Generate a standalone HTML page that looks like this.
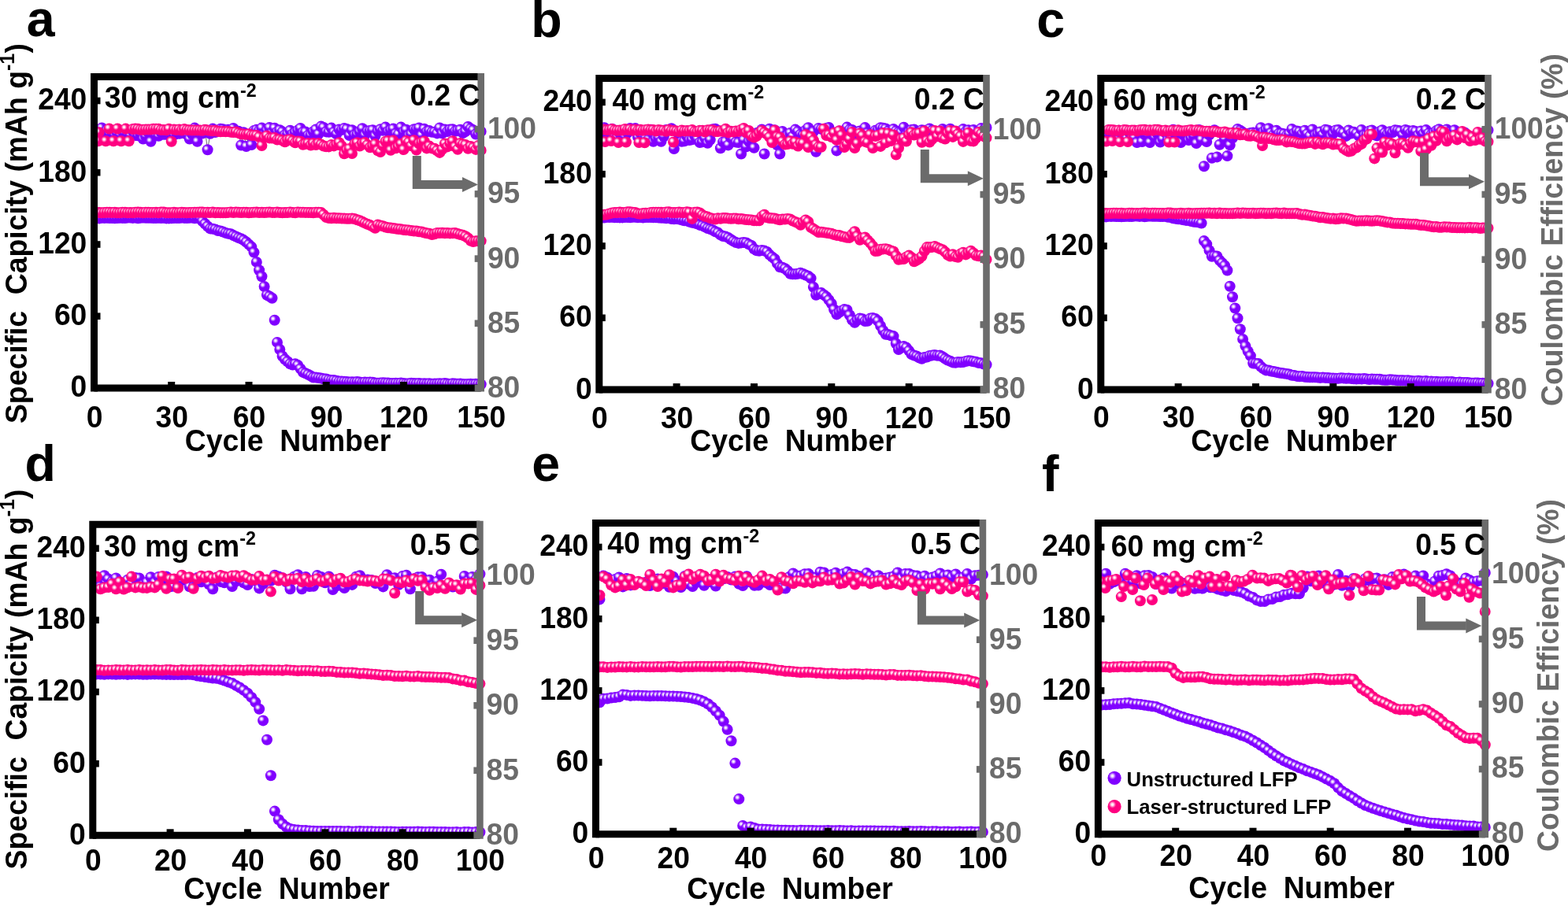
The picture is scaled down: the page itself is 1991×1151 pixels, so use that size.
<!DOCTYPE html>
<html lang="en"><head><meta charset="utf-8"><title>Cycling performance</title>
<style>html,body{margin:0;padding:0;background:#fff}body{width:1991px;height:1151px;overflow:hidden}svg{display:block}text{font-family:"Liberation Sans",Arial,Helvetica,sans-serif;font-weight:bold}</style></head><body>
<svg width="1991" height="1151" viewBox="0 0 1991 1151">
<defs>
<radialGradient id="gk" cx="0.35" cy="0.35" r="0.28"><stop offset="0" stop-color="#ffffff"/><stop offset="0.3" stop-color="#ffe0f0"/><stop offset="0.55" stop-color="#ff85c2"/><stop offset="0.8" stop-color="#ff2e97"/><stop offset="1" stop-color="#ff0080"/></radialGradient>
<radialGradient id="gu" cx="0.35" cy="0.35" r="0.28"><stop offset="0" stop-color="#ffffff"/><stop offset="0.3" stop-color="#f0e0ff"/><stop offset="0.55" stop-color="#c285ff"/><stop offset="0.8" stop-color="#972eff"/><stop offset="1" stop-color="#8000ff"/></radialGradient>
</defs>
<rect width="1991" height="1151" fill="#fff"/>
<g id="panel-a">
<g fill="url(#gu)">
<circle cx="122.8" cy="277.4" r="7.0"/><circle cx="126" cy="277.4" r="7.0"/><circle cx="129.3" cy="276.8" r="7.0"/><circle cx="132.6" cy="276.9" r="7.0"/><circle cx="135.9" cy="276.7" r="7.0"/><circle cx="139.1" cy="277" r="7.0"/><circle cx="142.4" cy="277.1" r="7.0"/><circle cx="145.7" cy="277.2" r="7.0"/><circle cx="149" cy="277.1" r="7.0"/><circle cx="152.2" cy="276.8" r="7.0"/><circle cx="155.5" cy="276.9" r="7.0"/><circle cx="158.8" cy="277" r="7.0"/><circle cx="162.1" cy="276.5" r="7.0"/><circle cx="165.3" cy="276.6" r="7.0"/><circle cx="168.6" cy="276.9" r="7.0"/><circle cx="171.9" cy="276.6" r="7.0"/><circle cx="175.2" cy="277.2" r="7.0"/><circle cx="178.4" cy="276.8" r="7.0"/><circle cx="181.7" cy="276.6" r="7.0"/><circle cx="185" cy="276.7" r="7.0"/><circle cx="188.3" cy="276.7" r="7.0"/><circle cx="191.5" cy="276.7" r="7.0"/><circle cx="194.8" cy="277" r="7.0"/><circle cx="198.1" cy="277" r="7.0"/><circle cx="201.4" cy="276.8" r="7.0"/><circle cx="204.6" cy="277.1" r="7.0"/><circle cx="207.9" cy="276.7" r="7.0"/><circle cx="211.2" cy="277.4" r="7.0"/><circle cx="214.5" cy="277.4" r="7.0"/><circle cx="217.7" cy="277.2" r="7.0"/><circle cx="221" cy="276.9" r="7.0"/><circle cx="224.3" cy="277" r="7.0"/><circle cx="227.6" cy="277" r="7.0"/><circle cx="230.8" cy="276.6" r="7.0"/><circle cx="234.1" cy="276.9" r="7.0"/><circle cx="237.4" cy="277" r="7.0"/><circle cx="240.7" cy="276.7" r="7.0"/><circle cx="243.9" cy="276.6" r="7.0"/><circle cx="247.2" cy="277.2" r="7.0"/><circle cx="250.5" cy="276.8" r="7.0"/><circle cx="253.8" cy="277.2" r="7.0"/><circle cx="257" cy="281" r="7.0"/><circle cx="260.3" cy="284.3" r="7.0"/><circle cx="263.6" cy="287.5" r="7.0"/><circle cx="266.9" cy="290.4" r="7.0"/><circle cx="270.1" cy="290.8" r="7.0"/><circle cx="273.4" cy="291.4" r="7.0"/><circle cx="276.7" cy="293" r="7.0"/><circle cx="280" cy="293.4" r="7.0"/><circle cx="283.2" cy="294.5" r="7.0"/><circle cx="286.5" cy="295.9" r="7.0"/><circle cx="289.8" cy="296.8" r="7.0"/><circle cx="293.1" cy="297.2" r="7.0"/><circle cx="296.3" cy="299.1" r="7.0"/><circle cx="299.6" cy="300.5" r="7.0"/><circle cx="302.9" cy="302.1" r="7.0"/><circle cx="306.2" cy="303.3" r="7.0"/><circle cx="309.4" cy="305.1" r="7.0"/><circle cx="312.7" cy="307.5" r="7.0"/><circle cx="316" cy="310.6" r="7.0"/><circle cx="319.3" cy="313.6" r="7.0"/><circle cx="322.5" cy="320.6" r="7.0"/><circle cx="325.8" cy="332.9" r="7.0"/><circle cx="329.1" cy="343.3" r="7.0"/><circle cx="332.4" cy="351.3" r="7.0"/><circle cx="335.6" cy="364" r="7.0"/><circle cx="338.9" cy="374.8" r="7.0"/><circle cx="342.2" cy="376.5" r="7.0"/><circle cx="345.5" cy="378.7" r="7.0"/><circle cx="348.7" cy="406.8" r="7.0"/><circle cx="352" cy="434.9" r="7.0"/><circle cx="355.3" cy="444" r="7.0"/><circle cx="358.6" cy="452.5" r="7.0"/><circle cx="361.8" cy="456.5" r="7.0"/><circle cx="365.1" cy="459.2" r="7.0"/><circle cx="368.4" cy="462.2" r="7.0"/><circle cx="371.6" cy="463.5" r="7.0"/><circle cx="374.9" cy="462.3" r="7.0"/><circle cx="378.2" cy="464" r="7.0"/><circle cx="381.5" cy="468.4" r="7.0"/><circle cx="384.7" cy="472.7" r="7.0"/><circle cx="388" cy="474.3" r="7.0"/><circle cx="391.3" cy="475.8" r="7.0"/><circle cx="394.6" cy="477.6" r="7.0"/><circle cx="397.8" cy="479.5" r="7.0"/><circle cx="401.1" cy="479.5" r="7.0"/><circle cx="404.4" cy="480.1" r="7.0"/><circle cx="407.7" cy="480.5" r="7.0"/><circle cx="410.9" cy="481.3" r="7.0"/><circle cx="414.2" cy="481.6" r="7.0"/><circle cx="417.5" cy="482.4" r="7.0"/><circle cx="420.8" cy="483" r="7.0"/><circle cx="424" cy="483.1" r="7.0"/><circle cx="427.3" cy="483.7" r="7.0"/><circle cx="430.6" cy="484.6" r="7.0"/><circle cx="433.9" cy="484.5" r="7.0"/><circle cx="437.1" cy="484.8" r="7.0"/><circle cx="440.4" cy="485.1" r="7.0"/><circle cx="443.7" cy="485.4" r="7.0"/><circle cx="447" cy="485.3" r="7.0"/><circle cx="450.2" cy="485.6" r="7.0"/><circle cx="453.5" cy="485.1" r="7.0"/><circle cx="456.8" cy="485.4" r="7.0"/><circle cx="460.1" cy="486.1" r="7.0"/><circle cx="463.3" cy="485.5" r="7.0"/><circle cx="466.6" cy="485.8" r="7.0"/><circle cx="469.9" cy="485.6" r="7.0"/><circle cx="473.2" cy="485.7" r="7.0"/><circle cx="476.4" cy="486.5" r="7.0"/><circle cx="479.7" cy="486.7" r="7.0"/><circle cx="483" cy="486.5" r="7.0"/><circle cx="486.3" cy="486.2" r="7.0"/><circle cx="489.5" cy="486.4" r="7.0"/><circle cx="492.8" cy="486.5" r="7.0"/><circle cx="496.1" cy="487" r="7.0"/><circle cx="499.4" cy="487" r="7.0"/><circle cx="502.6" cy="486.8" r="7.0"/><circle cx="505.9" cy="486.9" r="7.0"/><circle cx="509.2" cy="486.6" r="7.0"/><circle cx="512.5" cy="487" r="7.0"/><circle cx="515.7" cy="487.4" r="7.0"/><circle cx="519" cy="487.3" r="7.0"/><circle cx="522.3" cy="486.8" r="7.0"/><circle cx="525.6" cy="487.1" r="7.0"/><circle cx="528.8" cy="487.3" r="7.0"/><circle cx="532.1" cy="487" r="7.0"/><circle cx="535.4" cy="487.6" r="7.0"/><circle cx="538.7" cy="487.2" r="7.0"/><circle cx="541.9" cy="487.5" r="7.0"/><circle cx="545.2" cy="487.2" r="7.0"/><circle cx="548.5" cy="487.8" r="7.0"/><circle cx="551.8" cy="487.6" r="7.0"/><circle cx="555" cy="487.5" r="7.0"/><circle cx="558.3" cy="487.2" r="7.0"/><circle cx="561.6" cy="487.4" r="7.0"/><circle cx="564.9" cy="487.1" r="7.0"/><circle cx="568.1" cy="487.6" r="7.0"/><circle cx="571.4" cy="487.9" r="7.0"/><circle cx="574.7" cy="487.3" r="7.0"/><circle cx="578" cy="487.6" r="7.0"/><circle cx="581.2" cy="487.7" r="7.0"/><circle cx="584.5" cy="487.6" r="7.0"/><circle cx="587.8" cy="487.9" r="7.0"/><circle cx="591.1" cy="488.2" r="7.0"/><circle cx="594.3" cy="488" r="7.0"/><circle cx="597.6" cy="487.8" r="7.0"/><circle cx="600.9" cy="488.3" r="7.0"/><circle cx="604.2" cy="487.8" r="7.0"/><circle cx="607.4" cy="488.2" r="7.0"/><circle cx="610.7" cy="488.2" r="7.0"/>
</g>
<g fill="url(#gk)">
<circle cx="122.8" cy="269.9" r="7.0"/><circle cx="126" cy="270.1" r="7.0"/><circle cx="129.3" cy="270.3" r="7.0"/><circle cx="132.6" cy="270" r="7.0"/><circle cx="135.9" cy="269.8" r="7.0"/><circle cx="139.1" cy="269.7" r="7.0"/><circle cx="142.4" cy="270.1" r="7.0"/><circle cx="145.7" cy="269.7" r="7.0"/><circle cx="149" cy="270.3" r="7.0"/><circle cx="152.2" cy="270.3" r="7.0"/><circle cx="155.5" cy="269.7" r="7.0"/><circle cx="158.8" cy="269.8" r="7.0"/><circle cx="162.1" cy="270.2" r="7.0"/><circle cx="165.3" cy="270" r="7.0"/><circle cx="168.6" cy="270.2" r="7.0"/><circle cx="171.9" cy="269.8" r="7.0"/><circle cx="175.2" cy="269.6" r="7.0"/><circle cx="178.4" cy="269.7" r="7.0"/><circle cx="181.7" cy="270.2" r="7.0"/><circle cx="185" cy="269.7" r="7.0"/><circle cx="188.3" cy="269.8" r="7.0"/><circle cx="191.5" cy="269.9" r="7.0"/><circle cx="194.8" cy="269.9" r="7.0"/><circle cx="198.1" cy="269.8" r="7.0"/><circle cx="201.4" cy="270.3" r="7.0"/><circle cx="204.6" cy="269.6" r="7.0"/><circle cx="207.9" cy="269.5" r="7.0"/><circle cx="211.2" cy="270.2" r="7.0"/><circle cx="214.5" cy="270.2" r="7.0"/><circle cx="217.7" cy="270.3" r="7.0"/><circle cx="221" cy="269.8" r="7.0"/><circle cx="224.3" cy="270.3" r="7.0"/><circle cx="227.6" cy="270.3" r="7.0"/><circle cx="230.8" cy="269.7" r="7.0"/><circle cx="234.1" cy="270.1" r="7.0"/><circle cx="237.4" cy="270.2" r="7.0"/><circle cx="240.7" cy="270.1" r="7.0"/><circle cx="243.9" cy="269.9" r="7.0"/><circle cx="247.2" cy="269.7" r="7.0"/><circle cx="250.5" cy="269.8" r="7.0"/><circle cx="253.8" cy="269.6" r="7.0"/><circle cx="257" cy="269.5" r="7.0"/><circle cx="260.3" cy="269.9" r="7.0"/><circle cx="263.6" cy="269.7" r="7.0"/><circle cx="266.9" cy="270.1" r="7.0"/><circle cx="270.1" cy="269.5" r="7.0"/><circle cx="273.4" cy="270.2" r="7.0"/><circle cx="276.7" cy="270" r="7.0"/><circle cx="280" cy="270.2" r="7.0"/><circle cx="283.2" cy="270.2" r="7.0"/><circle cx="286.5" cy="270.2" r="7.0"/><circle cx="289.8" cy="269.9" r="7.0"/><circle cx="293.1" cy="269.4" r="7.0"/><circle cx="296.3" cy="270" r="7.0"/><circle cx="299.6" cy="269.6" r="7.0"/><circle cx="302.9" cy="269.7" r="7.0"/><circle cx="306.2" cy="270" r="7.0"/><circle cx="309.4" cy="269.8" r="7.0"/><circle cx="312.7" cy="269.8" r="7.0"/><circle cx="316" cy="270.2" r="7.0"/><circle cx="319.3" cy="269.9" r="7.0"/><circle cx="322.5" cy="269.7" r="7.0"/><circle cx="325.8" cy="269.6" r="7.0"/><circle cx="329.1" cy="270.1" r="7.0"/><circle cx="332.4" cy="269.8" r="7.0"/><circle cx="335.6" cy="270.1" r="7.0"/><circle cx="338.9" cy="269.7" r="7.0"/><circle cx="342.2" cy="269.6" r="7.0"/><circle cx="345.5" cy="269.9" r="7.0"/><circle cx="348.7" cy="270.1" r="7.0"/><circle cx="352" cy="269.5" r="7.0"/><circle cx="355.3" cy="270.1" r="7.0"/><circle cx="358.6" cy="270.2" r="7.0"/><circle cx="361.8" cy="270.1" r="7.0"/><circle cx="365.1" cy="270.1" r="7.0"/><circle cx="368.4" cy="269.4" r="7.0"/><circle cx="371.6" cy="269.9" r="7.0"/><circle cx="374.9" cy="270.2" r="7.0"/><circle cx="378.2" cy="269.4" r="7.0"/><circle cx="381.5" cy="269.7" r="7.0"/><circle cx="384.7" cy="269.7" r="7.0"/><circle cx="388" cy="269.9" r="7.0"/><circle cx="391.3" cy="269.9" r="7.0"/><circle cx="394.6" cy="270" r="7.0"/><circle cx="397.8" cy="270.3" r="7.0"/><circle cx="401.1" cy="269.7" r="7.0"/><circle cx="404.4" cy="269.8" r="7.0"/><circle cx="407.7" cy="269.9" r="7.0"/><circle cx="410.9" cy="272.7" r="7.0"/><circle cx="414.2" cy="276.1" r="7.0"/><circle cx="417.5" cy="277.1" r="7.0"/><circle cx="420.8" cy="277.2" r="7.0"/><circle cx="424" cy="276.7" r="7.0"/><circle cx="427.3" cy="277.3" r="7.0"/><circle cx="430.6" cy="277.3" r="7.0"/><circle cx="433.9" cy="277.5" r="7.0"/><circle cx="437.1" cy="277.6" r="7.0"/><circle cx="440.4" cy="277.8" r="7.0"/><circle cx="443.7" cy="277.7" r="7.0"/><circle cx="447" cy="277.5" r="7.0"/><circle cx="450.2" cy="278" r="7.0"/><circle cx="453.5" cy="279.3" r="7.0"/><circle cx="456.8" cy="280.2" r="7.0"/><circle cx="460.1" cy="281.8" r="7.0"/><circle cx="463.3" cy="283.4" r="7.0"/><circle cx="466.6" cy="284.7" r="7.0"/><circle cx="469.9" cy="286.1" r="7.0"/><circle cx="473.2" cy="287.8" r="7.0"/><circle cx="476.4" cy="289.8" r="7.0"/><circle cx="479.7" cy="285.6" r="7.0"/><circle cx="483" cy="286.6" r="7.0"/><circle cx="486.3" cy="287.2" r="7.0"/><circle cx="489.5" cy="288.5" r="7.0"/><circle cx="492.8" cy="289.2" r="7.0"/><circle cx="496.1" cy="289.6" r="7.0"/><circle cx="499.4" cy="290" r="7.0"/><circle cx="502.6" cy="290.5" r="7.0"/><circle cx="505.9" cy="291.1" r="7.0"/><circle cx="509.2" cy="291.3" r="7.0"/><circle cx="512.5" cy="292" r="7.0"/><circle cx="515.7" cy="292.2" r="7.0"/><circle cx="519" cy="292.4" r="7.0"/><circle cx="522.3" cy="293.1" r="7.0"/><circle cx="525.6" cy="293.6" r="7.0"/><circle cx="528.8" cy="293.5" r="7.0"/><circle cx="532.1" cy="294.2" r="7.0"/><circle cx="535.4" cy="294.6" r="7.0"/><circle cx="538.7" cy="295.5" r="7.0"/><circle cx="541.9" cy="296.2" r="7.0"/><circle cx="545.2" cy="296.7" r="7.0"/><circle cx="548.5" cy="298.1" r="7.0"/><circle cx="551.8" cy="297.3" r="7.0"/><circle cx="555" cy="295.9" r="7.0"/><circle cx="558.3" cy="296" r="7.0"/><circle cx="561.6" cy="295.7" r="7.0"/><circle cx="564.9" cy="296.3" r="7.0"/><circle cx="568.1" cy="296.1" r="7.0"/><circle cx="571.4" cy="296.4" r="7.0"/><circle cx="574.7" cy="296.2" r="7.0"/><circle cx="578" cy="296.1" r="7.0"/><circle cx="581.2" cy="297" r="7.0"/><circle cx="584.5" cy="298" r="7.0"/><circle cx="587.8" cy="298.7" r="7.0"/><circle cx="591.1" cy="300.2" r="7.0"/><circle cx="594.3" cy="302.4" r="7.0"/><circle cx="597.6" cy="305.8" r="7.0"/><circle cx="600.9" cy="307.1" r="7.0"/><circle cx="604.2" cy="306.3" r="7.0"/><circle cx="607.4" cy="306.2" r="7.0"/><circle cx="610.7" cy="306.1" r="7.0"/>
</g>
<polyline fill="none" stroke="#444" stroke-width="0.8" points="122.8,169 126,168.1 129.3,162.5 132.6,168 135.9,165.4 139.1,169.8 142.4,168 145.7,171.5 149,169.6 152.2,170.9 155.5,166.2 158.8,169.1 162.1,170.2 165.3,171.3 168.6,166.3 171.9,171.9 175.2,172.2 178.4,170.2 181.7,176.6 185,172.9 188.3,168 191.5,179.8 194.8,164.7 198.1,171.6 201.4,172.8 204.6,168.1 207.9,170.7 211.2,170.7 214.5,170.7 217.7,165.2 221,171.2 224.3,168.8 227.6,169.8 230.8,167.7 234.1,169.3 237.4,170.7 240.7,176.6 243.9,170.2 247.2,162.6 250.5,179.8 253.8,167.5 257,169.6 260.3,165.1 263.6,190.3 266.9,169.8 270.1,163.6 273.4,168 276.7,165.6 280,163.7 283.2,164.2 286.5,166 289.8,164.8 293.1,164.8 296.3,163 299.6,167.7 302.9,166.7 306.2,184.5 309.4,168.2 312.7,186 316,171.4 319.3,184 322.5,165.9 325.8,164.8 329.1,165.7 332.4,162.6 335.6,170.8 338.9,165.8 342.2,162.1 345.5,169 348.7,162.8 352,167.4 355.3,165.2 358.6,167.4 361.8,171.2 365.1,170 368.4,165.8 371.6,170.2 374.9,168.2 378.2,165.6 381.5,162.9 384.7,168 388,167.6 391.3,172 394.6,171.6 397.8,167.2 401.1,164.5 404.4,170.4 407.7,160.6 410.9,162 414.2,167.4 417.5,167.8 420.8,162.6 424,167.9 427.3,170.4 430.6,164.5 433.9,165.1 437.1,163 440.4,163.9 443.7,172 447,165.3 450.2,171.6 453.5,170.7 456.8,167 460.1,163.3 463.3,171.7 466.6,166.6 469.9,166.1 473.2,165.2 476.4,172.7 479.7,166.7 483,164.2 486.3,165.8 489.5,161.6 492.8,167 496.1,165.2 499.4,163.6 502.6,169.7 505.9,170.6 509.2,161.6 512.5,167.5 515.7,164.8 519,172.1 522.3,170.3 525.6,164.3 528.8,164.1 532.1,162.5 535.4,171.8 538.7,163.8 541.9,167.3 545.2,166.1 548.5,167.7 551.8,167.7 555,169.4 558.3,162.4 561.6,169.4 564.9,164.6 568.1,167 571.4,164.6 574.7,164.3 578,166.8 581.2,165.8 584.5,164.8 587.8,169.1 591.1,167 594.3,161 597.6,163.4 600.9,165.3 604.2,170.6 607.4,170.5 610.7,167"/>
<g fill="url(#gu)">
<circle cx="122.8" cy="169" r="7.0"/><circle cx="126" cy="168.1" r="7.0"/><circle cx="129.3" cy="162.5" r="7.0"/><circle cx="132.6" cy="168" r="7.0"/><circle cx="135.9" cy="165.4" r="7.0"/><circle cx="139.1" cy="169.8" r="7.0"/><circle cx="142.4" cy="168" r="7.0"/><circle cx="145.7" cy="171.5" r="7.0"/><circle cx="149" cy="169.6" r="7.0"/><circle cx="152.2" cy="170.9" r="7.0"/><circle cx="155.5" cy="166.2" r="7.0"/><circle cx="158.8" cy="169.1" r="7.0"/><circle cx="162.1" cy="170.2" r="7.0"/><circle cx="165.3" cy="171.3" r="7.0"/><circle cx="168.6" cy="166.3" r="7.0"/><circle cx="171.9" cy="171.9" r="7.0"/><circle cx="175.2" cy="172.2" r="7.0"/><circle cx="178.4" cy="170.2" r="7.0"/><circle cx="181.7" cy="176.6" r="7.0"/><circle cx="185" cy="172.9" r="7.0"/><circle cx="188.3" cy="168" r="7.0"/><circle cx="191.5" cy="179.8" r="7.0"/><circle cx="194.8" cy="164.7" r="7.0"/><circle cx="198.1" cy="171.6" r="7.0"/><circle cx="201.4" cy="172.8" r="7.0"/><circle cx="204.6" cy="168.1" r="7.0"/><circle cx="207.9" cy="170.7" r="7.0"/><circle cx="211.2" cy="170.7" r="7.0"/><circle cx="214.5" cy="170.7" r="7.0"/><circle cx="217.7" cy="165.2" r="7.0"/><circle cx="221" cy="171.2" r="7.0"/><circle cx="224.3" cy="168.8" r="7.0"/><circle cx="227.6" cy="169.8" r="7.0"/><circle cx="230.8" cy="167.7" r="7.0"/><circle cx="234.1" cy="169.3" r="7.0"/><circle cx="237.4" cy="170.7" r="7.0"/><circle cx="240.7" cy="176.6" r="7.0"/><circle cx="243.9" cy="170.2" r="7.0"/><circle cx="247.2" cy="162.6" r="7.0"/><circle cx="250.5" cy="179.8" r="7.0"/><circle cx="253.8" cy="167.5" r="7.0"/><circle cx="257" cy="169.6" r="7.0"/><circle cx="260.3" cy="165.1" r="7.0"/><circle cx="263.6" cy="190.3" r="7.0"/><circle cx="266.9" cy="169.8" r="7.0"/><circle cx="270.1" cy="163.6" r="7.0"/><circle cx="273.4" cy="168" r="7.0"/><circle cx="276.7" cy="165.6" r="7.0"/><circle cx="280" cy="163.7" r="7.0"/><circle cx="283.2" cy="164.2" r="7.0"/><circle cx="286.5" cy="166" r="7.0"/><circle cx="289.8" cy="164.8" r="7.0"/><circle cx="293.1" cy="164.8" r="7.0"/><circle cx="296.3" cy="163" r="7.0"/><circle cx="299.6" cy="167.7" r="7.0"/><circle cx="302.9" cy="166.7" r="7.0"/><circle cx="306.2" cy="184.5" r="7.0"/><circle cx="309.4" cy="168.2" r="7.0"/><circle cx="312.7" cy="186" r="7.0"/><circle cx="316" cy="171.4" r="7.0"/><circle cx="319.3" cy="184" r="7.0"/><circle cx="322.5" cy="165.9" r="7.0"/><circle cx="325.8" cy="164.8" r="7.0"/><circle cx="329.1" cy="165.7" r="7.0"/><circle cx="332.4" cy="162.6" r="7.0"/><circle cx="335.6" cy="170.8" r="7.0"/><circle cx="338.9" cy="165.8" r="7.0"/><circle cx="342.2" cy="162.1" r="7.0"/><circle cx="345.5" cy="169" r="7.0"/><circle cx="348.7" cy="162.8" r="7.0"/><circle cx="352" cy="167.4" r="7.0"/><circle cx="355.3" cy="165.2" r="7.0"/><circle cx="358.6" cy="167.4" r="7.0"/><circle cx="361.8" cy="171.2" r="7.0"/><circle cx="365.1" cy="170" r="7.0"/><circle cx="368.4" cy="165.8" r="7.0"/><circle cx="371.6" cy="170.2" r="7.0"/><circle cx="374.9" cy="168.2" r="7.0"/><circle cx="378.2" cy="165.6" r="7.0"/><circle cx="381.5" cy="162.9" r="7.0"/><circle cx="384.7" cy="168" r="7.0"/><circle cx="388" cy="167.6" r="7.0"/><circle cx="391.3" cy="172" r="7.0"/><circle cx="394.6" cy="171.6" r="7.0"/><circle cx="397.8" cy="167.2" r="7.0"/><circle cx="401.1" cy="164.5" r="7.0"/><circle cx="404.4" cy="170.4" r="7.0"/><circle cx="407.7" cy="160.6" r="7.0"/><circle cx="410.9" cy="162" r="7.0"/><circle cx="414.2" cy="167.4" r="7.0"/><circle cx="417.5" cy="167.8" r="7.0"/><circle cx="420.8" cy="162.6" r="7.0"/><circle cx="424" cy="167.9" r="7.0"/><circle cx="427.3" cy="170.4" r="7.0"/><circle cx="430.6" cy="164.5" r="7.0"/><circle cx="433.9" cy="165.1" r="7.0"/><circle cx="437.1" cy="163" r="7.0"/><circle cx="440.4" cy="163.9" r="7.0"/><circle cx="443.7" cy="172" r="7.0"/><circle cx="447" cy="165.3" r="7.0"/><circle cx="450.2" cy="171.6" r="7.0"/><circle cx="453.5" cy="170.7" r="7.0"/><circle cx="456.8" cy="167" r="7.0"/><circle cx="460.1" cy="163.3" r="7.0"/><circle cx="463.3" cy="171.7" r="7.0"/><circle cx="466.6" cy="166.6" r="7.0"/><circle cx="469.9" cy="166.1" r="7.0"/><circle cx="473.2" cy="165.2" r="7.0"/><circle cx="476.4" cy="172.7" r="7.0"/><circle cx="479.7" cy="166.7" r="7.0"/><circle cx="483" cy="164.2" r="7.0"/><circle cx="486.3" cy="165.8" r="7.0"/><circle cx="489.5" cy="161.6" r="7.0"/><circle cx="492.8" cy="167" r="7.0"/><circle cx="496.1" cy="165.2" r="7.0"/><circle cx="499.4" cy="163.6" r="7.0"/><circle cx="502.6" cy="169.7" r="7.0"/><circle cx="505.9" cy="170.6" r="7.0"/><circle cx="509.2" cy="161.6" r="7.0"/><circle cx="512.5" cy="167.5" r="7.0"/><circle cx="515.7" cy="164.8" r="7.0"/><circle cx="519" cy="172.1" r="7.0"/><circle cx="522.3" cy="170.3" r="7.0"/><circle cx="525.6" cy="164.3" r="7.0"/><circle cx="528.8" cy="164.1" r="7.0"/><circle cx="532.1" cy="162.5" r="7.0"/><circle cx="535.4" cy="171.8" r="7.0"/><circle cx="538.7" cy="163.8" r="7.0"/><circle cx="541.9" cy="167.3" r="7.0"/><circle cx="545.2" cy="166.1" r="7.0"/><circle cx="548.5" cy="167.7" r="7.0"/><circle cx="551.8" cy="167.7" r="7.0"/><circle cx="555" cy="169.4" r="7.0"/><circle cx="558.3" cy="162.4" r="7.0"/><circle cx="561.6" cy="169.4" r="7.0"/><circle cx="564.9" cy="164.6" r="7.0"/><circle cx="568.1" cy="167" r="7.0"/><circle cx="571.4" cy="164.6" r="7.0"/><circle cx="574.7" cy="164.3" r="7.0"/><circle cx="578" cy="166.8" r="7.0"/><circle cx="581.2" cy="165.8" r="7.0"/><circle cx="584.5" cy="164.8" r="7.0"/><circle cx="587.8" cy="169.1" r="7.0"/><circle cx="591.1" cy="167" r="7.0"/><circle cx="594.3" cy="161" r="7.0"/><circle cx="597.6" cy="163.4" r="7.0"/><circle cx="600.9" cy="165.3" r="7.0"/><circle cx="604.2" cy="170.6" r="7.0"/><circle cx="607.4" cy="170.5" r="7.0"/><circle cx="610.7" cy="167" r="7.0"/>
</g>
<g fill="url(#gk)">
<circle cx="125.6" cy="168.2" r="7.0"/><circle cx="124.5" cy="179.2" r="7.0"/><circle cx="134.3" cy="179.2" r="7.0"/><circle cx="144.1" cy="179.2" r="7.0"/><circle cx="153.9" cy="179.2" r="7.0"/><circle cx="163.7" cy="179.2" r="7.0"/><circle cx="138.7" cy="163.5" r="7.0"/><circle cx="149.2" cy="163.5" r="7.0"/><circle cx="159.6" cy="163.6" r="7.0"/><circle cx="168.6" cy="164" r="7.0"/><circle cx="171.9" cy="163.5" r="7.0"/><circle cx="175.2" cy="163.8" r="7.0"/><circle cx="178.4" cy="164.7" r="7.0"/><circle cx="181.7" cy="164.8" r="7.0"/><circle cx="185" cy="164.4" r="7.0"/><circle cx="188.3" cy="164.5" r="7.0"/><circle cx="191.5" cy="164.4" r="7.0"/><circle cx="194.8" cy="163.8" r="7.0"/><circle cx="198.1" cy="163.7" r="7.0"/><circle cx="201.4" cy="163.7" r="7.0"/><circle cx="204.6" cy="165.1" r="7.0"/><circle cx="207.9" cy="164.9" r="7.0"/><circle cx="211.2" cy="165.3" r="7.0"/><circle cx="214.5" cy="163.8" r="7.0"/><circle cx="217.7" cy="179.8" r="7.0"/><circle cx="221" cy="164.6" r="7.0"/><circle cx="224.3" cy="165" r="7.0"/><circle cx="227.6" cy="164.4" r="7.0"/><circle cx="230.8" cy="165.5" r="7.0"/><circle cx="234.1" cy="164.1" r="7.0"/><circle cx="237.4" cy="164.9" r="7.0"/><circle cx="240.7" cy="165.3" r="7.0"/><circle cx="243.9" cy="165.6" r="7.0"/><circle cx="247.2" cy="165.4" r="7.0"/><circle cx="250.5" cy="165.4" r="7.0"/><circle cx="253.8" cy="165.5" r="7.0"/><circle cx="257" cy="165.7" r="7.0"/><circle cx="260.3" cy="164.8" r="7.0"/><circle cx="263.6" cy="165.4" r="7.0"/><circle cx="266.9" cy="165.9" r="7.0"/><circle cx="270.1" cy="166.2" r="7.0"/><circle cx="273.4" cy="165.8" r="7.0"/><circle cx="276.7" cy="166.8" r="7.0"/><circle cx="280" cy="167.2" r="7.0"/><circle cx="283.2" cy="167" r="7.0"/><circle cx="286.5" cy="167.3" r="7.0"/><circle cx="289.8" cy="167.1" r="7.0"/><circle cx="293.1" cy="167.7" r="7.0"/><circle cx="296.3" cy="168.1" r="7.0"/><circle cx="299.6" cy="167.5" r="7.0"/><circle cx="302.9" cy="168.9" r="7.0"/><circle cx="306.2" cy="170.2" r="7.0"/><circle cx="309.4" cy="170.5" r="7.0"/><circle cx="312.7" cy="170.7" r="7.0"/><circle cx="316" cy="170.2" r="7.0"/><circle cx="319.3" cy="171.9" r="7.0"/><circle cx="322.5" cy="171.9" r="7.0"/><circle cx="325.8" cy="171.9" r="7.0"/><circle cx="329.1" cy="174" r="7.0"/><circle cx="332.4" cy="185" r="7.0"/><circle cx="335.6" cy="174.9" r="7.0"/><circle cx="338.9" cy="172.4" r="7.0"/><circle cx="342.2" cy="175.4" r="7.0"/><circle cx="345.5" cy="175.5" r="7.0"/><circle cx="348.7" cy="174.9" r="7.0"/><circle cx="352" cy="177.6" r="7.0"/><circle cx="355.3" cy="177.2" r="7.0"/><circle cx="358.6" cy="178.4" r="7.0"/><circle cx="361.8" cy="180.3" r="7.0"/><circle cx="365.1" cy="177.8" r="7.0"/><circle cx="368.4" cy="177.2" r="7.0"/><circle cx="371.6" cy="179" r="7.0"/><circle cx="374.9" cy="181.2" r="7.0"/><circle cx="378.2" cy="179.5" r="7.0"/><circle cx="381.5" cy="179.7" r="7.0"/><circle cx="384.7" cy="183.7" r="7.0"/><circle cx="388" cy="182.8" r="7.0"/><circle cx="391.3" cy="182" r="7.0"/><circle cx="394.6" cy="184.5" r="7.0"/><circle cx="397.8" cy="182.1" r="7.0"/><circle cx="401.1" cy="184.1" r="7.0"/><circle cx="404.4" cy="182.1" r="7.0"/><circle cx="407.7" cy="183.5" r="7.0"/><circle cx="410.9" cy="185.5" r="7.0"/><circle cx="414.2" cy="186.3" r="7.0"/><circle cx="417.5" cy="186.4" r="7.0"/><circle cx="420.8" cy="184" r="7.0"/><circle cx="424" cy="185.4" r="7.0"/><circle cx="427.3" cy="183.5" r="7.0"/><circle cx="430.6" cy="181.2" r="7.0"/><circle cx="433.9" cy="185.4" r="7.0"/><circle cx="437.1" cy="195.3" r="7.0"/><circle cx="440.4" cy="190.8" r="7.0"/><circle cx="443.7" cy="188.9" r="7.0"/><circle cx="447" cy="195" r="7.0"/><circle cx="450.2" cy="182.7" r="7.0"/><circle cx="453.5" cy="181.2" r="7.0"/><circle cx="456.8" cy="185.6" r="7.0"/><circle cx="460.1" cy="182.3" r="7.0"/><circle cx="463.3" cy="181.1" r="7.0"/><circle cx="466.6" cy="184.1" r="7.0"/><circle cx="469.9" cy="187.3" r="7.0"/><circle cx="473.2" cy="185.5" r="7.0"/><circle cx="476.4" cy="183.1" r="7.0"/><circle cx="479.7" cy="191.2" r="7.0"/><circle cx="483" cy="193.1" r="7.0"/><circle cx="486.3" cy="185.2" r="7.0"/><circle cx="489.5" cy="179.8" r="7.0"/><circle cx="492.8" cy="179.1" r="7.0"/><circle cx="496.1" cy="190.8" r="7.0"/><circle cx="499.4" cy="178.6" r="7.0"/><circle cx="502.6" cy="188.3" r="7.0"/><circle cx="505.9" cy="186.2" r="7.0"/><circle cx="509.2" cy="182.8" r="7.0"/><circle cx="512.5" cy="190.1" r="7.0"/><circle cx="515.7" cy="178.9" r="7.0"/><circle cx="519" cy="180.7" r="7.0"/><circle cx="522.3" cy="185.3" r="7.0"/><circle cx="525.6" cy="178.2" r="7.0"/><circle cx="528.8" cy="190.5" r="7.0"/><circle cx="532.1" cy="182.2" r="7.0"/><circle cx="535.4" cy="180.9" r="7.0"/><circle cx="538.7" cy="179.4" r="7.0"/><circle cx="541.9" cy="188.4" r="7.0"/><circle cx="545.2" cy="185.6" r="7.0"/><circle cx="548.5" cy="188.4" r="7.0"/><circle cx="551.8" cy="188.7" r="7.0"/><circle cx="555" cy="191.2" r="7.0"/><circle cx="558.3" cy="193.9" r="7.0"/><circle cx="561.6" cy="189.8" r="7.0"/><circle cx="564.9" cy="182.5" r="7.0"/><circle cx="568.1" cy="186.4" r="7.0"/><circle cx="571.4" cy="181.9" r="7.0"/><circle cx="574.7" cy="179.3" r="7.0"/><circle cx="578" cy="186.4" r="7.0"/><circle cx="581.2" cy="189.8" r="7.0"/><circle cx="584.5" cy="182.1" r="7.0"/><circle cx="587.8" cy="183.2" r="7.0"/><circle cx="591.1" cy="184" r="7.0"/><circle cx="594.3" cy="188.8" r="7.0"/><circle cx="597.6" cy="186" r="7.0"/><circle cx="600.9" cy="187.5" r="7.0"/><circle cx="604.2" cy="189.9" r="7.0"/><circle cx="607.4" cy="184.9" r="7.0"/><circle cx="610.7" cy="190.9" r="7.0"/>
</g>
<path d="M529.3 198 V234.4 H587.5" fill="none" stroke="#6b6b6b" stroke-width="11"/>
<path d="M587 224.9 L607 234.4 L587 243.9 Z" fill="#6b6b6b"/>
<path d="M119.5 497.5 V97.6 H610.7" fill="none" stroke="#000" stroke-width="9" stroke-linejoin="miter"/>
<path d="M119.5 493 H610.7" fill="none" stroke="#000" stroke-width="9"/>
<rect x="119.5" y="123.7" width="8" height="8.6" fill="#000"/>
<text transform="translate(110.3 139.4) scale(0.94 1)" font-size="39.6" text-anchor="end" fill="#000">240</text>
<rect x="119.5" y="214.9" width="8" height="8.6" fill="#000"/>
<text transform="translate(110.3 230.7) scale(0.94 1)" font-size="39.6" text-anchor="end" fill="#000">180</text>
<rect x="119.5" y="306.2" width="8" height="8.6" fill="#000"/>
<text transform="translate(110.3 321.9) scale(0.94 1)" font-size="39.6" text-anchor="end" fill="#000">120</text>
<rect x="119.5" y="397.4" width="8" height="8.6" fill="#000"/>
<text transform="translate(110.3 413.1) scale(0.94 1)" font-size="39.6" text-anchor="end" fill="#000">60</text>
<text transform="translate(110.3 504.4) scale(0.94 1)" font-size="39.6" text-anchor="end" fill="#000">0</text>
<text transform="translate(120 542.6) scale(0.94 1)" font-size="39.6" text-anchor="middle" fill="#000">0</text>
<rect x="213.2" y="485" width="9" height="8" fill="#000"/>
<text transform="translate(218.2 542.6) scale(0.94 1)" font-size="39.6" text-anchor="middle" fill="#000">30</text>
<rect x="311.5" y="485" width="9" height="8" fill="#000"/>
<text transform="translate(316.5 542.6) scale(0.94 1)" font-size="39.6" text-anchor="middle" fill="#000">60</text>
<rect x="409.7" y="485" width="9" height="8" fill="#000"/>
<text transform="translate(414.7 542.6) scale(0.94 1)" font-size="39.6" text-anchor="middle" fill="#000">90</text>
<rect x="508" y="485" width="9" height="8" fill="#000"/>
<text transform="translate(513 542.6) scale(0.94 1)" font-size="39.6" text-anchor="middle" fill="#000">120</text>
<text transform="translate(611.2 542.6) scale(0.94 1)" font-size="39.6" text-anchor="middle" fill="#000">150</text>
<path d="M610.7 93.1 V497.5" fill="none" stroke="#6b6b6b" stroke-width="8.6"/>
<rect x="602.7" y="488.7" width="8" height="8.6" fill="#6b6b6b"/>
<text transform="translate(618.9 504.6) scale(0.94 1)" font-size="39.6" fill="#6b6b6b">80</text>
<rect x="602.7" y="406.5" width="8" height="8.6" fill="#6b6b6b"/>
<text transform="translate(618.9 422.5) scale(0.94 1)" font-size="39.6" fill="#6b6b6b">85</text>
<rect x="602.7" y="324.3" width="8" height="8.6" fill="#6b6b6b"/>
<text transform="translate(618.9 340.5) scale(0.94 1)" font-size="39.6" fill="#6b6b6b">90</text>
<rect x="602.7" y="242.1" width="8" height="8.6" fill="#6b6b6b"/>
<text transform="translate(618.9 258.4) scale(0.94 1)" font-size="39.6" fill="#6b6b6b">95</text>
<rect x="602.7" y="159.9" width="8" height="8.6" fill="#6b6b6b"/>
<text transform="translate(618.9 176.3) scale(0.94 1)" font-size="39.6" fill="#6b6b6b">100</text>
<text transform="translate(132.8 137.1) scale(0.97 1)" font-size="38.5" fill="#000">30 mg cm<tspan font-size="24" dy="-14.5">-2</tspan></text>
<text transform="translate(609.5 134.3) scale(0.94 1)" font-size="39.6" text-anchor="end" fill="#000">0.2 C</text>
<text transform="translate(365.5 573.4) scale(0.97 1)" font-size="38.5" text-anchor="middle" fill="#000" xml:space="preserve" style="white-space:pre">Cycle  Number</text>
<text transform="translate(33.7 46) scale(1 1)" font-size="64.5" fill="#000">a</text>
</g>
<g id="panel-b">
<g fill="url(#gu)">
<circle cx="764.1" cy="276.5" r="7.0"/><circle cx="767.4" cy="276.5" r="7.0"/><circle cx="770.6" cy="275.8" r="7.0"/><circle cx="773.9" cy="276" r="7.0"/><circle cx="777.2" cy="275.8" r="7.0"/><circle cx="780.5" cy="276.2" r="7.0"/><circle cx="783.7" cy="276.2" r="7.0"/><circle cx="787" cy="276.4" r="7.0"/><circle cx="790.3" cy="276.4" r="7.0"/><circle cx="793.6" cy="275.9" r="7.0"/><circle cx="796.9" cy="276.1" r="7.0"/><circle cx="800.1" cy="276.2" r="7.0"/><circle cx="803.4" cy="275.7" r="7.0"/><circle cx="806.7" cy="275.8" r="7.0"/><circle cx="810" cy="276.2" r="7.0"/><circle cx="813.2" cy="275.9" r="7.0"/><circle cx="816.5" cy="276.6" r="7.0"/><circle cx="819.8" cy="276.1" r="7.0"/><circle cx="823.1" cy="276" r="7.0"/><circle cx="826.4" cy="276.1" r="7.0"/><circle cx="829.6" cy="276.2" r="7.0"/><circle cx="832.9" cy="276.2" r="7.0"/><circle cx="836.2" cy="276.6" r="7.0"/><circle cx="839.5" cy="276.7" r="7.0"/><circle cx="842.8" cy="276.7" r="7.0"/><circle cx="846" cy="277.3" r="7.0"/><circle cx="849.3" cy="277" r="7.0"/><circle cx="852.6" cy="278" r="7.0"/><circle cx="855.9" cy="278.2" r="7.0"/><circle cx="859.1" cy="278.1" r="7.0"/><circle cx="862.4" cy="278.5" r="7.0"/><circle cx="865.7" cy="279.4" r="7.0"/><circle cx="869" cy="280.2" r="7.0"/><circle cx="872.3" cy="280.5" r="7.0"/><circle cx="875.5" cy="281.7" r="7.0"/><circle cx="878.8" cy="282.8" r="7.0"/><circle cx="882.1" cy="283.4" r="7.0"/><circle cx="885.4" cy="284.2" r="7.0"/><circle cx="888.6" cy="285.9" r="7.0"/><circle cx="891.9" cy="286.6" r="7.0"/><circle cx="895.2" cy="288.2" r="7.0"/><circle cx="898.5" cy="290" r="7.0"/><circle cx="901.8" cy="291.1" r="7.0"/><circle cx="905" cy="292.2" r="7.0"/><circle cx="908.3" cy="294.3" r="7.0"/><circle cx="911.6" cy="295.6" r="7.0"/><circle cx="914.9" cy="298.4" r="7.0"/><circle cx="918.1" cy="300.1" r="7.0"/><circle cx="921.4" cy="300.6" r="7.0"/><circle cx="924.7" cy="301.9" r="7.0"/><circle cx="928" cy="304.2" r="7.0"/><circle cx="931.3" cy="306.4" r="7.0"/><circle cx="934.5" cy="308.1" r="7.0"/><circle cx="937.8" cy="308.9" r="7.0"/><circle cx="941.1" cy="308.4" r="7.0"/><circle cx="944.4" cy="308.1" r="7.0"/><circle cx="947.6" cy="308.4" r="7.0"/><circle cx="950.9" cy="310.4" r="7.0"/><circle cx="954.2" cy="311.9" r="7.0"/><circle cx="957.5" cy="316.3" r="7.0"/><circle cx="960.8" cy="318.2" r="7.0"/><circle cx="964" cy="318.7" r="7.0"/><circle cx="967.3" cy="317.9" r="7.0"/><circle cx="970.6" cy="318.6" r="7.0"/><circle cx="973.9" cy="319.9" r="7.0"/><circle cx="977.1" cy="323.6" r="7.0"/><circle cx="980.4" cy="326.4" r="7.0"/><circle cx="983.7" cy="329" r="7.0"/><circle cx="987" cy="334.9" r="7.0"/><circle cx="990.3" cy="339.3" r="7.0"/><circle cx="993.5" cy="339.7" r="7.0"/><circle cx="996.8" cy="341.2" r="7.0"/><circle cx="1000.1" cy="344" r="7.0"/><circle cx="1003.4" cy="347.7" r="7.0"/><circle cx="1006.6" cy="348.3" r="7.0"/><circle cx="1009.9" cy="348.3" r="7.0"/><circle cx="1013.2" cy="347.7" r="7.0"/><circle cx="1016.5" cy="346.7" r="7.0"/><circle cx="1019.8" cy="348" r="7.0"/><circle cx="1023" cy="349.5" r="7.0"/><circle cx="1026.3" cy="350.8" r="7.0"/><circle cx="1029.6" cy="353.5" r="7.0"/><circle cx="1032.9" cy="364.7" r="7.0"/><circle cx="1036.2" cy="374.8" r="7.0"/><circle cx="1039.4" cy="373.2" r="7.0"/><circle cx="1042.7" cy="371.9" r="7.0"/><circle cx="1046" cy="374.5" r="7.0"/><circle cx="1049.3" cy="376.9" r="7.0"/><circle cx="1052.5" cy="381" r="7.0"/><circle cx="1055.8" cy="385.8" r="7.0"/><circle cx="1059.1" cy="393.2" r="7.0"/><circle cx="1062.4" cy="399.4" r="7.0"/><circle cx="1065.7" cy="396.9" r="7.0"/><circle cx="1068.9" cy="394.8" r="7.0"/><circle cx="1072.2" cy="393.1" r="7.0"/><circle cx="1075.5" cy="393.7" r="7.0"/><circle cx="1078.8" cy="400.3" r="7.0"/><circle cx="1082" cy="406.5" r="7.0"/><circle cx="1085.3" cy="409.7" r="7.0"/><circle cx="1088.6" cy="406.8" r="7.0"/><circle cx="1091.9" cy="404.5" r="7.0"/><circle cx="1095.2" cy="405.2" r="7.0"/><circle cx="1098.4" cy="408.1" r="7.0"/><circle cx="1101.7" cy="407.7" r="7.0"/><circle cx="1105" cy="404.6" r="7.0"/><circle cx="1108.3" cy="404" r="7.0"/><circle cx="1111.5" cy="404.9" r="7.0"/><circle cx="1114.8" cy="407.8" r="7.0"/><circle cx="1118.1" cy="414" r="7.0"/><circle cx="1121.4" cy="420" r="7.0"/><circle cx="1124.7" cy="424.8" r="7.0"/><circle cx="1127.9" cy="425.1" r="7.0"/><circle cx="1131.2" cy="426.2" r="7.0"/><circle cx="1134.5" cy="427.1" r="7.0"/><circle cx="1137.8" cy="436.5" r="7.0"/><circle cx="1141" cy="444.1" r="7.0"/><circle cx="1144.3" cy="441.9" r="7.0"/><circle cx="1147.6" cy="440.1" r="7.0"/><circle cx="1150.9" cy="441.6" r="7.0"/><circle cx="1154.2" cy="445.6" r="7.0"/><circle cx="1157.4" cy="450" r="7.0"/><circle cx="1160.7" cy="451.5" r="7.0"/><circle cx="1164" cy="452.5" r="7.0"/><circle cx="1167.3" cy="454.5" r="7.0"/><circle cx="1170.5" cy="455.8" r="7.0"/><circle cx="1173.8" cy="454.1" r="7.0"/><circle cx="1177.1" cy="453.6" r="7.0"/><circle cx="1180.4" cy="452" r="7.0"/><circle cx="1183.7" cy="451.4" r="7.0"/><circle cx="1186.9" cy="451.1" r="7.0"/><circle cx="1190.2" cy="451.7" r="7.0"/><circle cx="1193.5" cy="451.5" r="7.0"/><circle cx="1196.8" cy="453.2" r="7.0"/><circle cx="1200.1" cy="455.6" r="7.0"/><circle cx="1203.3" cy="457.5" r="7.0"/><circle cx="1206.6" cy="458.7" r="7.0"/><circle cx="1209.9" cy="460.4" r="7.0"/><circle cx="1213.2" cy="460.7" r="7.0"/><circle cx="1216.4" cy="459.9" r="7.0"/><circle cx="1219.7" cy="460.3" r="7.0"/><circle cx="1223" cy="460" r="7.0"/><circle cx="1226.3" cy="459" r="7.0"/><circle cx="1229.6" cy="458.3" r="7.0"/><circle cx="1232.8" cy="458.6" r="7.0"/><circle cx="1236.1" cy="459.2" r="7.0"/><circle cx="1239.4" cy="459.7" r="7.0"/><circle cx="1242.7" cy="461.1" r="7.0"/><circle cx="1245.9" cy="461.3" r="7.0"/><circle cx="1249.2" cy="462.6" r="7.0"/><circle cx="1252.5" cy="463.2" r="7.0"/>
</g>
<g fill="url(#gk)">
<circle cx="764.1" cy="273" r="7.0"/><circle cx="767.4" cy="272.7" r="7.0"/><circle cx="770.6" cy="272.4" r="7.0"/><circle cx="773.9" cy="271.4" r="7.0"/><circle cx="777.2" cy="270.6" r="7.0"/><circle cx="780.5" cy="270" r="7.0"/><circle cx="783.7" cy="270.1" r="7.0"/><circle cx="787" cy="269.6" r="7.0"/><circle cx="790.3" cy="270.1" r="7.0"/><circle cx="793.6" cy="270.1" r="7.0"/><circle cx="796.9" cy="269.3" r="7.0"/><circle cx="800.1" cy="269.3" r="7.0"/><circle cx="803.4" cy="269.7" r="7.0"/><circle cx="806.7" cy="270.1" r="7.0"/><circle cx="810" cy="271.3" r="7.0"/><circle cx="813.2" cy="271.7" r="7.0"/><circle cx="816.5" cy="271.1" r="7.0"/><circle cx="819.8" cy="270.8" r="7.0"/><circle cx="823.1" cy="270.9" r="7.0"/><circle cx="826.4" cy="270" r="7.0"/><circle cx="829.6" cy="269.8" r="7.0"/><circle cx="832.9" cy="269.8" r="7.0"/><circle cx="836.2" cy="269.8" r="7.0"/><circle cx="839.5" cy="269.8" r="7.0"/><circle cx="842.8" cy="270.3" r="7.0"/><circle cx="846" cy="269.4" r="7.0"/><circle cx="849.3" cy="269.2" r="7.0"/><circle cx="852.6" cy="270.1" r="7.0"/><circle cx="855.9" cy="270" r="7.0"/><circle cx="859.1" cy="270.1" r="7.0"/><circle cx="862.4" cy="269.5" r="7.0"/><circle cx="865.7" cy="270" r="7.0"/><circle cx="869" cy="270" r="7.0"/><circle cx="872.3" cy="269.3" r="7.0"/><circle cx="875.5" cy="269.8" r="7.0"/><circle cx="878.8" cy="277.9" r="7.0"/><circle cx="882.1" cy="269.7" r="7.0"/><circle cx="885.4" cy="269.5" r="7.0"/><circle cx="888.6" cy="270.4" r="7.0"/><circle cx="891.9" cy="273.1" r="7.0"/><circle cx="895.2" cy="274.8" r="7.0"/><circle cx="898.5" cy="275.6" r="7.0"/><circle cx="901.8" cy="277.1" r="7.0"/><circle cx="905" cy="277.8" r="7.0"/><circle cx="908.3" cy="278.6" r="7.0"/><circle cx="911.6" cy="277.3" r="7.0"/><circle cx="914.9" cy="277.7" r="7.0"/><circle cx="918.1" cy="277" r="7.0"/><circle cx="921.4" cy="277.1" r="7.0"/><circle cx="924.7" cy="277.4" r="7.0"/><circle cx="928" cy="277.7" r="7.0"/><circle cx="931.3" cy="277.6" r="7.0"/><circle cx="934.5" cy="277.4" r="7.0"/><circle cx="937.8" cy="278.3" r="7.0"/><circle cx="941.1" cy="278.1" r="7.0"/><circle cx="944.4" cy="278.5" r="7.0"/><circle cx="947.6" cy="279.1" r="7.0"/><circle cx="950.9" cy="279.2" r="7.0"/><circle cx="954.2" cy="279.4" r="7.0"/><circle cx="957.5" cy="280.2" r="7.0"/><circle cx="960.8" cy="280.2" r="7.0"/><circle cx="964" cy="280.2" r="7.0"/><circle cx="967.3" cy="275.1" r="7.0"/><circle cx="970.6" cy="272.7" r="7.0"/><circle cx="973.9" cy="276.2" r="7.0"/><circle cx="977.1" cy="277.1" r="7.0"/><circle cx="980.4" cy="277.2" r="7.0"/><circle cx="983.7" cy="277.6" r="7.0"/><circle cx="987" cy="278.5" r="7.0"/><circle cx="990.3" cy="279.3" r="7.0"/><circle cx="993.5" cy="278.5" r="7.0"/><circle cx="996.8" cy="278.5" r="7.0"/><circle cx="1000.1" cy="278" r="7.0"/><circle cx="1003.4" cy="278.4" r="7.0"/><circle cx="1006.6" cy="280.6" r="7.0"/><circle cx="1009.9" cy="281.9" r="7.0"/><circle cx="1013.2" cy="283.3" r="7.0"/><circle cx="1016.5" cy="285.7" r="7.0"/><circle cx="1019.8" cy="282.4" r="7.0"/><circle cx="1023" cy="279.4" r="7.0"/><circle cx="1026.3" cy="281.7" r="7.0"/><circle cx="1029.6" cy="288.8" r="7.0"/><circle cx="1032.9" cy="290.7" r="7.0"/><circle cx="1036.2" cy="292.9" r="7.0"/><circle cx="1039.4" cy="295.1" r="7.0"/><circle cx="1042.7" cy="294.8" r="7.0"/><circle cx="1046" cy="295.3" r="7.0"/><circle cx="1049.3" cy="295.8" r="7.0"/><circle cx="1052.5" cy="296.3" r="7.0"/><circle cx="1055.8" cy="296.7" r="7.0"/><circle cx="1059.1" cy="298.1" r="7.0"/><circle cx="1062.4" cy="298.9" r="7.0"/><circle cx="1065.7" cy="299" r="7.0"/><circle cx="1068.9" cy="300.2" r="7.0"/><circle cx="1072.2" cy="300.9" r="7.0"/><circle cx="1075.5" cy="301.8" r="7.0"/><circle cx="1078.8" cy="301.9" r="7.0"/><circle cx="1082" cy="297.6" r="7.0"/><circle cx="1085.3" cy="294.3" r="7.0"/><circle cx="1088.6" cy="300" r="7.0"/><circle cx="1091.9" cy="304.7" r="7.0"/><circle cx="1095.2" cy="302.8" r="7.0"/><circle cx="1098.4" cy="301.5" r="7.0"/><circle cx="1101.7" cy="305.2" r="7.0"/><circle cx="1105" cy="308.6" r="7.0"/><circle cx="1108.3" cy="312.7" r="7.0"/><circle cx="1111.5" cy="319.1" r="7.0"/><circle cx="1114.8" cy="318.8" r="7.0"/><circle cx="1118.1" cy="316.8" r="7.0"/><circle cx="1121.4" cy="316.4" r="7.0"/><circle cx="1124.7" cy="316.2" r="7.0"/><circle cx="1127.9" cy="316.9" r="7.0"/><circle cx="1131.2" cy="318.5" r="7.0"/><circle cx="1134.5" cy="319.4" r="7.0"/><circle cx="1137.8" cy="324.9" r="7.0"/><circle cx="1141" cy="329.8" r="7.0"/><circle cx="1144.3" cy="329.3" r="7.0"/><circle cx="1147.6" cy="329" r="7.0"/><circle cx="1150.9" cy="326.5" r="7.0"/><circle cx="1154.2" cy="324.6" r="7.0"/><circle cx="1157.4" cy="327.1" r="7.0"/><circle cx="1160.7" cy="332.3" r="7.0"/><circle cx="1164" cy="330.5" r="7.0"/><circle cx="1167.3" cy="328.5" r="7.0"/><circle cx="1170.5" cy="325.6" r="7.0"/><circle cx="1173.8" cy="319" r="7.0"/><circle cx="1177.1" cy="314.1" r="7.0"/><circle cx="1180.4" cy="314.2" r="7.0"/><circle cx="1183.7" cy="313.9" r="7.0"/><circle cx="1186.9" cy="313" r="7.0"/><circle cx="1190.2" cy="314.6" r="7.0"/><circle cx="1193.5" cy="316.1" r="7.0"/><circle cx="1196.8" cy="317.2" r="7.0"/><circle cx="1200.1" cy="320.1" r="7.0"/><circle cx="1203.3" cy="323.8" r="7.0"/><circle cx="1206.6" cy="325.5" r="7.0"/><circle cx="1209.9" cy="323.3" r="7.0"/><circle cx="1213.2" cy="326" r="7.0"/><circle cx="1216.4" cy="326.7" r="7.0"/><circle cx="1219.7" cy="322.6" r="7.0"/><circle cx="1223" cy="320.8" r="7.0"/><circle cx="1226.3" cy="323.4" r="7.0"/><circle cx="1229.6" cy="320.9" r="7.0"/><circle cx="1232.8" cy="318.8" r="7.0"/><circle cx="1236.1" cy="321.5" r="7.0"/><circle cx="1239.4" cy="324.6" r="7.0"/><circle cx="1242.7" cy="325.2" r="7.0"/><circle cx="1245.9" cy="324.4" r="7.0"/><circle cx="1249.2" cy="326" r="7.0"/><circle cx="1252.5" cy="329.7" r="7.0"/>
</g>
<g fill="url(#gu)">
<circle cx="764.1" cy="173.4" r="7.0"/><circle cx="767.4" cy="162.2" r="7.0"/><circle cx="770.6" cy="167.4" r="7.0"/><circle cx="773.9" cy="170.3" r="7.0"/><circle cx="777.2" cy="163.8" r="7.0"/><circle cx="780.5" cy="172.8" r="7.0"/><circle cx="783.7" cy="174.3" r="7.0"/><circle cx="787" cy="169.5" r="7.0"/><circle cx="790.3" cy="166.6" r="7.0"/><circle cx="793.6" cy="173.4" r="7.0"/><circle cx="796.9" cy="168.5" r="7.0"/><circle cx="800.1" cy="163.1" r="7.0"/><circle cx="803.4" cy="164.5" r="7.0"/><circle cx="806.7" cy="163.1" r="7.0"/><circle cx="810" cy="174.1" r="7.0"/><circle cx="813.2" cy="169.1" r="7.0"/><circle cx="816.5" cy="172.5" r="7.0"/><circle cx="819.8" cy="174.7" r="7.0"/><circle cx="823.1" cy="177.5" r="7.0"/><circle cx="826.4" cy="164.8" r="7.0"/><circle cx="829.6" cy="179.8" r="7.0"/><circle cx="832.9" cy="176.3" r="7.0"/><circle cx="836.2" cy="174.8" r="7.0"/><circle cx="839.5" cy="179.8" r="7.0"/><circle cx="842.8" cy="173.2" r="7.0"/><circle cx="846" cy="165.1" r="7.0"/><circle cx="849.3" cy="164.7" r="7.0"/><circle cx="852.6" cy="163.2" r="7.0"/><circle cx="855.9" cy="189" r="7.0"/><circle cx="859.1" cy="166.7" r="7.0"/><circle cx="862.4" cy="172.2" r="7.0"/><circle cx="865.7" cy="179.8" r="7.0"/><circle cx="869" cy="179.2" r="7.0"/><circle cx="872.3" cy="173.2" r="7.0"/><circle cx="875.5" cy="178.1" r="7.0"/><circle cx="878.8" cy="177.2" r="7.0"/><circle cx="882.1" cy="172.4" r="7.0"/><circle cx="885.4" cy="176.5" r="7.0"/><circle cx="888.6" cy="181.1" r="7.0"/><circle cx="891.9" cy="180.3" r="7.0"/><circle cx="895.2" cy="175.6" r="7.0"/><circle cx="898.5" cy="181.8" r="7.0"/><circle cx="901.8" cy="177.6" r="7.0"/><circle cx="905" cy="164.2" r="7.0"/><circle cx="908.3" cy="163.7" r="7.0"/><circle cx="911.6" cy="166" r="7.0"/><circle cx="914.9" cy="188.3" r="7.0"/><circle cx="918.1" cy="180.4" r="7.0"/><circle cx="921.4" cy="179.7" r="7.0"/><circle cx="924.7" cy="184.4" r="7.0"/><circle cx="928" cy="174.6" r="7.0"/><circle cx="931.3" cy="177" r="7.0"/><circle cx="934.5" cy="180.5" r="7.0"/><circle cx="937.8" cy="181" r="7.0"/><circle cx="941.1" cy="195.5" r="7.0"/><circle cx="944.4" cy="177.8" r="7.0"/><circle cx="947.6" cy="186.4" r="7.0"/><circle cx="950.9" cy="179.7" r="7.0"/><circle cx="954.2" cy="176.7" r="7.0"/><circle cx="957.5" cy="187.7" r="7.0"/><circle cx="960.8" cy="169" r="7.0"/><circle cx="964" cy="168.3" r="7.0"/><circle cx="967.3" cy="164.4" r="7.0"/><circle cx="970.6" cy="195.5" r="7.0"/><circle cx="973.9" cy="169.7" r="7.0"/><circle cx="977.1" cy="163.8" r="7.0"/><circle cx="980.4" cy="169.6" r="7.0"/><circle cx="983.7" cy="165.3" r="7.0"/><circle cx="987" cy="184.4" r="7.0"/><circle cx="990.3" cy="195.5" r="7.0"/><circle cx="993.5" cy="167" r="7.0"/><circle cx="996.8" cy="173.6" r="7.0"/><circle cx="1000.1" cy="171.9" r="7.0"/><circle cx="1003.4" cy="168.9" r="7.0"/><circle cx="1006.6" cy="173.3" r="7.0"/><circle cx="1009.9" cy="164.6" r="7.0"/><circle cx="1013.2" cy="167" r="7.0"/><circle cx="1016.5" cy="170.7" r="7.0"/><circle cx="1019.8" cy="171.3" r="7.0"/><circle cx="1023" cy="165.4" r="7.0"/><circle cx="1026.3" cy="162.2" r="7.0"/><circle cx="1029.6" cy="171.6" r="7.0"/><circle cx="1032.9" cy="167.2" r="7.0"/><circle cx="1036.2" cy="192.7" r="7.0"/><circle cx="1039.4" cy="162.9" r="7.0"/><circle cx="1042.7" cy="163.9" r="7.0"/><circle cx="1046" cy="164.9" r="7.0"/><circle cx="1049.3" cy="163" r="7.0"/><circle cx="1052.5" cy="162" r="7.0"/><circle cx="1055.8" cy="172.1" r="7.0"/><circle cx="1059.1" cy="170.2" r="7.0"/><circle cx="1062.4" cy="191.4" r="7.0"/><circle cx="1065.7" cy="166.4" r="7.0"/><circle cx="1068.9" cy="169.6" r="7.0"/><circle cx="1072.2" cy="166.2" r="7.0"/><circle cx="1075.5" cy="161.6" r="7.0"/><circle cx="1078.8" cy="164.7" r="7.0"/><circle cx="1082" cy="165" r="7.0"/><circle cx="1085.3" cy="170.8" r="7.0"/><circle cx="1088.6" cy="167.5" r="7.0"/><circle cx="1091.9" cy="166.5" r="7.0"/><circle cx="1095.2" cy="168.3" r="7.0"/><circle cx="1098.4" cy="162.1" r="7.0"/><circle cx="1101.7" cy="168.9" r="7.0"/><circle cx="1105" cy="170.6" r="7.0"/><circle cx="1108.3" cy="169.2" r="7.0"/><circle cx="1111.5" cy="165.7" r="7.0"/><circle cx="1114.8" cy="165.1" r="7.0"/><circle cx="1118.1" cy="162.2" r="7.0"/><circle cx="1121.4" cy="162.7" r="7.0"/><circle cx="1124.7" cy="163.4" r="7.0"/><circle cx="1127.9" cy="166.5" r="7.0"/><circle cx="1131.2" cy="169.8" r="7.0"/><circle cx="1134.5" cy="164" r="7.0"/><circle cx="1137.8" cy="166.4" r="7.0"/><circle cx="1141" cy="168" r="7.0"/><circle cx="1144.3" cy="167.9" r="7.0"/><circle cx="1147.6" cy="161.8" r="7.0"/><circle cx="1150.9" cy="171.3" r="7.0"/><circle cx="1154.2" cy="167.8" r="7.0"/><circle cx="1157.4" cy="165" r="7.0"/><circle cx="1160.7" cy="164.5" r="7.0"/><circle cx="1164" cy="169" r="7.0"/><circle cx="1167.3" cy="171.2" r="7.0"/><circle cx="1170.5" cy="165.2" r="7.0"/><circle cx="1173.8" cy="165.8" r="7.0"/><circle cx="1177.1" cy="167.3" r="7.0"/><circle cx="1180.4" cy="163.4" r="7.0"/><circle cx="1183.7" cy="165.8" r="7.0"/><circle cx="1186.9" cy="170.9" r="7.0"/><circle cx="1190.2" cy="167" r="7.0"/><circle cx="1193.5" cy="170.1" r="7.0"/><circle cx="1196.8" cy="164" r="7.0"/><circle cx="1200.1" cy="170.4" r="7.0"/><circle cx="1203.3" cy="169.7" r="7.0"/><circle cx="1206.6" cy="163.8" r="7.0"/><circle cx="1209.9" cy="167" r="7.0"/><circle cx="1213.2" cy="168.4" r="7.0"/><circle cx="1216.4" cy="167.4" r="7.0"/><circle cx="1219.7" cy="167.8" r="7.0"/><circle cx="1223" cy="164.1" r="7.0"/><circle cx="1226.3" cy="167.1" r="7.0"/><circle cx="1229.6" cy="165.2" r="7.0"/><circle cx="1232.8" cy="169.6" r="7.0"/><circle cx="1236.1" cy="165.1" r="7.0"/><circle cx="1239.4" cy="171.4" r="7.0"/><circle cx="1242.7" cy="167" r="7.0"/><circle cx="1245.9" cy="163.1" r="7.0"/><circle cx="1249.2" cy="165.1" r="7.0"/><circle cx="1252.5" cy="162" r="7.0"/>
</g>
<g fill="url(#gk)">
<circle cx="768.3" cy="180" r="7.0"/><circle cx="776.1" cy="179" r="7.0"/><circle cx="785.3" cy="181" r="7.0"/><circle cx="795" cy="180.5" r="7.0"/><circle cx="811.4" cy="181" r="7.0"/><circle cx="818.6" cy="181.2" r="7.0"/><circle cx="855.1" cy="180.5" r="7.0"/><circle cx="767.4" cy="164.6" r="7.0"/><circle cx="770.6" cy="165.3" r="7.0"/><circle cx="773.9" cy="165" r="7.0"/><circle cx="777.2" cy="163.9" r="7.0"/><circle cx="780.5" cy="165.4" r="7.0"/><circle cx="783.7" cy="165.8" r="7.0"/><circle cx="787" cy="165.6" r="7.0"/><circle cx="790.3" cy="165.6" r="7.0"/><circle cx="793.6" cy="164" r="7.0"/><circle cx="796.9" cy="165" r="7.0"/><circle cx="800.1" cy="164.2" r="7.0"/><circle cx="803.4" cy="165.7" r="7.0"/><circle cx="806.7" cy="164.4" r="7.0"/><circle cx="810" cy="165.7" r="7.0"/><circle cx="813.2" cy="164.8" r="7.0"/><circle cx="816.5" cy="165.8" r="7.0"/><circle cx="819.8" cy="165" r="7.0"/><circle cx="823.1" cy="164.4" r="7.0"/><circle cx="826.4" cy="165.3" r="7.0"/><circle cx="829.6" cy="165.1" r="7.0"/><circle cx="832.9" cy="166.5" r="7.0"/><circle cx="836.2" cy="165.1" r="7.0"/><circle cx="839.5" cy="165.6" r="7.0"/><circle cx="842.8" cy="165.7" r="7.0"/><circle cx="846" cy="166.8" r="7.0"/><circle cx="849.3" cy="164.8" r="7.0"/><circle cx="852.6" cy="166.1" r="7.0"/><circle cx="855.9" cy="166" r="7.0"/><circle cx="859.1" cy="166.5" r="7.0"/><circle cx="862.4" cy="167.1" r="7.0"/><circle cx="865.7" cy="165.5" r="7.0"/><circle cx="869" cy="166.4" r="7.0"/><circle cx="872.3" cy="166" r="7.0"/><circle cx="875.5" cy="166.2" r="7.0"/><circle cx="878.8" cy="165" r="7.0"/><circle cx="882.1" cy="166.9" r="7.0"/><circle cx="885.4" cy="167.3" r="7.0"/><circle cx="888.6" cy="165.8" r="7.0"/><circle cx="891.9" cy="165.8" r="7.0"/><circle cx="895.2" cy="167.5" r="7.0"/><circle cx="898.5" cy="165.3" r="7.0"/><circle cx="901.8" cy="165.2" r="7.0"/><circle cx="905" cy="165.2" r="7.0"/><circle cx="908.3" cy="167" r="7.0"/><circle cx="911.6" cy="167" r="7.0"/><circle cx="914.9" cy="166.2" r="7.0"/><circle cx="918.1" cy="167" r="7.0"/><circle cx="921.4" cy="163.8" r="7.0"/><circle cx="924.7" cy="168.4" r="7.0"/><circle cx="928" cy="166.8" r="7.0"/><circle cx="931.3" cy="167.6" r="7.0"/><circle cx="934.5" cy="166.5" r="7.0"/><circle cx="937.8" cy="166.9" r="7.0"/><circle cx="941.1" cy="164.7" r="7.0"/><circle cx="944.4" cy="163" r="7.0"/><circle cx="947.6" cy="168.2" r="7.0"/><circle cx="950.9" cy="166" r="7.0"/><circle cx="954.2" cy="172.7" r="7.0"/><circle cx="957.5" cy="174.5" r="7.0"/><circle cx="960.8" cy="172.8" r="7.0"/><circle cx="964" cy="169" r="7.0"/><circle cx="967.3" cy="165.9" r="7.0"/><circle cx="970.6" cy="168.2" r="7.0"/><circle cx="973.9" cy="170.4" r="7.0"/><circle cx="977.1" cy="174.1" r="7.0"/><circle cx="980.4" cy="181.1" r="7.0"/><circle cx="983.7" cy="165.6" r="7.0"/><circle cx="987" cy="173.5" r="7.0"/><circle cx="990.3" cy="174.4" r="7.0"/><circle cx="993.5" cy="179.7" r="7.0"/><circle cx="996.8" cy="183.6" r="7.0"/><circle cx="1000.1" cy="183.1" r="7.0"/><circle cx="1003.4" cy="179.3" r="7.0"/><circle cx="1006.6" cy="182.8" r="7.0"/><circle cx="1009.9" cy="180.4" r="7.0"/><circle cx="1013.2" cy="185.6" r="7.0"/><circle cx="1016.5" cy="181.7" r="7.0"/><circle cx="1019.8" cy="181.9" r="7.0"/><circle cx="1023" cy="171" r="7.0"/><circle cx="1026.3" cy="187" r="7.0"/><circle cx="1029.6" cy="173.8" r="7.0"/><circle cx="1032.9" cy="178.3" r="7.0"/><circle cx="1036.2" cy="183.9" r="7.0"/><circle cx="1039.4" cy="186.7" r="7.0"/><circle cx="1042.7" cy="186.8" r="7.0"/><circle cx="1046" cy="163.8" r="7.0"/><circle cx="1049.3" cy="172.1" r="7.0"/><circle cx="1052.5" cy="171.3" r="7.0"/><circle cx="1055.8" cy="174.1" r="7.0"/><circle cx="1059.1" cy="168.7" r="7.0"/><circle cx="1062.4" cy="177.9" r="7.0"/><circle cx="1065.7" cy="166.2" r="7.0"/><circle cx="1068.9" cy="171.8" r="7.0"/><circle cx="1072.2" cy="187" r="7.0"/><circle cx="1075.5" cy="182.9" r="7.0"/><circle cx="1078.8" cy="176.6" r="7.0"/><circle cx="1082" cy="167.9" r="7.0"/><circle cx="1085.3" cy="188" r="7.0"/><circle cx="1088.6" cy="182.1" r="7.0"/><circle cx="1091.9" cy="169.4" r="7.0"/><circle cx="1095.2" cy="172.3" r="7.0"/><circle cx="1098.4" cy="179.9" r="7.0"/><circle cx="1101.7" cy="181.1" r="7.0"/><circle cx="1105" cy="171" r="7.0"/><circle cx="1108.3" cy="188.1" r="7.0"/><circle cx="1111.5" cy="173" r="7.0"/><circle cx="1114.8" cy="171.9" r="7.0"/><circle cx="1118.1" cy="185.9" r="7.0"/><circle cx="1121.4" cy="169" r="7.0"/><circle cx="1124.7" cy="181.2" r="7.0"/><circle cx="1127.9" cy="169.4" r="7.0"/><circle cx="1131.2" cy="179.1" r="7.0"/><circle cx="1134.5" cy="171.4" r="7.0"/><circle cx="1137.8" cy="196.6" r="7.0"/><circle cx="1141" cy="188.1" r="7.0"/><circle cx="1144.3" cy="176.7" r="7.0"/><circle cx="1147.6" cy="175.4" r="7.0"/><circle cx="1150.9" cy="179.5" r="7.0"/><circle cx="1154.2" cy="171.3" r="7.0"/><circle cx="1157.4" cy="168.2" r="7.0"/><circle cx="1160.7" cy="171.5" r="7.0"/><circle cx="1164" cy="169.9" r="7.0"/><circle cx="1167.3" cy="169.1" r="7.0"/><circle cx="1170.5" cy="180.8" r="7.0"/><circle cx="1173.8" cy="166.4" r="7.0"/><circle cx="1177.1" cy="178.7" r="7.0"/><circle cx="1180.4" cy="180.5" r="7.0"/><circle cx="1183.7" cy="176.8" r="7.0"/><circle cx="1186.9" cy="166" r="7.0"/><circle cx="1190.2" cy="173.2" r="7.0"/><circle cx="1193.5" cy="166.4" r="7.0"/><circle cx="1196.8" cy="175.3" r="7.0"/><circle cx="1200.1" cy="176.5" r="7.0"/><circle cx="1203.3" cy="169.2" r="7.0"/><circle cx="1206.6" cy="165.9" r="7.0"/><circle cx="1209.9" cy="173.9" r="7.0"/><circle cx="1213.2" cy="166.4" r="7.0"/><circle cx="1216.4" cy="170.3" r="7.0"/><circle cx="1219.7" cy="173" r="7.0"/><circle cx="1223" cy="179.9" r="7.0"/><circle cx="1226.3" cy="171.9" r="7.0"/><circle cx="1229.6" cy="168.8" r="7.0"/><circle cx="1232.8" cy="179" r="7.0"/><circle cx="1236.1" cy="179.4" r="7.0"/><circle cx="1239.4" cy="175.2" r="7.0"/><circle cx="1242.7" cy="167.9" r="7.0"/><circle cx="1245.9" cy="170" r="7.0"/><circle cx="1249.2" cy="173" r="7.0"/><circle cx="1252.5" cy="175.1" r="7.0"/>
</g>
<path d="M1174.3 190.1 V226.8 H1229.3" fill="none" stroke="#6b6b6b" stroke-width="11"/>
<path d="M1228.8 217.3 L1248.8 226.8 L1228.8 236.3 Z" fill="#6b6b6b"/>
<path d="M760.8 499.6 V99.5 H1252.5" fill="none" stroke="#000" stroke-width="9" stroke-linejoin="miter"/>
<path d="M760.8 495.1 H1252.5" fill="none" stroke="#000" stroke-width="9"/>
<rect x="760.8" y="125.6" width="8" height="8.6" fill="#000"/>
<text transform="translate(751.6 141.3) scale(0.94 1)" font-size="39.6" text-anchor="end" fill="#000">240</text>
<rect x="760.8" y="216.9" width="8" height="8.6" fill="#000"/>
<text transform="translate(751.6 232.6) scale(0.94 1)" font-size="39.6" text-anchor="end" fill="#000">180</text>
<rect x="760.8" y="308.2" width="8" height="8.6" fill="#000"/>
<text transform="translate(751.6 323.9) scale(0.94 1)" font-size="39.6" text-anchor="end" fill="#000">120</text>
<rect x="760.8" y="399.5" width="8" height="8.6" fill="#000"/>
<text transform="translate(751.6 415.2) scale(0.94 1)" font-size="39.6" text-anchor="end" fill="#000">60</text>
<text transform="translate(751.6 506.5) scale(0.94 1)" font-size="39.6" text-anchor="end" fill="#000">0</text>
<text transform="translate(761.3 543.5) scale(0.94 1)" font-size="39.6" text-anchor="middle" fill="#000">0</text>
<rect x="854.6" y="487.1" width="9" height="8" fill="#000"/>
<text transform="translate(859.6 543.5) scale(0.94 1)" font-size="39.6" text-anchor="middle" fill="#000">30</text>
<rect x="953" y="487.1" width="9" height="8" fill="#000"/>
<text transform="translate(958 543.5) scale(0.94 1)" font-size="39.6" text-anchor="middle" fill="#000">60</text>
<rect x="1051.3" y="487.1" width="9" height="8" fill="#000"/>
<text transform="translate(1056.3 543.5) scale(0.94 1)" font-size="39.6" text-anchor="middle" fill="#000">90</text>
<rect x="1149.7" y="487.1" width="9" height="8" fill="#000"/>
<text transform="translate(1154.7 543.5) scale(0.94 1)" font-size="39.6" text-anchor="middle" fill="#000">120</text>
<text transform="translate(1253 543.5) scale(0.94 1)" font-size="39.6" text-anchor="middle" fill="#000">150</text>
<path d="M1252.5 95 V499.6" fill="none" stroke="#6b6b6b" stroke-width="8.6"/>
<rect x="1244.5" y="490.8" width="8" height="8.6" fill="#6b6b6b"/>
<text transform="translate(1260.7 506.4) scale(0.94 1)" font-size="39.6" fill="#6b6b6b">80</text>
<rect x="1244.5" y="408.1" width="8" height="8.6" fill="#6b6b6b"/>
<text transform="translate(1260.7 423.9) scale(0.94 1)" font-size="39.6" fill="#6b6b6b">85</text>
<rect x="1244.5" y="325.4" width="8" height="8.6" fill="#6b6b6b"/>
<text transform="translate(1260.7 341.4) scale(0.94 1)" font-size="39.6" fill="#6b6b6b">90</text>
<rect x="1244.5" y="242.8" width="8" height="8.6" fill="#6b6b6b"/>
<text transform="translate(1260.7 259) scale(0.94 1)" font-size="39.6" fill="#6b6b6b">95</text>
<rect x="1244.5" y="160.1" width="8" height="8.6" fill="#6b6b6b"/>
<text transform="translate(1260.7 176.5) scale(0.94 1)" font-size="39.6" fill="#6b6b6b">100</text>
<text transform="translate(777.4 139.7) scale(0.97 1)" font-size="38.5" fill="#000">40 mg cm<tspan font-size="24" dy="-14.5">-2</tspan></text>
<text transform="translate(1249.8 139) scale(0.94 1)" font-size="39.6" text-anchor="end" fill="#000">0.2 C</text>
<text transform="translate(1007 573.4) scale(0.97 1)" font-size="38.5" text-anchor="middle" fill="#000" xml:space="preserve" style="white-space:pre">Cycle  Number</text>
<text transform="translate(674.2 47) scale(1 1)" font-size="64.5" fill="#000">b</text>
</g>
<g id="panel-c">
<g fill="url(#gu)">
<circle cx="1401.1" cy="275.4" r="7.0"/><circle cx="1404.4" cy="275.4" r="7.0"/><circle cx="1407.6" cy="274.8" r="7.0"/><circle cx="1410.9" cy="274.9" r="7.0"/><circle cx="1414.2" cy="274.7" r="7.0"/><circle cx="1417.5" cy="275" r="7.0"/><circle cx="1420.7" cy="275.1" r="7.0"/><circle cx="1424" cy="275.2" r="7.0"/><circle cx="1427.3" cy="275.1" r="7.0"/><circle cx="1430.6" cy="274.8" r="7.0"/><circle cx="1433.9" cy="274.9" r="7.0"/><circle cx="1437.1" cy="275" r="7.0"/><circle cx="1440.4" cy="274.5" r="7.0"/><circle cx="1443.7" cy="274.6" r="7.0"/><circle cx="1447" cy="274.9" r="7.0"/><circle cx="1450.2" cy="274.6" r="7.0"/><circle cx="1453.5" cy="275.2" r="7.0"/><circle cx="1456.8" cy="274.8" r="7.0"/><circle cx="1460.1" cy="274.6" r="7.0"/><circle cx="1463.4" cy="274.7" r="7.0"/><circle cx="1466.6" cy="274.7" r="7.0"/><circle cx="1469.9" cy="274.7" r="7.0"/><circle cx="1473.2" cy="275" r="7.0"/><circle cx="1476.5" cy="275" r="7.0"/><circle cx="1479.8" cy="274.8" r="7.0"/><circle cx="1483" cy="275.7" r="7.0"/><circle cx="1486.3" cy="275.9" r="7.0"/><circle cx="1489.6" cy="277.2" r="7.0"/><circle cx="1492.9" cy="277.8" r="7.0"/><circle cx="1496.1" cy="278.2" r="7.0"/><circle cx="1499.4" cy="278.6" r="7.0"/><circle cx="1502.7" cy="279.2" r="7.0"/><circle cx="1506" cy="279.9" r="7.0"/><circle cx="1509.3" cy="280.1" r="7.0"/><circle cx="1512.5" cy="281" r="7.0"/><circle cx="1515.8" cy="281.7" r="7.0"/><circle cx="1519.1" cy="282" r="7.0"/><circle cx="1522.4" cy="282.5" r="7.0"/><circle cx="1525.6" cy="283.5" r="7.0"/><circle cx="1528.9" cy="306.1" r="7.0"/><circle cx="1532.2" cy="310.3" r="7.0"/><circle cx="1535.5" cy="318.1" r="7.0"/><circle cx="1538.8" cy="325.7" r="7.0"/><circle cx="1542" cy="325.2" r="7.0"/><circle cx="1545.3" cy="325.5" r="7.0"/><circle cx="1548.6" cy="330.8" r="7.0"/><circle cx="1551.9" cy="334.1" r="7.0"/><circle cx="1555.1" cy="337.4" r="7.0"/><circle cx="1558.4" cy="343.5" r="7.0"/><circle cx="1561.7" cy="363.8" r="7.0"/><circle cx="1565" cy="377.3" r="7.0"/><circle cx="1568.3" cy="391.5" r="7.0"/><circle cx="1571.5" cy="404.3" r="7.0"/><circle cx="1574.8" cy="418.3" r="7.0"/><circle cx="1578.1" cy="430.9" r="7.0"/><circle cx="1581.4" cy="439.6" r="7.0"/><circle cx="1584.6" cy="446.3" r="7.0"/><circle cx="1587.9" cy="452.1" r="7.0"/><circle cx="1591.2" cy="461.5" r="7.0"/><circle cx="1594.5" cy="461.7" r="7.0"/><circle cx="1597.8" cy="462" r="7.0"/><circle cx="1601" cy="465.8" r="7.0"/><circle cx="1604.3" cy="468.4" r="7.0"/><circle cx="1607.6" cy="470.4" r="7.0"/><circle cx="1610.9" cy="470.5" r="7.0"/><circle cx="1614.1" cy="471.5" r="7.0"/><circle cx="1617.4" cy="472" r="7.0"/><circle cx="1620.7" cy="472.7" r="7.0"/><circle cx="1624" cy="473.6" r="7.0"/><circle cx="1627.3" cy="474" r="7.0"/><circle cx="1630.5" cy="474.4" r="7.0"/><circle cx="1633.8" cy="474.9" r="7.0"/><circle cx="1637.1" cy="475.5" r="7.0"/><circle cx="1640.4" cy="476.7" r="7.0"/><circle cx="1643.6" cy="477" r="7.0"/><circle cx="1646.9" cy="477.9" r="7.0"/><circle cx="1650.2" cy="478.2" r="7.0"/><circle cx="1653.5" cy="477.9" r="7.0"/><circle cx="1656.8" cy="478.7" r="7.0"/><circle cx="1660" cy="479" r="7.0"/><circle cx="1663.3" cy="479.2" r="7.0"/><circle cx="1666.6" cy="479.2" r="7.0"/><circle cx="1669.9" cy="479.3" r="7.0"/><circle cx="1673.2" cy="479.5" r="7.0"/><circle cx="1676.4" cy="479.9" r="7.0"/><circle cx="1679.7" cy="479.6" r="7.0"/><circle cx="1683" cy="479.9" r="7.0"/><circle cx="1686.3" cy="480" r="7.0"/><circle cx="1689.5" cy="480.5" r="7.0"/><circle cx="1692.8" cy="480.5" r="7.0"/><circle cx="1696.1" cy="480.7" r="7.0"/><circle cx="1699.4" cy="480.7" r="7.0"/><circle cx="1702.7" cy="480.3" r="7.0"/><circle cx="1705.9" cy="480.4" r="7.0"/><circle cx="1709.2" cy="480.7" r="7.0"/><circle cx="1712.5" cy="480.6" r="7.0"/><circle cx="1715.8" cy="480.9" r="7.0"/><circle cx="1719" cy="481.2" r="7.0"/><circle cx="1722.3" cy="481.5" r="7.0"/><circle cx="1725.6" cy="481.3" r="7.0"/><circle cx="1728.9" cy="481.6" r="7.0"/><circle cx="1732.2" cy="481.1" r="7.0"/><circle cx="1735.4" cy="481.4" r="7.0"/><circle cx="1738.7" cy="482.1" r="7.0"/><circle cx="1742" cy="481.5" r="7.0"/><circle cx="1745.3" cy="481.8" r="7.0"/><circle cx="1748.5" cy="481.7" r="7.0"/><circle cx="1751.8" cy="481.8" r="7.0"/><circle cx="1755.1" cy="482.6" r="7.0"/><circle cx="1758.4" cy="482.8" r="7.0"/><circle cx="1761.7" cy="482.7" r="7.0"/><circle cx="1764.9" cy="482.3" r="7.0"/><circle cx="1768.2" cy="482.6" r="7.0"/><circle cx="1771.5" cy="482.7" r="7.0"/><circle cx="1774.8" cy="483.2" r="7.0"/><circle cx="1778" cy="483.3" r="7.0"/><circle cx="1781.3" cy="483.2" r="7.0"/><circle cx="1784.6" cy="483.4" r="7.0"/><circle cx="1787.9" cy="483.2" r="7.0"/><circle cx="1791.2" cy="483.7" r="7.0"/><circle cx="1794.4" cy="484.2" r="7.0"/><circle cx="1797.7" cy="484.2" r="7.0"/><circle cx="1801" cy="483.7" r="7.0"/><circle cx="1804.3" cy="484.2" r="7.0"/><circle cx="1807.5" cy="484.5" r="7.0"/><circle cx="1810.8" cy="484.1" r="7.0"/><circle cx="1814.1" cy="484.8" r="7.0"/><circle cx="1817.4" cy="484.5" r="7.0"/><circle cx="1820.7" cy="484.9" r="7.0"/><circle cx="1823.9" cy="484.7" r="7.0"/><circle cx="1827.2" cy="485.3" r="7.0"/><circle cx="1830.5" cy="485.2" r="7.0"/><circle cx="1833.8" cy="485.2" r="7.0"/><circle cx="1837.1" cy="484.9" r="7.0"/><circle cx="1840.3" cy="485.3" r="7.0"/><circle cx="1843.6" cy="485.1" r="7.0"/><circle cx="1846.9" cy="485.7" r="7.0"/><circle cx="1850.2" cy="486" r="7.0"/><circle cx="1853.4" cy="485.5" r="7.0"/><circle cx="1856.7" cy="485.9" r="7.0"/><circle cx="1860" cy="486" r="7.0"/><circle cx="1863.3" cy="486" r="7.0"/><circle cx="1866.6" cy="486.4" r="7.0"/><circle cx="1869.8" cy="486.7" r="7.0"/><circle cx="1873.1" cy="486.6" r="7.0"/><circle cx="1876.4" cy="486.5" r="7.0"/><circle cx="1879.7" cy="487.1" r="7.0"/><circle cx="1882.9" cy="486.7" r="7.0"/><circle cx="1886.2" cy="487.1" r="7.0"/><circle cx="1889.5" cy="487.2" r="7.0"/>
</g>
<g fill="url(#gk)">
<circle cx="1401.1" cy="270.9" r="7.0"/><circle cx="1404.4" cy="271.1" r="7.0"/><circle cx="1407.6" cy="271.3" r="7.0"/><circle cx="1410.9" cy="271" r="7.0"/><circle cx="1414.2" cy="270.8" r="7.0"/><circle cx="1417.5" cy="270.7" r="7.0"/><circle cx="1420.7" cy="271.1" r="7.0"/><circle cx="1424" cy="270.7" r="7.0"/><circle cx="1427.3" cy="271.3" r="7.0"/><circle cx="1430.6" cy="271.3" r="7.0"/><circle cx="1433.9" cy="270.7" r="7.0"/><circle cx="1437.1" cy="270.8" r="7.0"/><circle cx="1440.4" cy="271.2" r="7.0"/><circle cx="1443.7" cy="271" r="7.0"/><circle cx="1447" cy="271.2" r="7.0"/><circle cx="1450.2" cy="270.8" r="7.0"/><circle cx="1453.5" cy="270.6" r="7.0"/><circle cx="1456.8" cy="270.7" r="7.0"/><circle cx="1460.1" cy="271.2" r="7.0"/><circle cx="1463.4" cy="270.8" r="7.0"/><circle cx="1466.6" cy="270.8" r="7.0"/><circle cx="1469.9" cy="270.9" r="7.0"/><circle cx="1473.2" cy="270.9" r="7.0"/><circle cx="1476.5" cy="270.9" r="7.0"/><circle cx="1479.8" cy="271.3" r="7.0"/><circle cx="1483" cy="270.6" r="7.0"/><circle cx="1486.3" cy="270.5" r="7.0"/><circle cx="1489.6" cy="271.3" r="7.0"/><circle cx="1492.9" cy="271.2" r="7.0"/><circle cx="1496.1" cy="271.3" r="7.0"/><circle cx="1499.4" cy="270.8" r="7.0"/><circle cx="1502.7" cy="271.3" r="7.0"/><circle cx="1506" cy="271.3" r="7.0"/><circle cx="1509.3" cy="270.7" r="7.0"/><circle cx="1512.5" cy="271.2" r="7.0"/><circle cx="1515.8" cy="271.3" r="7.0"/><circle cx="1519.1" cy="271.1" r="7.0"/><circle cx="1522.4" cy="271" r="7.0"/><circle cx="1525.6" cy="270.8" r="7.0"/><circle cx="1528.9" cy="270.8" r="7.0"/><circle cx="1532.2" cy="270.7" r="7.0"/><circle cx="1535.5" cy="270.5" r="7.0"/><circle cx="1538.8" cy="271" r="7.0"/><circle cx="1542" cy="270.7" r="7.0"/><circle cx="1545.3" cy="271.2" r="7.0"/><circle cx="1548.6" cy="270.5" r="7.0"/><circle cx="1551.9" cy="271.2" r="7.0"/><circle cx="1555.1" cy="271" r="7.0"/><circle cx="1558.4" cy="271.3" r="7.0"/><circle cx="1561.7" cy="271.2" r="7.0"/><circle cx="1565" cy="271.2" r="7.0"/><circle cx="1568.3" cy="271" r="7.0"/><circle cx="1571.5" cy="270.5" r="7.0"/><circle cx="1574.8" cy="271.1" r="7.0"/><circle cx="1578.1" cy="270.6" r="7.0"/><circle cx="1581.4" cy="270.7" r="7.0"/><circle cx="1584.6" cy="271.1" r="7.0"/><circle cx="1587.9" cy="270.9" r="7.0"/><circle cx="1591.2" cy="270.8" r="7.0"/><circle cx="1594.5" cy="271.3" r="7.0"/><circle cx="1597.8" cy="271" r="7.0"/><circle cx="1601" cy="270.8" r="7.0"/><circle cx="1604.3" cy="270.7" r="7.0"/><circle cx="1607.6" cy="271.2" r="7.0"/><circle cx="1610.9" cy="270.9" r="7.0"/><circle cx="1614.1" cy="271.2" r="7.0"/><circle cx="1617.4" cy="270.8" r="7.0"/><circle cx="1620.7" cy="270.6" r="7.0"/><circle cx="1624" cy="271" r="7.0"/><circle cx="1627.3" cy="271.2" r="7.0"/><circle cx="1630.5" cy="270.6" r="7.0"/><circle cx="1633.8" cy="271.2" r="7.0"/><circle cx="1637.1" cy="271.3" r="7.0"/><circle cx="1640.4" cy="271.2" r="7.0"/><circle cx="1643.6" cy="271.2" r="7.0"/><circle cx="1646.9" cy="271" r="7.0"/><circle cx="1650.2" cy="272.1" r="7.0"/><circle cx="1653.5" cy="272.7" r="7.0"/><circle cx="1656.8" cy="272.5" r="7.0"/><circle cx="1660" cy="273.2" r="7.0"/><circle cx="1663.3" cy="273.7" r="7.0"/><circle cx="1666.6" cy="274.4" r="7.0"/><circle cx="1669.9" cy="274.8" r="7.0"/><circle cx="1673.2" cy="275.4" r="7.0"/><circle cx="1676.4" cy="276.2" r="7.0"/><circle cx="1679.7" cy="276.1" r="7.0"/><circle cx="1683" cy="276.7" r="7.0"/><circle cx="1686.3" cy="277.3" r="7.0"/><circle cx="1689.5" cy="277.8" r="7.0"/><circle cx="1692.8" cy="277.6" r="7.0"/><circle cx="1696.1" cy="278.3" r="7.0"/><circle cx="1699.4" cy="278.1" r="7.0"/><circle cx="1702.7" cy="277.3" r="7.0"/><circle cx="1705.9" cy="277.5" r="7.0"/><circle cx="1709.2" cy="277.4" r="7.0"/><circle cx="1712.5" cy="278.3" r="7.0"/><circle cx="1715.8" cy="279.1" r="7.0"/><circle cx="1719" cy="280.1" r="7.0"/><circle cx="1722.3" cy="280.7" r="7.0"/><circle cx="1725.6" cy="280.5" r="7.0"/><circle cx="1728.9" cy="280.4" r="7.0"/><circle cx="1732.2" cy="280.5" r="7.0"/><circle cx="1735.4" cy="280.2" r="7.0"/><circle cx="1738.7" cy="280.6" r="7.0"/><circle cx="1742" cy="280.7" r="7.0"/><circle cx="1745.3" cy="280.4" r="7.0"/><circle cx="1748.5" cy="280.2" r="7.0"/><circle cx="1751.8" cy="280.4" r="7.0"/><circle cx="1755.1" cy="281.1" r="7.0"/><circle cx="1758.4" cy="281.8" r="7.0"/><circle cx="1761.7" cy="282.4" r="7.0"/><circle cx="1764.9" cy="282.6" r="7.0"/><circle cx="1768.2" cy="283.5" r="7.0"/><circle cx="1771.5" cy="283.8" r="7.0"/><circle cx="1774.8" cy="283.8" r="7.0"/><circle cx="1778" cy="283.9" r="7.0"/><circle cx="1781.3" cy="284.1" r="7.0"/><circle cx="1784.6" cy="284.4" r="7.0"/><circle cx="1787.9" cy="284.4" r="7.0"/><circle cx="1791.2" cy="284.8" r="7.0"/><circle cx="1794.4" cy="284.7" r="7.0"/><circle cx="1797.7" cy="284.8" r="7.0"/><circle cx="1801" cy="285.4" r="7.0"/><circle cx="1804.3" cy="286" r="7.0"/><circle cx="1807.5" cy="285.9" r="7.0"/><circle cx="1810.8" cy="286.6" r="7.0"/><circle cx="1814.1" cy="287" r="7.0"/><circle cx="1817.4" cy="287.8" r="7.0"/><circle cx="1820.7" cy="288.3" r="7.0"/><circle cx="1823.9" cy="288.1" r="7.0"/><circle cx="1827.2" cy="288.7" r="7.0"/><circle cx="1830.5" cy="288.7" r="7.0"/><circle cx="1833.8" cy="288.3" r="7.0"/><circle cx="1837.1" cy="288.6" r="7.0"/><circle cx="1840.3" cy="288.4" r="7.0"/><circle cx="1843.6" cy="289.1" r="7.0"/><circle cx="1846.9" cy="289" r="7.0"/><circle cx="1850.2" cy="289.3" r="7.0"/><circle cx="1853.4" cy="289.3" r="7.0"/><circle cx="1856.7" cy="289.3" r="7.0"/><circle cx="1860" cy="289.4" r="7.0"/><circle cx="1863.3" cy="289.3" r="7.0"/><circle cx="1866.6" cy="289" r="7.0"/><circle cx="1869.8" cy="289.6" r="7.0"/><circle cx="1873.1" cy="289.2" r="7.0"/><circle cx="1876.4" cy="289.4" r="7.0"/><circle cx="1879.7" cy="290" r="7.0"/><circle cx="1882.9" cy="289.5" r="7.0"/><circle cx="1886.2" cy="289.6" r="7.0"/><circle cx="1889.5" cy="289.7" r="7.0"/>
</g>
<g fill="url(#gu)">
<circle cx="1401.1" cy="171.8" r="7.0"/><circle cx="1404.4" cy="170.3" r="7.0"/><circle cx="1407.6" cy="165.7" r="7.0"/><circle cx="1410.9" cy="167.8" r="7.0"/><circle cx="1414.2" cy="166.7" r="7.0"/><circle cx="1417.5" cy="166.7" r="7.0"/><circle cx="1420.7" cy="165.8" r="7.0"/><circle cx="1424" cy="169.2" r="7.0"/><circle cx="1427.3" cy="167" r="7.0"/><circle cx="1430.6" cy="174.8" r="7.0"/><circle cx="1433.9" cy="168.4" r="7.0"/><circle cx="1437.1" cy="176.1" r="7.0"/><circle cx="1440.4" cy="174.6" r="7.0"/><circle cx="1443.7" cy="181" r="7.0"/><circle cx="1447" cy="166.6" r="7.0"/><circle cx="1450.2" cy="180" r="7.0"/><circle cx="1453.5" cy="170.7" r="7.0"/><circle cx="1456.8" cy="171.2" r="7.0"/><circle cx="1460.1" cy="181" r="7.0"/><circle cx="1463.4" cy="171.1" r="7.0"/><circle cx="1466.6" cy="174.5" r="7.0"/><circle cx="1469.9" cy="170.3" r="7.0"/><circle cx="1473.2" cy="180.5" r="7.0"/><circle cx="1476.5" cy="176.6" r="7.0"/><circle cx="1479.8" cy="168.5" r="7.0"/><circle cx="1483" cy="177.6" r="7.0"/><circle cx="1486.3" cy="173.6" r="7.0"/><circle cx="1489.6" cy="164.7" r="7.0"/><circle cx="1492.9" cy="170.4" r="7.0"/><circle cx="1496.1" cy="166.9" r="7.0"/><circle cx="1499.4" cy="181" r="7.0"/><circle cx="1502.7" cy="171" r="7.0"/><circle cx="1506" cy="166.5" r="7.0"/><circle cx="1509.3" cy="178" r="7.0"/><circle cx="1512.5" cy="175.3" r="7.0"/><circle cx="1515.8" cy="172.5" r="7.0"/><circle cx="1519.1" cy="182" r="7.0"/><circle cx="1522.4" cy="164.9" r="7.0"/><circle cx="1525.6" cy="177.4" r="7.0"/><circle cx="1528.9" cy="211.2" r="7.0"/><circle cx="1532.2" cy="180" r="7.0"/><circle cx="1535.5" cy="171.4" r="7.0"/><circle cx="1538.8" cy="200.7" r="7.0"/><circle cx="1542" cy="165.2" r="7.0"/><circle cx="1545.3" cy="199.4" r="7.0"/><circle cx="1548.6" cy="183.7" r="7.0"/><circle cx="1551.9" cy="169.8" r="7.0"/><circle cx="1555.1" cy="176.5" r="7.0"/><circle cx="1558.4" cy="198.1" r="7.0"/><circle cx="1561.7" cy="184.4" r="7.0"/><circle cx="1565" cy="175.3" r="7.0"/><circle cx="1568.3" cy="167.6" r="7.0"/><circle cx="1571.5" cy="164" r="7.0"/><circle cx="1574.8" cy="165.7" r="7.0"/><circle cx="1578.1" cy="168.1" r="7.0"/><circle cx="1581.4" cy="170" r="7.0"/><circle cx="1584.6" cy="169.9" r="7.0"/><circle cx="1587.9" cy="169.1" r="7.0"/><circle cx="1591.2" cy="168.6" r="7.0"/><circle cx="1594.5" cy="169" r="7.0"/><circle cx="1597.8" cy="167.8" r="7.0"/><circle cx="1601" cy="162.2" r="7.0"/><circle cx="1604.3" cy="167.5" r="7.0"/><circle cx="1607.6" cy="165" r="7.0"/><circle cx="1610.9" cy="163.3" r="7.0"/><circle cx="1614.1" cy="168.8" r="7.0"/><circle cx="1617.4" cy="171" r="7.0"/><circle cx="1620.7" cy="165.8" r="7.0"/><circle cx="1624" cy="169.7" r="7.0"/><circle cx="1627.3" cy="169.4" r="7.0"/><circle cx="1630.5" cy="170.2" r="7.0"/><circle cx="1633.8" cy="171.9" r="7.0"/><circle cx="1637.1" cy="170" r="7.0"/><circle cx="1640.4" cy="164" r="7.0"/><circle cx="1643.6" cy="169.2" r="7.0"/><circle cx="1646.9" cy="166.5" r="7.0"/><circle cx="1650.2" cy="167.3" r="7.0"/><circle cx="1653.5" cy="169.9" r="7.0"/><circle cx="1656.8" cy="165.7" r="7.0"/><circle cx="1660" cy="170.1" r="7.0"/><circle cx="1663.3" cy="172.8" r="7.0"/><circle cx="1666.6" cy="164.4" r="7.0"/><circle cx="1669.9" cy="171.8" r="7.0"/><circle cx="1673.2" cy="170" r="7.0"/><circle cx="1676.4" cy="167.4" r="7.0"/><circle cx="1679.7" cy="171.1" r="7.0"/><circle cx="1683" cy="164.7" r="7.0"/><circle cx="1686.3" cy="165.4" r="7.0"/><circle cx="1689.5" cy="173.5" r="7.0"/><circle cx="1692.8" cy="169.7" r="7.0"/><circle cx="1696.1" cy="165.4" r="7.0"/><circle cx="1699.4" cy="165.1" r="7.0"/><circle cx="1702.7" cy="168.1" r="7.0"/><circle cx="1705.9" cy="168.7" r="7.0"/><circle cx="1709.2" cy="172.9" r="7.0"/><circle cx="1712.5" cy="165.5" r="7.0"/><circle cx="1715.8" cy="169.6" r="7.0"/><circle cx="1719" cy="167.8" r="7.0"/><circle cx="1722.3" cy="169.4" r="7.0"/><circle cx="1725.6" cy="172.9" r="7.0"/><circle cx="1728.9" cy="164.9" r="7.0"/><circle cx="1732.2" cy="171.8" r="7.0"/><circle cx="1735.4" cy="171" r="7.0"/><circle cx="1738.7" cy="166.5" r="7.0"/><circle cx="1742" cy="165.4" r="7.0"/><circle cx="1745.3" cy="171.4" r="7.0"/><circle cx="1748.5" cy="172.4" r="7.0"/><circle cx="1751.8" cy="167.3" r="7.0"/><circle cx="1755.1" cy="165.3" r="7.0"/><circle cx="1758.4" cy="168.9" r="7.0"/><circle cx="1761.7" cy="170.1" r="7.0"/><circle cx="1764.9" cy="167.3" r="7.0"/><circle cx="1768.2" cy="168.3" r="7.0"/><circle cx="1771.5" cy="165.3" r="7.0"/><circle cx="1774.8" cy="165.8" r="7.0"/><circle cx="1778" cy="166.6" r="7.0"/><circle cx="1781.3" cy="171.4" r="7.0"/><circle cx="1784.6" cy="165" r="7.0"/><circle cx="1787.9" cy="166.1" r="7.0"/><circle cx="1791.2" cy="168.7" r="7.0"/><circle cx="1794.4" cy="166.1" r="7.0"/><circle cx="1797.7" cy="166.9" r="7.0"/><circle cx="1801" cy="171.5" r="7.0"/><circle cx="1804.3" cy="166.5" r="7.0"/><circle cx="1807.5" cy="169.8" r="7.0"/><circle cx="1810.8" cy="165.1" r="7.0"/><circle cx="1814.1" cy="169.4" r="7.0"/><circle cx="1817.4" cy="171" r="7.0"/><circle cx="1820.7" cy="168.6" r="7.0"/><circle cx="1823.9" cy="166" r="7.0"/><circle cx="1827.2" cy="164.2" r="7.0"/><circle cx="1830.5" cy="166.1" r="7.0"/><circle cx="1833.8" cy="167.3" r="7.0"/><circle cx="1837.1" cy="164.4" r="7.0"/><circle cx="1840.3" cy="167.7" r="7.0"/><circle cx="1843.6" cy="169.2" r="7.0"/><circle cx="1846.9" cy="165.3" r="7.0"/><circle cx="1850.2" cy="171.1" r="7.0"/><circle cx="1853.4" cy="173.8" r="7.0"/><circle cx="1856.7" cy="171.4" r="7.0"/><circle cx="1860" cy="168.6" r="7.0"/><circle cx="1863.3" cy="172.1" r="7.0"/><circle cx="1866.6" cy="173.4" r="7.0"/><circle cx="1869.8" cy="173.5" r="7.0"/><circle cx="1873.1" cy="173.3" r="7.0"/><circle cx="1876.4" cy="171.7" r="7.0"/><circle cx="1879.7" cy="173.2" r="7.0"/><circle cx="1882.9" cy="171.2" r="7.0"/><circle cx="1886.2" cy="167.1" r="7.0"/><circle cx="1889.5" cy="165.4" r="7.0"/>
</g>
<g fill="url(#gk)">
<circle cx="1404.6" cy="179.5" r="7.0"/><circle cx="1412.4" cy="179" r="7.0"/><circle cx="1422.2" cy="180" r="7.0"/><circle cx="1432" cy="180" r="7.0"/><circle cx="1484.2" cy="180.5" r="7.0"/><circle cx="1491.4" cy="180.5" r="7.0"/><circle cx="1603" cy="185" r="7.0"/><circle cx="1407.6" cy="165" r="7.0"/><circle cx="1410.9" cy="165" r="7.0"/><circle cx="1414.2" cy="165.3" r="7.0"/><circle cx="1417.5" cy="166" r="7.0"/><circle cx="1420.7" cy="165.4" r="7.0"/><circle cx="1424" cy="166.2" r="7.0"/><circle cx="1427.3" cy="164.9" r="7.0"/><circle cx="1430.6" cy="165.2" r="7.0"/><circle cx="1433.9" cy="165.9" r="7.0"/><circle cx="1437.1" cy="165.6" r="7.0"/><circle cx="1440.4" cy="165.5" r="7.0"/><circle cx="1443.7" cy="166.4" r="7.0"/><circle cx="1447" cy="165.2" r="7.0"/><circle cx="1450.2" cy="165" r="7.0"/><circle cx="1453.5" cy="164.8" r="7.0"/><circle cx="1456.8" cy="165.7" r="7.0"/><circle cx="1460.1" cy="165.3" r="7.0"/><circle cx="1463.4" cy="165.7" r="7.0"/><circle cx="1466.6" cy="164.7" r="7.0"/><circle cx="1469.9" cy="164.8" r="7.0"/><circle cx="1473.2" cy="165.6" r="7.0"/><circle cx="1476.5" cy="166.4" r="7.0"/><circle cx="1479.8" cy="165.4" r="7.0"/><circle cx="1483" cy="166.7" r="7.0"/><circle cx="1486.3" cy="166" r="7.0"/><circle cx="1489.6" cy="165.6" r="7.0"/><circle cx="1492.9" cy="166.4" r="7.0"/><circle cx="1496.1" cy="165.3" r="7.0"/><circle cx="1499.4" cy="166.2" r="7.0"/><circle cx="1502.7" cy="166.6" r="7.0"/><circle cx="1506" cy="166" r="7.0"/><circle cx="1509.3" cy="165.6" r="7.0"/><circle cx="1512.5" cy="165.1" r="7.0"/><circle cx="1515.8" cy="166.1" r="7.0"/><circle cx="1519.1" cy="165.3" r="7.0"/><circle cx="1522.4" cy="165.8" r="7.0"/><circle cx="1525.6" cy="166.1" r="7.0"/><circle cx="1528.9" cy="167" r="7.0"/><circle cx="1532.2" cy="166.8" r="7.0"/><circle cx="1535.5" cy="166.7" r="7.0"/><circle cx="1538.8" cy="167.7" r="7.0"/><circle cx="1542" cy="166.7" r="7.0"/><circle cx="1545.3" cy="167.2" r="7.0"/><circle cx="1548.6" cy="168.2" r="7.0"/><circle cx="1551.9" cy="168.2" r="7.0"/><circle cx="1555.1" cy="167.6" r="7.0"/><circle cx="1558.4" cy="168.5" r="7.0"/><circle cx="1561.7" cy="169.8" r="7.0"/><circle cx="1565" cy="168.7" r="7.0"/><circle cx="1568.3" cy="170.1" r="7.0"/><circle cx="1571.5" cy="168.9" r="7.0"/><circle cx="1574.8" cy="171.3" r="7.0"/><circle cx="1578.1" cy="170.9" r="7.0"/><circle cx="1581.4" cy="170.3" r="7.0"/><circle cx="1584.6" cy="172.6" r="7.0"/><circle cx="1587.9" cy="172.8" r="7.0"/><circle cx="1591.2" cy="171.6" r="7.0"/><circle cx="1594.5" cy="172.8" r="7.0"/><circle cx="1597.8" cy="174.1" r="7.0"/><circle cx="1601" cy="176" r="7.0"/><circle cx="1604.3" cy="174.5" r="7.0"/><circle cx="1607.6" cy="174.8" r="7.0"/><circle cx="1610.9" cy="175.9" r="7.0"/><circle cx="1614.1" cy="175.7" r="7.0"/><circle cx="1617.4" cy="177.2" r="7.0"/><circle cx="1620.7" cy="178" r="7.0"/><circle cx="1624" cy="178.1" r="7.0"/><circle cx="1627.3" cy="177.6" r="7.0"/><circle cx="1630.5" cy="177.7" r="7.0"/><circle cx="1633.8" cy="180.4" r="7.0"/><circle cx="1637.1" cy="179.6" r="7.0"/><circle cx="1640.4" cy="180" r="7.0"/><circle cx="1643.6" cy="180.4" r="7.0"/><circle cx="1646.9" cy="181.4" r="7.0"/><circle cx="1650.2" cy="182.3" r="7.0"/><circle cx="1653.5" cy="182.5" r="7.0"/><circle cx="1656.8" cy="182.4" r="7.0"/><circle cx="1660" cy="181.4" r="7.0"/><circle cx="1663.3" cy="180.9" r="7.0"/><circle cx="1666.6" cy="180.6" r="7.0"/><circle cx="1669.9" cy="182.9" r="7.0"/><circle cx="1673.2" cy="180.4" r="7.0"/><circle cx="1676.4" cy="182" r="7.0"/><circle cx="1679.7" cy="183.2" r="7.0"/><circle cx="1683" cy="181.2" r="7.0"/><circle cx="1686.3" cy="181.5" r="7.0"/><circle cx="1689.5" cy="181.6" r="7.0"/><circle cx="1692.8" cy="183.5" r="7.0"/><circle cx="1696.1" cy="182.6" r="7.0"/><circle cx="1699.4" cy="183.3" r="7.0"/><circle cx="1702.7" cy="183" r="7.0"/><circle cx="1705.9" cy="188.6" r="7.0"/><circle cx="1709.2" cy="190.7" r="7.0"/><circle cx="1712.5" cy="192.5" r="7.0"/><circle cx="1715.8" cy="191.7" r="7.0"/><circle cx="1719" cy="188.9" r="7.0"/><circle cx="1722.3" cy="187.5" r="7.0"/><circle cx="1725.6" cy="184.4" r="7.0"/><circle cx="1728.9" cy="182.8" r="7.0"/><circle cx="1732.2" cy="178.1" r="7.0"/><circle cx="1735.4" cy="176.5" r="7.0"/><circle cx="1738.7" cy="171.1" r="7.0"/><circle cx="1742" cy="170.4" r="7.0"/><circle cx="1745.3" cy="201.4" r="7.0"/><circle cx="1748.5" cy="188.1" r="7.0"/><circle cx="1751.8" cy="193.6" r="7.0"/><circle cx="1755.1" cy="193.5" r="7.0"/><circle cx="1758.4" cy="180.4" r="7.0"/><circle cx="1761.7" cy="184.5" r="7.0"/><circle cx="1764.9" cy="181.4" r="7.0"/><circle cx="1768.2" cy="183.3" r="7.0"/><circle cx="1771.5" cy="194.2" r="7.0"/><circle cx="1774.8" cy="184.6" r="7.0"/><circle cx="1778" cy="182.3" r="7.0"/><circle cx="1781.3" cy="181.9" r="7.0"/><circle cx="1784.6" cy="184.5" r="7.0"/><circle cx="1787.9" cy="187.8" r="7.0"/><circle cx="1791.2" cy="182.2" r="7.0"/><circle cx="1794.4" cy="179.3" r="7.0"/><circle cx="1797.7" cy="179.9" r="7.0"/><circle cx="1801" cy="180.6" r="7.0"/><circle cx="1804.3" cy="192.1" r="7.0"/><circle cx="1807.5" cy="179.7" r="7.0"/><circle cx="1810.8" cy="189.9" r="7.0"/><circle cx="1814.1" cy="176.1" r="7.0"/><circle cx="1817.4" cy="184.7" r="7.0"/><circle cx="1820.7" cy="173.3" r="7.0"/><circle cx="1823.9" cy="178.7" r="7.0"/><circle cx="1827.2" cy="172.2" r="7.0"/><circle cx="1830.5" cy="167.1" r="7.0"/><circle cx="1833.8" cy="168" r="7.0"/><circle cx="1837.1" cy="179.2" r="7.0"/><circle cx="1840.3" cy="175.6" r="7.0"/><circle cx="1843.6" cy="174.6" r="7.0"/><circle cx="1846.9" cy="172.1" r="7.0"/><circle cx="1850.2" cy="177.4" r="7.0"/><circle cx="1853.4" cy="173.9" r="7.0"/><circle cx="1856.7" cy="166.9" r="7.0"/><circle cx="1860" cy="175.1" r="7.0"/><circle cx="1863.3" cy="171.1" r="7.0"/><circle cx="1866.6" cy="179.1" r="7.0"/><circle cx="1869.8" cy="174.1" r="7.0"/><circle cx="1873.1" cy="178.1" r="7.0"/><circle cx="1876.4" cy="168" r="7.0"/><circle cx="1879.7" cy="176.8" r="7.0"/><circle cx="1882.9" cy="175.3" r="7.0"/><circle cx="1886.2" cy="179.5" r="7.0"/><circle cx="1889.5" cy="180.1" r="7.0"/>
</g>
<path d="M1808.5 194.2 V230.8 H1865.5" fill="none" stroke="#6b6b6b" stroke-width="11"/>
<path d="M1865 221.3 L1885 230.8 L1865 240.3 Z" fill="#6b6b6b"/>
<path d="M1397.8 499.6 V99.5 H1889.5" fill="none" stroke="#000" stroke-width="9" stroke-linejoin="miter"/>
<path d="M1397.8 495.1 H1889.5" fill="none" stroke="#000" stroke-width="9"/>
<rect x="1397.8" y="125.6" width="8" height="8.6" fill="#000"/>
<text transform="translate(1388.6 141.3) scale(0.94 1)" font-size="39.6" text-anchor="end" fill="#000">240</text>
<rect x="1397.8" y="216.9" width="8" height="8.6" fill="#000"/>
<text transform="translate(1388.6 232.6) scale(0.94 1)" font-size="39.6" text-anchor="end" fill="#000">180</text>
<rect x="1397.8" y="308.2" width="8" height="8.6" fill="#000"/>
<text transform="translate(1388.6 323.9) scale(0.94 1)" font-size="39.6" text-anchor="end" fill="#000">120</text>
<rect x="1397.8" y="399.5" width="8" height="8.6" fill="#000"/>
<text transform="translate(1388.6 415.2) scale(0.94 1)" font-size="39.6" text-anchor="end" fill="#000">60</text>
<text transform="translate(1388.6 506.5) scale(0.94 1)" font-size="39.6" text-anchor="end" fill="#000">0</text>
<text transform="translate(1398.3 542.6) scale(0.94 1)" font-size="39.6" text-anchor="middle" fill="#000">0</text>
<rect x="1491.6" y="487.1" width="9" height="8" fill="#000"/>
<text transform="translate(1496.6 542.6) scale(0.94 1)" font-size="39.6" text-anchor="middle" fill="#000">30</text>
<rect x="1590" y="487.1" width="9" height="8" fill="#000"/>
<text transform="translate(1595 542.6) scale(0.94 1)" font-size="39.6" text-anchor="middle" fill="#000">60</text>
<rect x="1688.3" y="487.1" width="9" height="8" fill="#000"/>
<text transform="translate(1693.3 542.6) scale(0.94 1)" font-size="39.6" text-anchor="middle" fill="#000">90</text>
<rect x="1786.7" y="487.1" width="9" height="8" fill="#000"/>
<text transform="translate(1791.7 542.6) scale(0.94 1)" font-size="39.6" text-anchor="middle" fill="#000">120</text>
<text transform="translate(1890 542.6) scale(0.94 1)" font-size="39.6" text-anchor="middle" fill="#000">150</text>
<path d="M1889.5 95 V499.6" fill="none" stroke="#6b6b6b" stroke-width="8.6"/>
<rect x="1881.5" y="490.8" width="8" height="8.6" fill="#6b6b6b"/>
<text transform="translate(1897.7 506.6) scale(0.94 1)" font-size="39.6" fill="#6b6b6b">80</text>
<rect x="1881.5" y="408.1" width="8" height="8.6" fill="#6b6b6b"/>
<text transform="translate(1897.7 424.1) scale(0.94 1)" font-size="39.6" fill="#6b6b6b">85</text>
<rect x="1881.5" y="325.4" width="8" height="8.6" fill="#6b6b6b"/>
<text transform="translate(1897.7 341.5) scale(0.94 1)" font-size="39.6" fill="#6b6b6b">90</text>
<rect x="1881.5" y="242.7" width="8" height="8.6" fill="#6b6b6b"/>
<text transform="translate(1897.7 258.9) scale(0.94 1)" font-size="39.6" fill="#6b6b6b">95</text>
<rect x="1881.5" y="160" width="8" height="8.6" fill="#6b6b6b"/>
<text transform="translate(1897.7 176.4) scale(0.94 1)" font-size="39.6" fill="#6b6b6b">100</text>
<text transform="translate(1413.7 139.7) scale(0.97 1)" font-size="38.5" fill="#000">60 mg cm<tspan font-size="24" dy="-14.5">-2</tspan></text>
<text transform="translate(1886.8 139) scale(0.94 1)" font-size="39.6" text-anchor="end" fill="#000">0.2 C</text>
<text transform="translate(1643 573.4) scale(0.97 1)" font-size="38.5" text-anchor="middle" fill="#000" xml:space="preserve" style="white-space:pre">Cycle  Number</text>
<text transform="translate(1316.2 46.8) scale(1 1)" font-size="64.5" fill="#000">c</text>
</g>
<g id="panel-d">
<g fill="url(#gu)">
<circle cx="122.7" cy="856.4" r="7.0"/><circle cx="127.6" cy="856.5" r="7.0"/><circle cx="132.5" cy="856.8" r="7.0"/><circle cx="137.5" cy="856.4" r="7.0"/><circle cx="142.4" cy="856.5" r="7.0"/><circle cx="147.3" cy="856.7" r="7.0"/><circle cx="152.2" cy="856.6" r="7.0"/><circle cx="157.1" cy="856.4" r="7.0"/><circle cx="162" cy="856.9" r="7.0"/><circle cx="167" cy="856.5" r="7.0"/><circle cx="171.9" cy="856.4" r="7.0"/><circle cx="176.8" cy="856.6" r="7.0"/><circle cx="181.7" cy="856.7" r="7.0"/><circle cx="186.6" cy="856.8" r="7.0"/><circle cx="191.5" cy="856.5" r="7.0"/><circle cx="196.5" cy="856.6" r="7.0"/><circle cx="201.4" cy="856.5" r="7.0"/><circle cx="206.3" cy="856.7" r="7.0"/><circle cx="211.2" cy="856.9" r="7.0"/><circle cx="216.1" cy="856.9" r="7.0"/><circle cx="221" cy="857" r="7.0"/><circle cx="226" cy="856.9" r="7.0"/><circle cx="230.9" cy="857" r="7.0"/><circle cx="235.8" cy="856.9" r="7.0"/><circle cx="240.7" cy="856.8" r="7.0"/><circle cx="245.6" cy="857.3" r="7.0"/><circle cx="250.5" cy="858.5" r="7.0"/><circle cx="255.4" cy="859.2" r="7.0"/><circle cx="260.4" cy="860" r="7.0"/><circle cx="265.3" cy="860.8" r="7.0"/><circle cx="270.2" cy="861.6" r="7.0"/><circle cx="275.1" cy="861.8" r="7.0"/><circle cx="280" cy="862.9" r="7.0"/><circle cx="284.9" cy="864.6" r="7.0"/><circle cx="289.9" cy="866.4" r="7.0"/><circle cx="294.8" cy="868" r="7.0"/><circle cx="299.7" cy="870.9" r="7.0"/><circle cx="304.6" cy="873.6" r="7.0"/><circle cx="309.5" cy="876.9" r="7.0"/><circle cx="314.4" cy="880.8" r="7.0"/><circle cx="319.4" cy="885.9" r="7.0"/><circle cx="324.3" cy="892.1" r="7.0"/><circle cx="329.2" cy="900.7" r="7.0"/><circle cx="334.1" cy="915.4" r="7.0"/><circle cx="339" cy="939.8" r="7.0"/><circle cx="343.9" cy="985.3" r="7.0"/><circle cx="348.9" cy="1030.6" r="7.0"/><circle cx="353.8" cy="1041.3" r="7.0"/><circle cx="358.7" cy="1046.7" r="7.0"/><circle cx="363.6" cy="1050.8" r="7.0"/><circle cx="368.5" cy="1053" r="7.0"/><circle cx="373.4" cy="1054" r="7.0"/><circle cx="378.3" cy="1054.6" r="7.0"/><circle cx="383.3" cy="1054.9" r="7.0"/><circle cx="388.2" cy="1055.1" r="7.0"/><circle cx="393.1" cy="1055.5" r="7.0"/><circle cx="398" cy="1055.7" r="7.0"/><circle cx="402.9" cy="1056" r="7.0"/><circle cx="407.8" cy="1056.1" r="7.0"/><circle cx="412.8" cy="1055.9" r="7.0"/><circle cx="417.7" cy="1056" r="7.0"/><circle cx="422.6" cy="1056.1" r="7.0"/><circle cx="427.5" cy="1055.9" r="7.0"/><circle cx="432.4" cy="1055.9" r="7.0"/><circle cx="437.3" cy="1056.2" r="7.0"/><circle cx="442.3" cy="1056" r="7.0"/><circle cx="447.2" cy="1056.4" r="7.0"/><circle cx="452.1" cy="1056.2" r="7.0"/><circle cx="457" cy="1056.1" r="7.0"/><circle cx="461.9" cy="1056.2" r="7.0"/><circle cx="466.8" cy="1056.2" r="7.0"/><circle cx="471.8" cy="1056.3" r="7.0"/><circle cx="476.7" cy="1056.4" r="7.0"/><circle cx="481.6" cy="1056.5" r="7.0"/><circle cx="486.5" cy="1056.4" r="7.0"/><circle cx="491.4" cy="1056.6" r="7.0"/><circle cx="496.3" cy="1056.4" r="7.0"/><circle cx="501.2" cy="1056.8" r="7.0"/><circle cx="506.2" cy="1056.9" r="7.0"/><circle cx="511.1" cy="1056.8" r="7.0"/><circle cx="516" cy="1056.7" r="7.0"/><circle cx="520.9" cy="1056.7" r="7.0"/><circle cx="525.8" cy="1056.8" r="7.0"/><circle cx="530.7" cy="1056.6" r="7.0"/><circle cx="535.7" cy="1056.8" r="7.0"/><circle cx="540.6" cy="1056.9" r="7.0"/><circle cx="545.5" cy="1056.7" r="7.0"/><circle cx="550.4" cy="1056.7" r="7.0"/><circle cx="555.3" cy="1057.1" r="7.0"/><circle cx="560.2" cy="1056.9" r="7.0"/><circle cx="565.2" cy="1057.1" r="7.0"/><circle cx="570.1" cy="1057.3" r="7.0"/><circle cx="575" cy="1057.2" r="7.0"/><circle cx="579.9" cy="1057" r="7.0"/><circle cx="584.8" cy="1057.4" r="7.0"/><circle cx="589.7" cy="1057.1" r="7.0"/><circle cx="594.7" cy="1057" r="7.0"/><circle cx="599.6" cy="1057.4" r="7.0"/><circle cx="604.5" cy="1057.1" r="7.0"/><circle cx="609.4" cy="1057.2" r="7.0"/>
</g>
<g fill="url(#gk)">
<circle cx="122.7" cy="851.1" r="7.0"/><circle cx="127.6" cy="851.1" r="7.0"/><circle cx="132.5" cy="851.7" r="7.0"/><circle cx="137.5" cy="851.4" r="7.0"/><circle cx="142.4" cy="851.4" r="7.0"/><circle cx="147.3" cy="850.9" r="7.0"/><circle cx="152.2" cy="851.3" r="7.0"/><circle cx="157.1" cy="851.4" r="7.0"/><circle cx="162" cy="850.9" r="7.0"/><circle cx="167" cy="851.4" r="7.0"/><circle cx="171.9" cy="851.4" r="7.0"/><circle cx="176.8" cy="850.9" r="7.0"/><circle cx="181.7" cy="851.4" r="7.0"/><circle cx="186.6" cy="851.2" r="7.0"/><circle cx="191.5" cy="851.4" r="7.0"/><circle cx="196.5" cy="851.1" r="7.0"/><circle cx="201.4" cy="851.5" r="7.0"/><circle cx="206.3" cy="851.5" r="7.0"/><circle cx="211.2" cy="850.9" r="7.0"/><circle cx="216.1" cy="850.9" r="7.0"/><circle cx="221" cy="851.5" r="7.0"/><circle cx="226" cy="851.7" r="7.0"/><circle cx="230.9" cy="851.1" r="7.0"/><circle cx="235.8" cy="851.3" r="7.0"/><circle cx="240.7" cy="851.4" r="7.0"/><circle cx="245.6" cy="851.2" r="7.0"/><circle cx="250.5" cy="851.2" r="7.0"/><circle cx="255.4" cy="851.1" r="7.0"/><circle cx="260.4" cy="851.2" r="7.0"/><circle cx="265.3" cy="851.4" r="7.0"/><circle cx="270.2" cy="851.1" r="7.0"/><circle cx="275.1" cy="851.2" r="7.0"/><circle cx="280" cy="851.6" r="7.0"/><circle cx="284.9" cy="851" r="7.0"/><circle cx="289.9" cy="851.4" r="7.0"/><circle cx="294.8" cy="851.6" r="7.0"/><circle cx="299.7" cy="851.2" r="7.0"/><circle cx="304.6" cy="851.2" r="7.0"/><circle cx="309.5" cy="851.7" r="7.0"/><circle cx="314.4" cy="851.2" r="7.0"/><circle cx="319.4" cy="851.1" r="7.0"/><circle cx="324.3" cy="851.3" r="7.0"/><circle cx="329.2" cy="851.5" r="7.0"/><circle cx="334.1" cy="851" r="7.0"/><circle cx="339" cy="851.2" r="7.0"/><circle cx="343.9" cy="851.2" r="7.0"/><circle cx="348.9" cy="851.6" r="7.0"/><circle cx="353.8" cy="851.3" r="7.0"/><circle cx="358.7" cy="851.7" r="7.0"/><circle cx="363.6" cy="851.1" r="7.0"/><circle cx="368.5" cy="851.4" r="7.0"/><circle cx="373.4" cy="851.8" r="7.0"/><circle cx="378.3" cy="852.2" r="7.0"/><circle cx="383.3" cy="851.9" r="7.0"/><circle cx="388.2" cy="851.9" r="7.0"/><circle cx="393.1" cy="851.9" r="7.0"/><circle cx="398" cy="852.4" r="7.0"/><circle cx="402.9" cy="852.2" r="7.0"/><circle cx="407.8" cy="852.9" r="7.0"/><circle cx="412.8" cy="853" r="7.0"/><circle cx="417.7" cy="852.7" r="7.0"/><circle cx="422.6" cy="853.1" r="7.0"/><circle cx="427.5" cy="853.9" r="7.0"/><circle cx="432.4" cy="854" r="7.0"/><circle cx="437.3" cy="854.5" r="7.0"/><circle cx="442.3" cy="854.4" r="7.0"/><circle cx="447.2" cy="854.5" r="7.0"/><circle cx="452.1" cy="855" r="7.0"/><circle cx="457" cy="855.7" r="7.0"/><circle cx="461.9" cy="855.6" r="7.0"/><circle cx="466.8" cy="856" r="7.0"/><circle cx="471.8" cy="856.4" r="7.0"/><circle cx="476.7" cy="856.8" r="7.0"/><circle cx="481.6" cy="857.3" r="7.0"/><circle cx="486.5" cy="858.1" r="7.0"/><circle cx="491.4" cy="857.8" r="7.0"/><circle cx="496.3" cy="858.1" r="7.0"/><circle cx="501.2" cy="859" r="7.0"/><circle cx="506.2" cy="859" r="7.0"/><circle cx="511.1" cy="859.2" r="7.0"/><circle cx="516" cy="858.8" r="7.0"/><circle cx="520.9" cy="859.4" r="7.0"/><circle cx="525.8" cy="859.5" r="7.0"/><circle cx="530.7" cy="859" r="7.0"/><circle cx="535.7" cy="859.7" r="7.0"/><circle cx="540.6" cy="860.1" r="7.0"/><circle cx="545.5" cy="860.1" r="7.0"/><circle cx="550.4" cy="860.3" r="7.0"/><circle cx="555.3" cy="860.4" r="7.0"/><circle cx="560.2" cy="860.7" r="7.0"/><circle cx="565.2" cy="860.8" r="7.0"/><circle cx="570.1" cy="861.1" r="7.0"/><circle cx="575" cy="862.4" r="7.0"/><circle cx="579.9" cy="863" r="7.0"/><circle cx="584.8" cy="864.4" r="7.0"/><circle cx="589.7" cy="864.6" r="7.0"/><circle cx="594.7" cy="866.2" r="7.0"/><circle cx="599.6" cy="866.9" r="7.0"/><circle cx="604.5" cy="868" r="7.0"/><circle cx="609.4" cy="868.6" r="7.0"/>
</g>
<g fill="url(#gu)">
<circle cx="122.7" cy="738.4" r="7.0"/><circle cx="127.6" cy="745.1" r="7.0"/><circle cx="132.5" cy="731.3" r="7.0"/><circle cx="137.5" cy="735.6" r="7.0"/><circle cx="142.4" cy="738.8" r="7.0"/><circle cx="147.3" cy="734.4" r="7.0"/><circle cx="152.2" cy="744.9" r="7.0"/><circle cx="157.1" cy="744.5" r="7.0"/><circle cx="162" cy="736.8" r="7.0"/><circle cx="167" cy="741.6" r="7.0"/><circle cx="171.9" cy="734" r="7.0"/><circle cx="176.8" cy="734.5" r="7.0"/><circle cx="181.7" cy="742.8" r="7.0"/><circle cx="186.6" cy="739.8" r="7.0"/><circle cx="191.5" cy="733.3" r="7.0"/><circle cx="196.5" cy="739.9" r="7.0"/><circle cx="201.4" cy="732.9" r="7.0"/><circle cx="206.3" cy="737" r="7.0"/><circle cx="211.2" cy="732.5" r="7.0"/><circle cx="216.1" cy="745.2" r="7.0"/><circle cx="221" cy="744.8" r="7.0"/><circle cx="226" cy="744" r="7.0"/><circle cx="230.9" cy="737.1" r="7.0"/><circle cx="235.8" cy="733.8" r="7.0"/><circle cx="240.7" cy="745.2" r="7.0"/><circle cx="245.6" cy="745.8" r="7.0"/><circle cx="250.5" cy="734.1" r="7.0"/><circle cx="255.4" cy="739.3" r="7.0"/><circle cx="260.4" cy="732.9" r="7.0"/><circle cx="265.3" cy="742.3" r="7.0"/><circle cx="270.2" cy="748.3" r="7.0"/><circle cx="275.1" cy="733.6" r="7.0"/><circle cx="280" cy="738.9" r="7.0"/><circle cx="284.9" cy="740.2" r="7.0"/><circle cx="289.9" cy="736.6" r="7.0"/><circle cx="294.8" cy="745" r="7.0"/><circle cx="299.7" cy="738.6" r="7.0"/><circle cx="304.6" cy="735.5" r="7.0"/><circle cx="309.5" cy="740.4" r="7.0"/><circle cx="314.4" cy="743" r="7.0"/><circle cx="319.4" cy="736" r="7.0"/><circle cx="324.3" cy="737.7" r="7.0"/><circle cx="329.2" cy="747.4" r="7.0"/><circle cx="334.1" cy="741.9" r="7.0"/><circle cx="339" cy="737.1" r="7.0"/><circle cx="343.9" cy="737.8" r="7.0"/><circle cx="348.9" cy="730.7" r="7.0"/><circle cx="353.8" cy="732.5" r="7.0"/><circle cx="358.7" cy="734.3" r="7.0"/><circle cx="363.6" cy="739.3" r="7.0"/><circle cx="368.5" cy="748.3" r="7.0"/><circle cx="373.4" cy="732.8" r="7.0"/><circle cx="378.3" cy="730.2" r="7.0"/><circle cx="383.3" cy="748.3" r="7.0"/><circle cx="388.2" cy="732.9" r="7.0"/><circle cx="393.1" cy="745" r="7.0"/><circle cx="398" cy="744.8" r="7.0"/><circle cx="402.9" cy="731" r="7.0"/><circle cx="407.8" cy="733.1" r="7.0"/><circle cx="412.8" cy="740.3" r="7.0"/><circle cx="417.7" cy="732.5" r="7.0"/><circle cx="422.6" cy="749" r="7.0"/><circle cx="427.5" cy="744.3" r="7.0"/><circle cx="432.4" cy="738.4" r="7.0"/><circle cx="437.3" cy="747" r="7.0"/><circle cx="442.3" cy="742.1" r="7.0"/><circle cx="447.2" cy="742.9" r="7.0"/><circle cx="452.1" cy="732.8" r="7.0"/><circle cx="457" cy="731.3" r="7.0"/><circle cx="461.9" cy="737" r="7.0"/><circle cx="466.8" cy="736.5" r="7.0"/><circle cx="471.8" cy="736.9" r="7.0"/><circle cx="476.7" cy="741.1" r="7.0"/><circle cx="481.6" cy="739.8" r="7.0"/><circle cx="486.5" cy="745.4" r="7.0"/><circle cx="491.4" cy="730.3" r="7.0"/><circle cx="496.3" cy="735.6" r="7.0"/><circle cx="501.2" cy="734.2" r="7.0"/><circle cx="506.2" cy="742.9" r="7.0"/><circle cx="511.1" cy="732" r="7.0"/><circle cx="516" cy="730.7" r="7.0"/><circle cx="520.9" cy="748.3" r="7.0"/><circle cx="525.8" cy="735.3" r="7.0"/><circle cx="530.7" cy="733.3" r="7.0"/><circle cx="535.7" cy="733.1" r="7.0"/><circle cx="540.6" cy="745" r="7.0"/><circle cx="545.5" cy="736.8" r="7.0"/><circle cx="550.4" cy="744" r="7.0"/><circle cx="555.3" cy="738.6" r="7.0"/><circle cx="560.2" cy="729.7" r="7.0"/><circle cx="565.2" cy="746.3" r="7.0"/><circle cx="570.1" cy="743.2" r="7.0"/><circle cx="575" cy="745.6" r="7.0"/><circle cx="579.9" cy="744.8" r="7.0"/><circle cx="584.8" cy="744.2" r="7.0"/><circle cx="589.7" cy="732" r="7.0"/><circle cx="594.7" cy="737.9" r="7.0"/><circle cx="599.6" cy="732.9" r="7.0"/><circle cx="604.5" cy="736" r="7.0"/><circle cx="609.4" cy="729.3" r="7.0"/>
</g>
<g fill="url(#gk)">
<circle cx="122.7" cy="732.6" r="7.0"/><circle cx="127.6" cy="748.3" r="7.0"/><circle cx="132.5" cy="746.4" r="7.0"/><circle cx="137.5" cy="746" r="7.0"/><circle cx="142.4" cy="741.8" r="7.0"/><circle cx="147.3" cy="748.3" r="7.0"/><circle cx="152.2" cy="739.2" r="7.0"/><circle cx="157.1" cy="748.5" r="7.0"/><circle cx="162" cy="746.4" r="7.0"/><circle cx="167" cy="732.6" r="7.0"/><circle cx="171.9" cy="746.4" r="7.0"/><circle cx="176.8" cy="745.5" r="7.0"/><circle cx="181.7" cy="746.7" r="7.0"/><circle cx="186.6" cy="746.9" r="7.0"/><circle cx="191.5" cy="745.5" r="7.0"/><circle cx="196.5" cy="746.4" r="7.0"/><circle cx="201.4" cy="742.9" r="7.0"/><circle cx="206.3" cy="731.9" r="7.0"/><circle cx="211.2" cy="747.7" r="7.0"/><circle cx="216.1" cy="735.5" r="7.0"/><circle cx="221" cy="735.6" r="7.0"/><circle cx="226" cy="747" r="7.0"/><circle cx="230.9" cy="730.8" r="7.0"/><circle cx="235.8" cy="734.7" r="7.0"/><circle cx="240.7" cy="733.3" r="7.0"/><circle cx="245.6" cy="747.7" r="7.0"/><circle cx="250.5" cy="735.2" r="7.0"/><circle cx="255.4" cy="731.8" r="7.0"/><circle cx="260.4" cy="733.7" r="7.0"/><circle cx="265.3" cy="731.7" r="7.0"/><circle cx="270.2" cy="734.7" r="7.0"/><circle cx="275.1" cy="734" r="7.0"/><circle cx="280" cy="731" r="7.0"/><circle cx="284.9" cy="732.6" r="7.0"/><circle cx="289.9" cy="733.5" r="7.0"/><circle cx="294.8" cy="731.5" r="7.0"/><circle cx="299.7" cy="731.2" r="7.0"/><circle cx="304.6" cy="733.2" r="7.0"/><circle cx="309.5" cy="731.2" r="7.0"/><circle cx="314.4" cy="734.1" r="7.0"/><circle cx="319.4" cy="736.8" r="7.0"/><circle cx="324.3" cy="736.4" r="7.0"/><circle cx="329.2" cy="732" r="7.0"/><circle cx="334.1" cy="736.9" r="7.0"/><circle cx="339" cy="736.5" r="7.0"/><circle cx="343.9" cy="751.6" r="7.0"/><circle cx="348.9" cy="732.8" r="7.0"/><circle cx="353.8" cy="737.6" r="7.0"/><circle cx="358.7" cy="734.3" r="7.0"/><circle cx="363.6" cy="738.3" r="7.0"/><circle cx="368.5" cy="735.5" r="7.0"/><circle cx="373.4" cy="736" r="7.0"/><circle cx="378.3" cy="734.7" r="7.0"/><circle cx="383.3" cy="739" r="7.0"/><circle cx="388.2" cy="735.1" r="7.0"/><circle cx="393.1" cy="739.3" r="7.0"/><circle cx="398" cy="737.3" r="7.0"/><circle cx="402.9" cy="735.2" r="7.0"/><circle cx="407.8" cy="738.5" r="7.0"/><circle cx="412.8" cy="737.6" r="7.0"/><circle cx="417.7" cy="734.7" r="7.0"/><circle cx="422.6" cy="739.4" r="7.0"/><circle cx="427.5" cy="736.2" r="7.0"/><circle cx="432.4" cy="734.8" r="7.0"/><circle cx="437.3" cy="739.3" r="7.0"/><circle cx="442.3" cy="738.9" r="7.0"/><circle cx="447.2" cy="736.7" r="7.0"/><circle cx="452.1" cy="735.3" r="7.0"/><circle cx="457" cy="737.4" r="7.0"/><circle cx="461.9" cy="737.7" r="7.0"/><circle cx="466.8" cy="738.5" r="7.0"/><circle cx="471.8" cy="737.4" r="7.0"/><circle cx="476.7" cy="738" r="7.0"/><circle cx="481.6" cy="738.7" r="7.0"/><circle cx="486.5" cy="735.6" r="7.0"/><circle cx="491.4" cy="735.6" r="7.0"/><circle cx="496.3" cy="737.4" r="7.0"/><circle cx="501.2" cy="753.5" r="7.0"/><circle cx="506.2" cy="739.6" r="7.0"/><circle cx="511.1" cy="740.1" r="7.0"/><circle cx="516" cy="737.5" r="7.0"/><circle cx="520.9" cy="739.3" r="7.0"/><circle cx="525.8" cy="735.6" r="7.0"/><circle cx="530.7" cy="737.8" r="7.0"/><circle cx="535.7" cy="737.1" r="7.0"/><circle cx="540.6" cy="746" r="7.0"/><circle cx="545.5" cy="749.8" r="7.0"/><circle cx="550.4" cy="746.4" r="7.0"/><circle cx="555.3" cy="747" r="7.0"/><circle cx="560.2" cy="743.4" r="7.0"/><circle cx="565.2" cy="747.7" r="7.0"/><circle cx="570.1" cy="740.4" r="7.0"/><circle cx="575" cy="743.6" r="7.0"/><circle cx="579.9" cy="743.3" r="7.0"/><circle cx="584.8" cy="748.6" r="7.0"/><circle cx="589.7" cy="741.6" r="7.0"/><circle cx="594.7" cy="741.6" r="7.0"/><circle cx="599.6" cy="741" r="7.0"/><circle cx="604.5" cy="748.9" r="7.0"/><circle cx="609.4" cy="743.7" r="7.0"/>
</g>
<path d="M532.7 750.9 V787.7 H586.6" fill="none" stroke="#6b6b6b" stroke-width="11"/>
<path d="M586.1 778.2 L606.1 787.7 L586.1 797.2 Z" fill="#6b6b6b"/>
<path d="M117.8 1065.8 V666.3 H609.4" fill="none" stroke="#000" stroke-width="9" stroke-linejoin="miter"/>
<path d="M117.8 1061.3 H609.4" fill="none" stroke="#000" stroke-width="9"/>
<rect x="117.8" y="692.4" width="8" height="8.6" fill="#000"/>
<text transform="translate(108.6 708.1) scale(0.94 1)" font-size="39.6" text-anchor="end" fill="#000">240</text>
<rect x="117.8" y="783.5" width="8" height="8.6" fill="#000"/>
<text transform="translate(108.6 799.2) scale(0.94 1)" font-size="39.6" text-anchor="end" fill="#000">180</text>
<rect x="117.8" y="874.7" width="8" height="8.6" fill="#000"/>
<text transform="translate(108.6 890.4) scale(0.94 1)" font-size="39.6" text-anchor="end" fill="#000">120</text>
<rect x="117.8" y="965.9" width="8" height="8.6" fill="#000"/>
<text transform="translate(108.6 981.5) scale(0.94 1)" font-size="39.6" text-anchor="end" fill="#000">60</text>
<text transform="translate(108.6 1072.7) scale(0.94 1)" font-size="39.6" text-anchor="end" fill="#000">0</text>
<text transform="translate(118.3 1106.3) scale(0.94 1)" font-size="39.6" text-anchor="middle" fill="#000">0</text>
<rect x="211.6" y="1053.3" width="9" height="8" fill="#000"/>
<text transform="translate(216.6 1106.3) scale(0.94 1)" font-size="39.6" text-anchor="middle" fill="#000">20</text>
<rect x="309.9" y="1053.3" width="9" height="8" fill="#000"/>
<text transform="translate(314.9 1106.3) scale(0.94 1)" font-size="39.6" text-anchor="middle" fill="#000">40</text>
<rect x="408.3" y="1053.3" width="9" height="8" fill="#000"/>
<text transform="translate(413.3 1106.3) scale(0.94 1)" font-size="39.6" text-anchor="middle" fill="#000">60</text>
<rect x="506.6" y="1053.3" width="9" height="8" fill="#000"/>
<text transform="translate(511.6 1106.3) scale(0.94 1)" font-size="39.6" text-anchor="middle" fill="#000">80</text>
<text transform="translate(609.9 1106.3) scale(0.94 1)" font-size="39.6" text-anchor="middle" fill="#000">100</text>
<path d="M609.4 661.8 V1065.8" fill="none" stroke="#6b6b6b" stroke-width="8.6"/>
<rect x="601.4" y="1057" width="8" height="8.6" fill="#6b6b6b"/>
<text transform="translate(617.6 1072.9) scale(0.94 1)" font-size="39.6" fill="#6b6b6b">80</text>
<rect x="601.4" y="974.5" width="8" height="8.6" fill="#6b6b6b"/>
<text transform="translate(617.6 990.5) scale(0.94 1)" font-size="39.6" fill="#6b6b6b">85</text>
<rect x="601.4" y="892" width="8" height="8.6" fill="#6b6b6b"/>
<text transform="translate(617.6 908.1) scale(0.94 1)" font-size="39.6" fill="#6b6b6b">90</text>
<rect x="601.4" y="809.4" width="8" height="8.6" fill="#6b6b6b"/>
<text transform="translate(617.6 825.7) scale(0.94 1)" font-size="39.6" fill="#6b6b6b">95</text>
<rect x="601.4" y="726.9" width="8" height="8.6" fill="#6b6b6b"/>
<text transform="translate(617.6 743.3) scale(0.94 1)" font-size="39.6" fill="#6b6b6b">100</text>
<text transform="translate(132.1 706.8) scale(0.97 1)" font-size="38.5" fill="#000">30 mg cm<tspan font-size="24" dy="-14.5">-2</tspan></text>
<text transform="translate(609.7 705.2) scale(0.94 1)" font-size="39.6" text-anchor="end" fill="#000">0.5 C</text>
<text transform="translate(364 1141.5) scale(0.97 1)" font-size="38.5" text-anchor="middle" fill="#000" xml:space="preserve" style="white-space:pre">Cycle  Number</text>
<text transform="translate(31.4 610.8) scale(1 1)" font-size="64.5" fill="#000">d</text>
</g>
<g id="panel-e">
<g fill="url(#gu)">
<circle cx="761.4" cy="892.3" r="7.0"/><circle cx="766.3" cy="887.7" r="7.0"/><circle cx="771.2" cy="887.5" r="7.0"/><circle cx="776.2" cy="886.6" r="7.0"/><circle cx="781.1" cy="886.1" r="7.0"/><circle cx="786" cy="885.2" r="7.0"/><circle cx="790.9" cy="882.6" r="7.0"/><circle cx="795.8" cy="882.9" r="7.0"/><circle cx="800.7" cy="883.9" r="7.0"/><circle cx="805.6" cy="883.6" r="7.0"/><circle cx="810.6" cy="883.6" r="7.0"/><circle cx="815.5" cy="883.8" r="7.0"/><circle cx="820.4" cy="884" r="7.0"/><circle cx="825.3" cy="884.2" r="7.0"/><circle cx="830.2" cy="883.9" r="7.0"/><circle cx="835.1" cy="884.1" r="7.0"/><circle cx="840" cy="884" r="7.0"/><circle cx="845" cy="884.3" r="7.0"/><circle cx="849.9" cy="884.5" r="7.0"/><circle cx="854.8" cy="884.6" r="7.0"/><circle cx="859.7" cy="884.8" r="7.0"/><circle cx="864.6" cy="885" r="7.0"/><circle cx="869.5" cy="885.5" r="7.0"/><circle cx="874.4" cy="886" r="7.0"/><circle cx="879.4" cy="886.9" r="7.0"/><circle cx="884.3" cy="888" r="7.0"/><circle cx="889.2" cy="889.5" r="7.0"/><circle cx="894.1" cy="891.6" r="7.0"/><circle cx="899" cy="894.3" r="7.0"/><circle cx="903.9" cy="898.3" r="7.0"/><circle cx="908.8" cy="903.2" r="7.0"/><circle cx="913.7" cy="908.8" r="7.0"/><circle cx="918.7" cy="916.6" r="7.0"/><circle cx="923.6" cy="926.7" r="7.0"/><circle cx="928.5" cy="941.3" r="7.0"/><circle cx="933.4" cy="969.6" r="7.0"/><circle cx="938.3" cy="1015.1" r="7.0"/><circle cx="943.2" cy="1048.9" r="7.0"/><circle cx="948.1" cy="1051.4" r="7.0"/><circle cx="953.1" cy="1050.4" r="7.0"/><circle cx="958" cy="1052" r="7.0"/><circle cx="962.9" cy="1053.5" r="7.0"/><circle cx="967.8" cy="1053.6" r="7.0"/><circle cx="972.7" cy="1053.8" r="7.0"/><circle cx="977.6" cy="1054.1" r="7.0"/><circle cx="982.5" cy="1054.4" r="7.0"/><circle cx="987.5" cy="1054.5" r="7.0"/><circle cx="992.4" cy="1054.8" r="7.0"/><circle cx="997.3" cy="1054.8" r="7.0"/><circle cx="1002.2" cy="1055.1" r="7.0"/><circle cx="1007.1" cy="1055.1" r="7.0"/><circle cx="1012" cy="1055.2" r="7.0"/><circle cx="1016.9" cy="1054.8" r="7.0"/><circle cx="1021.9" cy="1055" r="7.0"/><circle cx="1026.8" cy="1054.9" r="7.0"/><circle cx="1031.7" cy="1055.1" r="7.0"/><circle cx="1036.6" cy="1055.2" r="7.0"/><circle cx="1041.5" cy="1055.3" r="7.0"/><circle cx="1046.4" cy="1055.3" r="7.0"/><circle cx="1051.3" cy="1055.1" r="7.0"/><circle cx="1056.3" cy="1055.3" r="7.0"/><circle cx="1061.2" cy="1055.3" r="7.0"/><circle cx="1066.1" cy="1055.1" r="7.0"/><circle cx="1071" cy="1055.2" r="7.0"/><circle cx="1075.9" cy="1055.4" r="7.0"/><circle cx="1080.8" cy="1055.3" r="7.0"/><circle cx="1085.7" cy="1055.7" r="7.0"/><circle cx="1090.7" cy="1055.5" r="7.0"/><circle cx="1095.6" cy="1055.4" r="7.0"/><circle cx="1100.5" cy="1055.5" r="7.0"/><circle cx="1105.4" cy="1055.6" r="7.0"/><circle cx="1110.3" cy="1055.6" r="7.0"/><circle cx="1115.2" cy="1055.8" r="7.0"/><circle cx="1120.1" cy="1055.8" r="7.0"/><circle cx="1125.1" cy="1055.7" r="7.0"/><circle cx="1130" cy="1056" r="7.0"/><circle cx="1134.9" cy="1055.8" r="7.0"/><circle cx="1139.8" cy="1056.2" r="7.0"/><circle cx="1144.7" cy="1056.3" r="7.0"/><circle cx="1149.6" cy="1056.2" r="7.0"/><circle cx="1154.5" cy="1056.1" r="7.0"/><circle cx="1159.4" cy="1056.2" r="7.0"/><circle cx="1164.4" cy="1056.3" r="7.0"/><circle cx="1169.3" cy="1056" r="7.0"/><circle cx="1174.2" cy="1056.3" r="7.0"/><circle cx="1179.1" cy="1056.4" r="7.0"/><circle cx="1184" cy="1056.2" r="7.0"/><circle cx="1188.9" cy="1056.2" r="7.0"/><circle cx="1193.8" cy="1056.7" r="7.0"/><circle cx="1198.8" cy="1056.5" r="7.0"/><circle cx="1203.7" cy="1056.6" r="7.0"/><circle cx="1208.6" cy="1056.9" r="7.0"/><circle cx="1213.5" cy="1056.8" r="7.0"/><circle cx="1218.4" cy="1056.6" r="7.0"/><circle cx="1223.3" cy="1057" r="7.0"/><circle cx="1228.2" cy="1056.8" r="7.0"/><circle cx="1233.2" cy="1056.6" r="7.0"/><circle cx="1238.1" cy="1057" r="7.0"/><circle cx="1243" cy="1056.8" r="7.0"/><circle cx="1247.9" cy="1056.9" r="7.0"/>
</g>
<g fill="url(#gk)">
<circle cx="761.4" cy="847.3" r="7.0"/><circle cx="766.3" cy="847.3" r="7.0"/><circle cx="771.2" cy="847.9" r="7.0"/><circle cx="776.2" cy="847.5" r="7.0"/><circle cx="781.1" cy="847.5" r="7.0"/><circle cx="786" cy="847" r="7.0"/><circle cx="790.9" cy="847.3" r="7.0"/><circle cx="795.8" cy="847.4" r="7.0"/><circle cx="800.7" cy="846.9" r="7.0"/><circle cx="805.6" cy="847.4" r="7.0"/><circle cx="810.6" cy="847.4" r="7.0"/><circle cx="815.5" cy="846.9" r="7.0"/><circle cx="820.4" cy="847.3" r="7.0"/><circle cx="825.3" cy="847.2" r="7.0"/><circle cx="830.2" cy="847.3" r="7.0"/><circle cx="835.1" cy="847" r="7.0"/><circle cx="840" cy="847.3" r="7.0"/><circle cx="845" cy="847.3" r="7.0"/><circle cx="849.9" cy="846.7" r="7.0"/><circle cx="854.8" cy="846.7" r="7.0"/><circle cx="859.7" cy="847.2" r="7.0"/><circle cx="864.6" cy="847.5" r="7.0"/><circle cx="869.5" cy="846.9" r="7.0"/><circle cx="874.4" cy="847" r="7.0"/><circle cx="879.4" cy="847.1" r="7.0"/><circle cx="884.3" cy="846.8" r="7.0"/><circle cx="889.2" cy="846.8" r="7.0"/><circle cx="894.1" cy="846.7" r="7.0"/><circle cx="899" cy="846.8" r="7.0"/><circle cx="903.9" cy="847" r="7.0"/><circle cx="908.8" cy="846.7" r="7.0"/><circle cx="913.7" cy="846.7" r="7.0"/><circle cx="918.7" cy="847.1" r="7.0"/><circle cx="923.6" cy="846.5" r="7.0"/><circle cx="928.5" cy="846.9" r="7.0"/><circle cx="933.4" cy="847.1" r="7.0"/><circle cx="938.3" cy="846.7" r="7.0"/><circle cx="943.2" cy="846.7" r="7.0"/><circle cx="948.1" cy="847.6" r="7.0"/><circle cx="953.1" cy="847.5" r="7.0"/><circle cx="958" cy="847.8" r="7.0"/><circle cx="962.9" cy="848.3" r="7.0"/><circle cx="967.8" cy="848.9" r="7.0"/><circle cx="972.7" cy="849.1" r="7.0"/><circle cx="977.6" cy="849.9" r="7.0"/><circle cx="982.5" cy="850.6" r="7.0"/><circle cx="987.5" cy="851.6" r="7.0"/><circle cx="992.4" cy="851.8" r="7.0"/><circle cx="997.3" cy="852.7" r="7.0"/><circle cx="1002.2" cy="852.7" r="7.0"/><circle cx="1007.1" cy="853.2" r="7.0"/><circle cx="1012" cy="853.7" r="7.0"/><circle cx="1016.9" cy="854.2" r="7.0"/><circle cx="1021.9" cy="854" r="7.0"/><circle cx="1026.8" cy="854.1" r="7.0"/><circle cx="1031.7" cy="854.3" r="7.0"/><circle cx="1036.6" cy="854.9" r="7.0"/><circle cx="1041.5" cy="854.8" r="7.0"/><circle cx="1046.4" cy="855.6" r="7.0"/><circle cx="1051.3" cy="855.8" r="7.0"/><circle cx="1056.3" cy="855.5" r="7.0"/><circle cx="1061.2" cy="855.8" r="7.0"/><circle cx="1066.1" cy="856.4" r="7.0"/><circle cx="1071" cy="856.2" r="7.0"/><circle cx="1075.9" cy="856.5" r="7.0"/><circle cx="1080.8" cy="856.2" r="7.0"/><circle cx="1085.7" cy="856" r="7.0"/><circle cx="1090.7" cy="856.2" r="7.0"/><circle cx="1095.6" cy="856.7" r="7.0"/><circle cx="1100.5" cy="856.3" r="7.0"/><circle cx="1105.4" cy="856.5" r="7.0"/><circle cx="1110.3" cy="856.7" r="7.0"/><circle cx="1115.2" cy="856.8" r="7.0"/><circle cx="1120.1" cy="856.9" r="7.0"/><circle cx="1125.1" cy="857.5" r="7.0"/><circle cx="1130" cy="856.9" r="7.0"/><circle cx="1134.9" cy="856.9" r="7.0"/><circle cx="1139.8" cy="857.9" r="7.0"/><circle cx="1144.7" cy="857.9" r="7.0"/><circle cx="1149.6" cy="858.1" r="7.0"/><circle cx="1154.5" cy="857.8" r="7.0"/><circle cx="1159.4" cy="858.3" r="7.0"/><circle cx="1164.4" cy="858.6" r="7.0"/><circle cx="1169.3" cy="858.3" r="7.0"/><circle cx="1174.2" cy="859.1" r="7.0"/><circle cx="1179.1" cy="859.5" r="7.0"/><circle cx="1184" cy="859.6" r="7.0"/><circle cx="1188.9" cy="859.8" r="7.0"/><circle cx="1193.8" cy="860" r="7.0"/><circle cx="1198.8" cy="860.3" r="7.0"/><circle cx="1203.7" cy="860.7" r="7.0"/><circle cx="1208.6" cy="861.2" r="7.0"/><circle cx="1213.5" cy="862.2" r="7.0"/><circle cx="1218.4" cy="862.5" r="7.0"/><circle cx="1223.3" cy="863.5" r="7.0"/><circle cx="1228.2" cy="863.4" r="7.0"/><circle cx="1233.2" cy="865.2" r="7.0"/><circle cx="1238.1" cy="866.3" r="7.0"/><circle cx="1243" cy="867.8" r="7.0"/><circle cx="1247.9" cy="868.8" r="7.0"/>
</g>
<g fill="url(#gu)">
<circle cx="761.4" cy="761.4" r="7.0"/><circle cx="766.3" cy="731.5" r="7.0"/><circle cx="771.2" cy="733.7" r="7.0"/><circle cx="776.2" cy="741.3" r="7.0"/><circle cx="781.1" cy="735.9" r="7.0"/><circle cx="786" cy="733.5" r="7.0"/><circle cx="790.9" cy="745.4" r="7.0"/><circle cx="795.8" cy="735" r="7.0"/><circle cx="800.7" cy="743.4" r="7.0"/><circle cx="805.6" cy="741.5" r="7.0"/><circle cx="810.6" cy="739.5" r="7.0"/><circle cx="815.5" cy="740.9" r="7.0"/><circle cx="820.4" cy="739.8" r="7.0"/><circle cx="825.3" cy="744" r="7.0"/><circle cx="830.2" cy="741.8" r="7.0"/><circle cx="835.1" cy="735.4" r="7.0"/><circle cx="840" cy="741.5" r="7.0"/><circle cx="845" cy="738.9" r="7.0"/><circle cx="849.9" cy="745.7" r="7.0"/><circle cx="854.8" cy="732.7" r="7.0"/><circle cx="859.7" cy="738.3" r="7.0"/><circle cx="864.6" cy="746" r="7.0"/><circle cx="869.5" cy="731.9" r="7.0"/><circle cx="874.4" cy="741.8" r="7.0"/><circle cx="879.4" cy="745.1" r="7.0"/><circle cx="884.3" cy="740" r="7.0"/><circle cx="889.2" cy="731.9" r="7.0"/><circle cx="894.1" cy="743.7" r="7.0"/><circle cx="899" cy="735.7" r="7.0"/><circle cx="903.9" cy="739.5" r="7.0"/><circle cx="908.8" cy="744.5" r="7.0"/><circle cx="913.7" cy="736.6" r="7.0"/><circle cx="918.7" cy="735.2" r="7.0"/><circle cx="923.6" cy="733" r="7.0"/><circle cx="928.5" cy="736.5" r="7.0"/><circle cx="933.4" cy="732.5" r="7.0"/><circle cx="938.3" cy="741.7" r="7.0"/><circle cx="943.2" cy="744" r="7.0"/><circle cx="948.1" cy="732.2" r="7.0"/><circle cx="953.1" cy="739.5" r="7.0"/><circle cx="958" cy="743.7" r="7.0"/><circle cx="962.9" cy="743.6" r="7.0"/><circle cx="967.8" cy="735.7" r="7.0"/><circle cx="972.7" cy="740.1" r="7.0"/><circle cx="977.6" cy="743" r="7.0"/><circle cx="982.5" cy="740.8" r="7.0"/><circle cx="987.5" cy="748.2" r="7.0"/><circle cx="992.4" cy="747" r="7.0"/><circle cx="997.3" cy="747.6" r="7.0"/><circle cx="1002.2" cy="733" r="7.0"/><circle cx="1007.1" cy="728.5" r="7.0"/><circle cx="1012" cy="731.6" r="7.0"/><circle cx="1016.9" cy="731.6" r="7.0"/><circle cx="1021.9" cy="729.2" r="7.0"/><circle cx="1026.8" cy="729.1" r="7.0"/><circle cx="1031.7" cy="733.7" r="7.0"/><circle cx="1036.6" cy="733.7" r="7.0"/><circle cx="1041.5" cy="726.8" r="7.0"/><circle cx="1046.4" cy="727.5" r="7.0"/><circle cx="1051.3" cy="732.5" r="7.0"/><circle cx="1056.3" cy="730" r="7.0"/><circle cx="1061.2" cy="727.7" r="7.0"/><circle cx="1066.1" cy="734.5" r="7.0"/><circle cx="1071" cy="728.9" r="7.0"/><circle cx="1075.9" cy="726.6" r="7.0"/><circle cx="1080.8" cy="729.5" r="7.0"/><circle cx="1085.7" cy="729.9" r="7.0"/><circle cx="1090.7" cy="732" r="7.0"/><circle cx="1095.6" cy="733.5" r="7.0"/><circle cx="1100.5" cy="727.9" r="7.0"/><circle cx="1105.4" cy="731.4" r="7.0"/><circle cx="1110.3" cy="734.9" r="7.0"/><circle cx="1115.2" cy="731.2" r="7.0"/><circle cx="1120.1" cy="734.6" r="7.0"/><circle cx="1125.1" cy="734.5" r="7.0"/><circle cx="1130" cy="733.5" r="7.0"/><circle cx="1134.9" cy="732.3" r="7.0"/><circle cx="1139.8" cy="727.4" r="7.0"/><circle cx="1144.7" cy="734.7" r="7.0"/><circle cx="1149.6" cy="728.9" r="7.0"/><circle cx="1154.5" cy="729" r="7.0"/><circle cx="1159.4" cy="730.9" r="7.0"/><circle cx="1164.4" cy="731.5" r="7.0"/><circle cx="1169.3" cy="733.7" r="7.0"/><circle cx="1174.2" cy="731.7" r="7.0"/><circle cx="1179.1" cy="734.9" r="7.0"/><circle cx="1184" cy="733.5" r="7.0"/><circle cx="1188.9" cy="731.8" r="7.0"/><circle cx="1193.8" cy="728.4" r="7.0"/><circle cx="1198.8" cy="731.6" r="7.0"/><circle cx="1203.7" cy="730.5" r="7.0"/><circle cx="1208.6" cy="733.1" r="7.0"/><circle cx="1213.5" cy="729.5" r="7.0"/><circle cx="1218.4" cy="734.1" r="7.0"/><circle cx="1223.3" cy="733.3" r="7.0"/><circle cx="1228.2" cy="728.9" r="7.0"/><circle cx="1233.2" cy="735.5" r="7.0"/><circle cx="1238.1" cy="731.2" r="7.0"/><circle cx="1243" cy="730.8" r="7.0"/><circle cx="1247.9" cy="730" r="7.0"/>
</g>
<g fill="url(#gk)">
<circle cx="761.4" cy="756.2" r="7.0"/><circle cx="766.3" cy="732.6" r="7.0"/><circle cx="771.2" cy="735.6" r="7.0"/><circle cx="776.2" cy="743.2" r="7.0"/><circle cx="781.1" cy="746.4" r="7.0"/><circle cx="786" cy="744.4" r="7.0"/><circle cx="790.9" cy="736.6" r="7.0"/><circle cx="795.8" cy="743.4" r="7.0"/><circle cx="800.7" cy="735.9" r="7.0"/><circle cx="805.6" cy="743.1" r="7.0"/><circle cx="810.6" cy="738.7" r="7.0"/><circle cx="815.5" cy="740.2" r="7.0"/><circle cx="820.4" cy="744" r="7.0"/><circle cx="825.3" cy="730" r="7.0"/><circle cx="830.2" cy="737.4" r="7.0"/><circle cx="835.1" cy="745" r="7.0"/><circle cx="840" cy="735.4" r="7.0"/><circle cx="845" cy="739.5" r="7.0"/><circle cx="849.9" cy="730.3" r="7.0"/><circle cx="854.8" cy="746.4" r="7.0"/><circle cx="859.7" cy="743.5" r="7.0"/><circle cx="864.6" cy="743.1" r="7.0"/><circle cx="869.5" cy="732.9" r="7.0"/><circle cx="874.4" cy="729.5" r="7.0"/><circle cx="879.4" cy="735.8" r="7.0"/><circle cx="884.3" cy="732.5" r="7.0"/><circle cx="889.2" cy="729.8" r="7.0"/><circle cx="894.1" cy="731.8" r="7.0"/><circle cx="899" cy="737.6" r="7.0"/><circle cx="903.9" cy="736.2" r="7.0"/><circle cx="908.8" cy="729.7" r="7.0"/><circle cx="913.7" cy="738.5" r="7.0"/><circle cx="918.7" cy="730.8" r="7.0"/><circle cx="923.6" cy="734.7" r="7.0"/><circle cx="928.5" cy="735.2" r="7.0"/><circle cx="933.4" cy="737.3" r="7.0"/><circle cx="938.3" cy="731.8" r="7.0"/><circle cx="943.2" cy="738" r="7.0"/><circle cx="948.1" cy="733.5" r="7.0"/><circle cx="953.1" cy="738" r="7.0"/><circle cx="958" cy="739.8" r="7.0"/><circle cx="962.9" cy="736.8" r="7.0"/><circle cx="967.8" cy="731.6" r="7.0"/><circle cx="972.7" cy="737.7" r="7.0"/><circle cx="977.6" cy="735.9" r="7.0"/><circle cx="982.5" cy="738.8" r="7.0"/><circle cx="987.5" cy="749.6" r="7.0"/><circle cx="992.4" cy="733.3" r="7.0"/><circle cx="997.3" cy="737.7" r="7.0"/><circle cx="1002.2" cy="738.4" r="7.0"/><circle cx="1007.1" cy="741.2" r="7.0"/><circle cx="1012" cy="738.1" r="7.0"/><circle cx="1016.9" cy="738.2" r="7.0"/><circle cx="1021.9" cy="739.8" r="7.0"/><circle cx="1026.8" cy="734.1" r="7.0"/><circle cx="1031.7" cy="740.4" r="7.0"/><circle cx="1036.6" cy="738.1" r="7.0"/><circle cx="1041.5" cy="738.3" r="7.0"/><circle cx="1046.4" cy="733.5" r="7.0"/><circle cx="1051.3" cy="737" r="7.0"/><circle cx="1056.3" cy="736.5" r="7.0"/><circle cx="1061.2" cy="734.1" r="7.0"/><circle cx="1066.1" cy="741.6" r="7.0"/><circle cx="1071" cy="740.6" r="7.0"/><circle cx="1075.9" cy="737" r="7.0"/><circle cx="1080.8" cy="733.1" r="7.0"/><circle cx="1085.7" cy="742.6" r="7.0"/><circle cx="1090.7" cy="734" r="7.0"/><circle cx="1095.6" cy="738" r="7.0"/><circle cx="1100.5" cy="738.4" r="7.0"/><circle cx="1105.4" cy="741.4" r="7.0"/><circle cx="1110.3" cy="739.2" r="7.0"/><circle cx="1115.2" cy="738.5" r="7.0"/><circle cx="1120.1" cy="737.6" r="7.0"/><circle cx="1125.1" cy="742.6" r="7.0"/><circle cx="1130" cy="741.3" r="7.0"/><circle cx="1134.9" cy="736.8" r="7.0"/><circle cx="1139.8" cy="741.5" r="7.0"/><circle cx="1144.7" cy="743.1" r="7.0"/><circle cx="1149.6" cy="738.2" r="7.0"/><circle cx="1154.5" cy="737" r="7.0"/><circle cx="1159.4" cy="740" r="7.0"/><circle cx="1164.4" cy="750" r="7.0"/><circle cx="1169.3" cy="742" r="7.0"/><circle cx="1174.2" cy="748.4" r="7.0"/><circle cx="1179.1" cy="741.6" r="7.0"/><circle cx="1184" cy="741.8" r="7.0"/><circle cx="1188.9" cy="740.8" r="7.0"/><circle cx="1193.8" cy="748.2" r="7.0"/><circle cx="1198.8" cy="740.1" r="7.0"/><circle cx="1203.7" cy="744" r="7.0"/><circle cx="1208.6" cy="748" r="7.0"/><circle cx="1213.5" cy="745.2" r="7.0"/><circle cx="1218.4" cy="739.2" r="7.0"/><circle cx="1223.3" cy="739.2" r="7.0"/><circle cx="1228.2" cy="751.5" r="7.0"/><circle cx="1233.2" cy="748.9" r="7.0"/><circle cx="1238.1" cy="749.9" r="7.0"/><circle cx="1243" cy="755.7" r="7.0"/><circle cx="1247.9" cy="757.1" r="7.0"/>
</g>
<path d="M1170.4 751.2 V788 H1224.7" fill="none" stroke="#6b6b6b" stroke-width="11"/>
<path d="M1224.2 778.5 L1244.2 788 L1224.2 797.5 Z" fill="#6b6b6b"/>
<path d="M756.5 1064.2 V664.6 H1247.9" fill="none" stroke="#000" stroke-width="9" stroke-linejoin="miter"/>
<path d="M756.5 1059.7 H1247.9" fill="none" stroke="#000" stroke-width="9"/>
<rect x="756.5" y="690.7" width="8" height="8.6" fill="#000"/>
<text transform="translate(747.3 706.4) scale(0.94 1)" font-size="39.6" text-anchor="end" fill="#000">240</text>
<rect x="756.5" y="781.9" width="8" height="8.6" fill="#000"/>
<text transform="translate(747.3 797.6) scale(0.94 1)" font-size="39.6" text-anchor="end" fill="#000">180</text>
<rect x="756.5" y="873.1" width="8" height="8.6" fill="#000"/>
<text transform="translate(747.3 888.8) scale(0.94 1)" font-size="39.6" text-anchor="end" fill="#000">120</text>
<rect x="756.5" y="964.2" width="8" height="8.6" fill="#000"/>
<text transform="translate(747.3 979.9) scale(0.94 1)" font-size="39.6" text-anchor="end" fill="#000">60</text>
<text transform="translate(747.3 1071.1) scale(0.94 1)" font-size="39.6" text-anchor="end" fill="#000">0</text>
<text transform="translate(757 1102.5) scale(0.94 1)" font-size="39.6" text-anchor="middle" fill="#000">0</text>
<rect x="850.3" y="1051.7" width="9" height="8" fill="#000"/>
<text transform="translate(855.3 1102.5) scale(0.94 1)" font-size="39.6" text-anchor="middle" fill="#000">20</text>
<rect x="948.6" y="1051.7" width="9" height="8" fill="#000"/>
<text transform="translate(953.6 1102.5) scale(0.94 1)" font-size="39.6" text-anchor="middle" fill="#000">40</text>
<rect x="1046.8" y="1051.7" width="9" height="8" fill="#000"/>
<text transform="translate(1051.8 1102.5) scale(0.94 1)" font-size="39.6" text-anchor="middle" fill="#000">60</text>
<rect x="1145.1" y="1051.7" width="9" height="8" fill="#000"/>
<text transform="translate(1150.1 1102.5) scale(0.94 1)" font-size="39.6" text-anchor="middle" fill="#000">80</text>
<text transform="translate(1248.4 1102.5) scale(0.94 1)" font-size="39.6" text-anchor="middle" fill="#000">100</text>
<path d="M1247.9 660.1 V1064.2" fill="none" stroke="#6b6b6b" stroke-width="8.6"/>
<rect x="1239.9" y="1055.4" width="8" height="8.6" fill="#6b6b6b"/>
<text transform="translate(1256.1 1071.3) scale(0.94 1)" font-size="39.6" fill="#6b6b6b">80</text>
<rect x="1239.9" y="973.1" width="8" height="8.6" fill="#6b6b6b"/>
<text transform="translate(1256.1 989.1) scale(0.94 1)" font-size="39.6" fill="#6b6b6b">85</text>
<rect x="1239.9" y="890.8" width="8" height="8.6" fill="#6b6b6b"/>
<text transform="translate(1256.1 906.9) scale(0.94 1)" font-size="39.6" fill="#6b6b6b">90</text>
<rect x="1239.9" y="808.4" width="8" height="8.6" fill="#6b6b6b"/>
<text transform="translate(1256.1 824.7) scale(0.94 1)" font-size="39.6" fill="#6b6b6b">95</text>
<rect x="1239.9" y="726.1" width="8" height="8.6" fill="#6b6b6b"/>
<text transform="translate(1256.1 742.5) scale(0.94 1)" font-size="39.6" fill="#6b6b6b">100</text>
<text transform="translate(771.2 703.3) scale(0.97 1)" font-size="38.5" fill="#000">40 mg cm<tspan font-size="24" dy="-14.5">-2</tspan></text>
<text transform="translate(1245.2 704.2) scale(0.94 1)" font-size="39.6" text-anchor="end" fill="#000">0.5 C</text>
<text transform="translate(1003 1142.4) scale(0.97 1)" font-size="38.5" text-anchor="middle" fill="#000" xml:space="preserve" style="white-space:pre">Cycle  Number</text>
<text transform="translate(675.3 611.2) scale(1 1)" font-size="64.5" fill="#000">e</text>
</g>
<g id="panel-f">
<g fill="url(#gu)">
<circle cx="1399.3" cy="895.4" r="7.0"/><circle cx="1404.2" cy="895.2" r="7.0"/><circle cx="1409.1" cy="895.1" r="7.0"/><circle cx="1414.1" cy="894.3" r="7.0"/><circle cx="1419" cy="893.9" r="7.0"/><circle cx="1423.9" cy="893.8" r="7.0"/><circle cx="1428.8" cy="893.2" r="7.0"/><circle cx="1433.7" cy="893.1" r="7.0"/><circle cx="1438.6" cy="894.2" r="7.0"/><circle cx="1443.5" cy="894.5" r="7.0"/><circle cx="1448.5" cy="895" r="7.0"/><circle cx="1453.4" cy="895.8" r="7.0"/><circle cx="1458.3" cy="896.6" r="7.0"/><circle cx="1463.2" cy="897.3" r="7.0"/><circle cx="1468.1" cy="897.9" r="7.0"/><circle cx="1473" cy="899.9" r="7.0"/><circle cx="1477.9" cy="901.7" r="7.0"/><circle cx="1482.9" cy="903.7" r="7.0"/><circle cx="1487.8" cy="905.8" r="7.0"/><circle cx="1492.7" cy="907.6" r="7.0"/><circle cx="1497.6" cy="909.6" r="7.0"/><circle cx="1502.5" cy="911.1" r="7.0"/><circle cx="1507.4" cy="912.7" r="7.0"/><circle cx="1512.3" cy="914.1" r="7.0"/><circle cx="1517.2" cy="915.4" r="7.0"/><circle cx="1522.2" cy="916.8" r="7.0"/><circle cx="1527.1" cy="918.5" r="7.0"/><circle cx="1532" cy="919.8" r="7.0"/><circle cx="1536.9" cy="921.1" r="7.0"/><circle cx="1541.8" cy="922.8" r="7.0"/><circle cx="1546.7" cy="924.5" r="7.0"/><circle cx="1551.6" cy="925.5" r="7.0"/><circle cx="1556.6" cy="927.3" r="7.0"/><circle cx="1561.5" cy="928.6" r="7.0"/><circle cx="1566.4" cy="930.3" r="7.0"/><circle cx="1571.3" cy="931.9" r="7.0"/><circle cx="1576.2" cy="934.1" r="7.0"/><circle cx="1581.1" cy="935.5" r="7.0"/><circle cx="1586" cy="937.9" r="7.0"/><circle cx="1591" cy="940.8" r="7.0"/><circle cx="1595.9" cy="943.5" r="7.0"/><circle cx="1600.8" cy="946.7" r="7.0"/><circle cx="1605.7" cy="949.7" r="7.0"/><circle cx="1610.6" cy="953.4" r="7.0"/><circle cx="1615.5" cy="957" r="7.0"/><circle cx="1620.4" cy="960.3" r="7.0"/><circle cx="1625.4" cy="963.2" r="7.0"/><circle cx="1630.3" cy="966.4" r="7.0"/><circle cx="1635.2" cy="968.5" r="7.0"/><circle cx="1640.1" cy="970.9" r="7.0"/><circle cx="1645" cy="973.1" r="7.0"/><circle cx="1649.9" cy="975.3" r="7.0"/><circle cx="1654.8" cy="977.1" r="7.0"/><circle cx="1659.8" cy="979.3" r="7.0"/><circle cx="1664.7" cy="980.9" r="7.0"/><circle cx="1669.6" cy="982.7" r="7.0"/><circle cx="1674.5" cy="984.5" r="7.0"/><circle cx="1679.4" cy="986.9" r="7.0"/><circle cx="1684.3" cy="989.6" r="7.0"/><circle cx="1689.2" cy="992.1" r="7.0"/><circle cx="1694.2" cy="995.2" r="7.0"/><circle cx="1699.1" cy="1000.6" r="7.0"/><circle cx="1704" cy="1005" r="7.0"/><circle cx="1708.9" cy="1008" r="7.0"/><circle cx="1713.8" cy="1011.1" r="7.0"/><circle cx="1718.7" cy="1013.9" r="7.0"/><circle cx="1723.6" cy="1017.3" r="7.0"/><circle cx="1728.6" cy="1020.2" r="7.0"/><circle cx="1733.5" cy="1023" r="7.0"/><circle cx="1738.4" cy="1024.9" r="7.0"/><circle cx="1743.3" cy="1026.7" r="7.0"/><circle cx="1748.2" cy="1028.4" r="7.0"/><circle cx="1753.1" cy="1030.1" r="7.0"/><circle cx="1758" cy="1031.6" r="7.0"/><circle cx="1763" cy="1033" r="7.0"/><circle cx="1767.9" cy="1034.6" r="7.0"/><circle cx="1772.8" cy="1035.8" r="7.0"/><circle cx="1777.7" cy="1037.6" r="7.0"/><circle cx="1782.6" cy="1039.1" r="7.0"/><circle cx="1787.5" cy="1040.2" r="7.0"/><circle cx="1792.4" cy="1041.3" r="7.0"/><circle cx="1797.3" cy="1042.5" r="7.0"/><circle cx="1802.3" cy="1043.5" r="7.0"/><circle cx="1807.2" cy="1044" r="7.0"/><circle cx="1812.1" cy="1044.9" r="7.0"/><circle cx="1817" cy="1045.7" r="7.0"/><circle cx="1821.9" cy="1045.9" r="7.0"/><circle cx="1826.8" cy="1046.2" r="7.0"/><circle cx="1831.7" cy="1047" r="7.0"/><circle cx="1836.7" cy="1047.1" r="7.0"/><circle cx="1841.6" cy="1047.6" r="7.0"/><circle cx="1846.5" cy="1048.1" r="7.0"/><circle cx="1851.4" cy="1048.3" r="7.0"/><circle cx="1856.3" cy="1048.6" r="7.0"/><circle cx="1861.2" cy="1049.3" r="7.0"/><circle cx="1866.1" cy="1049.4" r="7.0"/><circle cx="1871.1" cy="1049.6" r="7.0"/><circle cx="1876" cy="1050.4" r="7.0"/><circle cx="1880.9" cy="1050.4" r="7.0"/><circle cx="1885.8" cy="1050.9" r="7.0"/>
</g>
<g fill="url(#gk)">
<circle cx="1399.3" cy="847.2" r="7.0"/><circle cx="1404.2" cy="847.2" r="7.0"/><circle cx="1409.1" cy="847.8" r="7.0"/><circle cx="1414.1" cy="847.3" r="7.0"/><circle cx="1419" cy="847.3" r="7.0"/><circle cx="1423.9" cy="846.8" r="7.0"/><circle cx="1428.8" cy="847.2" r="7.0"/><circle cx="1433.7" cy="847.3" r="7.0"/><circle cx="1438.6" cy="846.7" r="7.0"/><circle cx="1443.5" cy="847.2" r="7.0"/><circle cx="1448.5" cy="847.2" r="7.0"/><circle cx="1453.4" cy="846.6" r="7.0"/><circle cx="1458.3" cy="847.1" r="7.0"/><circle cx="1463.2" cy="846.9" r="7.0"/><circle cx="1468.1" cy="847" r="7.0"/><circle cx="1473" cy="846.7" r="7.0"/><circle cx="1477.9" cy="847" r="7.0"/><circle cx="1482.9" cy="847" r="7.0"/><circle cx="1487.8" cy="848.7" r="7.0"/><circle cx="1492.7" cy="855.3" r="7.0"/><circle cx="1497.6" cy="858.8" r="7.0"/><circle cx="1502.5" cy="860.9" r="7.0"/><circle cx="1507.4" cy="860.1" r="7.0"/><circle cx="1512.3" cy="860.2" r="7.0"/><circle cx="1517.2" cy="860.2" r="7.0"/><circle cx="1522.2" cy="859.8" r="7.0"/><circle cx="1527.1" cy="859.7" r="7.0"/><circle cx="1532" cy="860.8" r="7.0"/><circle cx="1536.9" cy="862.3" r="7.0"/><circle cx="1541.8" cy="862.7" r="7.0"/><circle cx="1546.7" cy="862.7" r="7.0"/><circle cx="1551.6" cy="863" r="7.0"/><circle cx="1556.6" cy="863.6" r="7.0"/><circle cx="1561.5" cy="863.1" r="7.0"/><circle cx="1566.4" cy="863.8" r="7.0"/><circle cx="1571.3" cy="864" r="7.0"/><circle cx="1576.2" cy="863.7" r="7.0"/><circle cx="1581.1" cy="863.6" r="7.0"/><circle cx="1586" cy="864.2" r="7.0"/><circle cx="1591" cy="863.7" r="7.0"/><circle cx="1595.9" cy="863.7" r="7.0"/><circle cx="1600.8" cy="864" r="7.0"/><circle cx="1605.7" cy="864.2" r="7.0"/><circle cx="1610.6" cy="863.8" r="7.0"/><circle cx="1615.5" cy="864" r="7.0"/><circle cx="1620.4" cy="864.1" r="7.0"/><circle cx="1625.4" cy="864.5" r="7.0"/><circle cx="1630.3" cy="864.2" r="7.0"/><circle cx="1635.2" cy="864.6" r="7.0"/><circle cx="1640.1" cy="863.7" r="7.0"/><circle cx="1645" cy="863.5" r="7.0"/><circle cx="1649.9" cy="863.5" r="7.0"/><circle cx="1654.8" cy="863.4" r="7.0"/><circle cx="1659.8" cy="862.7" r="7.0"/><circle cx="1664.7" cy="862.2" r="7.0"/><circle cx="1669.6" cy="861.8" r="7.0"/><circle cx="1674.5" cy="861.9" r="7.0"/><circle cx="1679.4" cy="862" r="7.0"/><circle cx="1684.3" cy="863" r="7.0"/><circle cx="1689.2" cy="863.5" r="7.0"/><circle cx="1694.2" cy="863.4" r="7.0"/><circle cx="1699.1" cy="863.1" r="7.0"/><circle cx="1704" cy="863.2" r="7.0"/><circle cx="1708.9" cy="862.6" r="7.0"/><circle cx="1713.8" cy="862.4" r="7.0"/><circle cx="1718.7" cy="863.1" r="7.0"/><circle cx="1723.6" cy="868.9" r="7.0"/><circle cx="1728.6" cy="874.5" r="7.0"/><circle cx="1733.5" cy="877.7" r="7.0"/><circle cx="1738.4" cy="880.6" r="7.0"/><circle cx="1743.3" cy="885.3" r="7.0"/><circle cx="1748.2" cy="888.8" r="7.0"/><circle cx="1753.1" cy="890.9" r="7.0"/><circle cx="1758" cy="893.1" r="7.0"/><circle cx="1763" cy="895.6" r="7.0"/><circle cx="1767.9" cy="898.1" r="7.0"/><circle cx="1772.8" cy="900.6" r="7.0"/><circle cx="1777.7" cy="901.4" r="7.0"/><circle cx="1782.6" cy="901.3" r="7.0"/><circle cx="1787.5" cy="901.4" r="7.0"/><circle cx="1792.4" cy="901.2" r="7.0"/><circle cx="1797.3" cy="903.2" r="7.0"/><circle cx="1802.3" cy="902.4" r="7.0"/><circle cx="1807.2" cy="901.2" r="7.0"/><circle cx="1812.1" cy="902.6" r="7.0"/><circle cx="1817" cy="906" r="7.0"/><circle cx="1821.9" cy="909.1" r="7.0"/><circle cx="1826.8" cy="912.2" r="7.0"/><circle cx="1831.7" cy="916.8" r="7.0"/><circle cx="1836.7" cy="921.3" r="7.0"/><circle cx="1841.6" cy="923" r="7.0"/><circle cx="1846.5" cy="927.1" r="7.0"/><circle cx="1851.4" cy="931.3" r="7.0"/><circle cx="1856.3" cy="934.3" r="7.0"/><circle cx="1861.2" cy="937.3" r="7.0"/><circle cx="1866.1" cy="938.1" r="7.0"/><circle cx="1871.1" cy="937.8" r="7.0"/><circle cx="1876" cy="937.7" r="7.0"/><circle cx="1880.9" cy="941" r="7.0"/><circle cx="1885.8" cy="946.3" r="7.0"/>
</g>
<g fill="url(#gu)">
<circle cx="1399.3" cy="736.1" r="7.0"/><circle cx="1404.2" cy="728.7" r="7.0"/><circle cx="1409.1" cy="741.7" r="7.0"/><circle cx="1414.1" cy="739.2" r="7.0"/><circle cx="1419" cy="737.3" r="7.0"/><circle cx="1423.9" cy="737.9" r="7.0"/><circle cx="1428.8" cy="728.7" r="7.0"/><circle cx="1433.7" cy="738" r="7.0"/><circle cx="1438.6" cy="738.9" r="7.0"/><circle cx="1443.5" cy="731.3" r="7.0"/><circle cx="1448.5" cy="741.5" r="7.0"/><circle cx="1453.4" cy="731.3" r="7.0"/><circle cx="1458.3" cy="730.9" r="7.0"/><circle cx="1463.2" cy="732.9" r="7.0"/><circle cx="1468.1" cy="742" r="7.0"/><circle cx="1473" cy="737" r="7.0"/><circle cx="1477.9" cy="734.3" r="7.0"/><circle cx="1482.9" cy="743.5" r="7.0"/><circle cx="1487.8" cy="747.6" r="7.0"/><circle cx="1492.7" cy="737.8" r="7.0"/><circle cx="1497.6" cy="741.8" r="7.0"/><circle cx="1502.5" cy="741" r="7.0"/><circle cx="1507.4" cy="741.1" r="7.0"/><circle cx="1512.3" cy="742.4" r="7.0"/><circle cx="1517.2" cy="747.8" r="7.0"/><circle cx="1522.2" cy="747" r="7.0"/><circle cx="1527.1" cy="747.6" r="7.0"/><circle cx="1532" cy="745.1" r="7.0"/><circle cx="1536.9" cy="746.2" r="7.0"/><circle cx="1541.8" cy="746.6" r="7.0"/><circle cx="1546.7" cy="748.6" r="7.0"/><circle cx="1551.6" cy="749.7" r="7.0"/><circle cx="1556.6" cy="751.1" r="7.0"/><circle cx="1561.5" cy="747.9" r="7.0"/><circle cx="1566.4" cy="749.9" r="7.0"/><circle cx="1571.3" cy="751.1" r="7.0"/><circle cx="1576.2" cy="752" r="7.0"/><circle cx="1581.1" cy="754.1" r="7.0"/><circle cx="1586" cy="757.3" r="7.0"/><circle cx="1591" cy="759" r="7.0"/><circle cx="1595.9" cy="762.4" r="7.0"/><circle cx="1600.8" cy="764" r="7.0"/><circle cx="1605.7" cy="764" r="7.0"/><circle cx="1610.6" cy="761.4" r="7.0"/><circle cx="1615.5" cy="761.1" r="7.0"/><circle cx="1620.4" cy="758.5" r="7.0"/><circle cx="1625.4" cy="758.1" r="7.0"/><circle cx="1630.3" cy="755.8" r="7.0"/><circle cx="1635.2" cy="755.2" r="7.0"/><circle cx="1640.1" cy="753.7" r="7.0"/><circle cx="1645" cy="754.3" r="7.0"/><circle cx="1649.9" cy="754.3" r="7.0"/><circle cx="1654.8" cy="746.7" r="7.0"/><circle cx="1659.8" cy="732.5" r="7.0"/><circle cx="1664.7" cy="738.2" r="7.0"/><circle cx="1669.6" cy="733.5" r="7.0"/><circle cx="1674.5" cy="731.5" r="7.0"/><circle cx="1679.4" cy="740.6" r="7.0"/><circle cx="1684.3" cy="737.9" r="7.0"/><circle cx="1689.2" cy="745" r="7.0"/><circle cx="1694.2" cy="742.5" r="7.0"/><circle cx="1699.1" cy="730" r="7.0"/><circle cx="1704" cy="743.8" r="7.0"/><circle cx="1708.9" cy="737.7" r="7.0"/><circle cx="1713.8" cy="744.9" r="7.0"/><circle cx="1718.7" cy="734.9" r="7.0"/><circle cx="1723.6" cy="738.1" r="7.0"/><circle cx="1728.6" cy="741.8" r="7.0"/><circle cx="1733.5" cy="735.2" r="7.0"/><circle cx="1738.4" cy="737.3" r="7.0"/><circle cx="1743.3" cy="735.1" r="7.0"/><circle cx="1748.2" cy="734.4" r="7.0"/><circle cx="1753.1" cy="737.4" r="7.0"/><circle cx="1758" cy="736.3" r="7.0"/><circle cx="1763" cy="742.9" r="7.0"/><circle cx="1767.9" cy="733.1" r="7.0"/><circle cx="1772.8" cy="733.1" r="7.0"/><circle cx="1777.7" cy="734.1" r="7.0"/><circle cx="1782.6" cy="729.6" r="7.0"/><circle cx="1787.5" cy="734.6" r="7.0"/><circle cx="1792.4" cy="735.2" r="7.0"/><circle cx="1797.3" cy="731.6" r="7.0"/><circle cx="1802.3" cy="738.2" r="7.0"/><circle cx="1807.2" cy="731.4" r="7.0"/><circle cx="1812.1" cy="742.1" r="7.0"/><circle cx="1817" cy="743.9" r="7.0"/><circle cx="1821.9" cy="738.4" r="7.0"/><circle cx="1826.8" cy="731.8" r="7.0"/><circle cx="1831.7" cy="730.9" r="7.0"/><circle cx="1836.7" cy="729.3" r="7.0"/><circle cx="1841.6" cy="731.4" r="7.0"/><circle cx="1846.5" cy="741.9" r="7.0"/><circle cx="1851.4" cy="740.5" r="7.0"/><circle cx="1856.3" cy="742.1" r="7.0"/><circle cx="1861.2" cy="734.5" r="7.0"/><circle cx="1866.1" cy="737.1" r="7.0"/><circle cx="1871.1" cy="739.2" r="7.0"/><circle cx="1876" cy="738.2" r="7.0"/><circle cx="1880.9" cy="737.4" r="7.0"/><circle cx="1885.8" cy="727.7" r="7.0"/>
</g>
<g fill="url(#gk)">
<circle cx="1399" cy="739.2" r="7.0"/><circle cx="1403.5" cy="747" r="7.0"/><circle cx="1408.1" cy="737.9" r="7.0"/><circle cx="1412.7" cy="737.2" r="7.0"/><circle cx="1417.3" cy="735.9" r="7.0"/><circle cx="1423.8" cy="758.1" r="7.0"/><circle cx="1427.1" cy="745.1" r="7.0"/><circle cx="1432.3" cy="730.7" r="7.0"/><circle cx="1438.2" cy="749" r="7.0"/><circle cx="1442.1" cy="734.6" r="7.0"/><circle cx="1447.9" cy="763.3" r="7.0"/><circle cx="1452.5" cy="743.1" r="7.0"/><circle cx="1457.1" cy="734.6" r="7.0"/><circle cx="1463" cy="762" r="7.0"/><circle cx="1466.9" cy="741.8" r="7.0"/><circle cx="1472.1" cy="737.2" r="7.0"/><circle cx="1477.3" cy="749" r="7.0"/><circle cx="1482.5" cy="737.9" r="7.0"/><circle cx="1486.5" cy="739.8" r="7.0"/><circle cx="1491.7" cy="732" r="7.0"/><circle cx="1496.9" cy="737.9" r="7.0"/><circle cx="1500.8" cy="751.6" r="7.0"/><circle cx="1506.1" cy="750.3" r="7.0"/><circle cx="1510.6" cy="737.2" r="7.0"/><circle cx="1515.2" cy="739.8" r="7.0"/><circle cx="1521.7" cy="731.3" r="7.0"/><circle cx="1525" cy="741.8" r="7.0"/><circle cx="1529.6" cy="734.6" r="7.0"/><circle cx="1536.1" cy="732.6" r="7.0"/><circle cx="1540" cy="745.1" r="7.0"/><circle cx="1545.2" cy="735.9" r="7.0"/><circle cx="1550.5" cy="745.1" r="7.0"/><circle cx="1555.7" cy="732" r="7.0"/><circle cx="1559.6" cy="744.4" r="7.0"/><circle cx="1564.2" cy="745.1" r="7.0"/><circle cx="1570" cy="737.2" r="7.0"/><circle cx="1575.3" cy="739.2" r="7.0"/><circle cx="1579.2" cy="738.5" r="7.0"/><circle cx="1584.4" cy="735.9" r="7.0"/><circle cx="1590.3" cy="730.7" r="7.0"/><circle cx="1596.2" cy="734.6" r="7.0"/><circle cx="1600.7" cy="734.2" r="7.0"/><circle cx="1605.3" cy="734.6" r="7.0"/><circle cx="1610.5" cy="737.9" r="7.0"/><circle cx="1615.1" cy="735.9" r="7.0"/><circle cx="1619.7" cy="735.3" r="7.0"/><circle cx="1624.2" cy="735" r="7.0"/><circle cx="1628.8" cy="737.2" r="7.0"/><circle cx="1634" cy="740.5" r="7.0"/><circle cx="1638.6" cy="730.7" r="7.0"/><circle cx="1640.2" cy="731.3" r="7.0"/><circle cx="1642.8" cy="737.9" r="7.0"/><circle cx="1648.1" cy="745.7" r="7.0"/><circle cx="1653.3" cy="731.3" r="7.0"/><circle cx="1658.5" cy="736.6" r="7.0"/><circle cx="1663.1" cy="734" r="7.0"/><circle cx="1667.6" cy="732" r="7.0"/><circle cx="1672.9" cy="743.1" r="7.0"/><circle cx="1678.1" cy="736.6" r="7.0"/><circle cx="1683.3" cy="731.3" r="7.0"/><circle cx="1687.2" cy="748.3" r="7.0"/><circle cx="1692.5" cy="736.6" r="7.0"/><circle cx="1697.7" cy="741.8" r="7.0"/><circle cx="1702.2" cy="740.5" r="7.0"/><circle cx="1706.8" cy="739.8" r="7.0"/><circle cx="1713.3" cy="756.2" r="7.0"/><circle cx="1717.3" cy="739.2" r="7.0"/><circle cx="1721.2" cy="735.3" r="7.0"/><circle cx="1726.4" cy="739.8" r="7.0"/><circle cx="1731.6" cy="750.3" r="7.0"/><circle cx="1737.5" cy="732" r="7.0"/><circle cx="1742.1" cy="749" r="7.0"/><circle cx="1747.3" cy="749.6" r="7.0"/><circle cx="1751.2" cy="749.6" r="7.0"/><circle cx="1756.4" cy="736.6" r="7.0"/><circle cx="1761.7" cy="737.9" r="7.0"/><circle cx="1766.9" cy="738.5" r="7.0"/><circle cx="1771.5" cy="742.4" r="7.0"/><circle cx="1776" cy="730" r="7.0"/><circle cx="1779.9" cy="735.3" r="7.0"/><circle cx="1785.8" cy="731.3" r="7.0"/><circle cx="1790.4" cy="738.5" r="7.0"/><circle cx="1795.6" cy="737.9" r="7.0"/><circle cx="1800.8" cy="739.2" r="7.0"/><circle cx="1805.4" cy="742.4" r="7.0"/><circle cx="1810" cy="746.4" r="7.0"/><circle cx="1815.2" cy="749" r="7.0"/><circle cx="1820.4" cy="751.6" r="7.0"/><circle cx="1824.3" cy="749.6" r="7.0"/><circle cx="1829.6" cy="745.1" r="7.0"/><circle cx="1836.1" cy="756.2" r="7.0"/><circle cx="1839.4" cy="744.4" r="7.0"/><circle cx="1845.2" cy="735.3" r="7.0"/><circle cx="1849.2" cy="748.3" r="7.0"/><circle cx="1854.4" cy="751.6" r="7.0"/><circle cx="1859.6" cy="741.1" r="7.0"/><circle cx="1865.5" cy="758.8" r="7.0"/><circle cx="1868.7" cy="748.3" r="7.0"/><circle cx="1874" cy="751.6" r="7.0"/><circle cx="1879.2" cy="753.5" r="7.0"/><circle cx="1885.7" cy="777" r="7.0"/>
</g>
<path d="M1804.5 758.1 V795 H1861.8" fill="none" stroke="#6b6b6b" stroke-width="11"/>
<path d="M1861.3 785.5 L1881.3 795 L1861.3 804.5 Z" fill="#6b6b6b"/>
<path d="M1394.4 1064.2 V664.6 H1885.8" fill="none" stroke="#000" stroke-width="9" stroke-linejoin="miter"/>
<path d="M1394.4 1059.7 H1885.8" fill="none" stroke="#000" stroke-width="9"/>
<rect x="1394.4" y="690.7" width="8" height="8.6" fill="#000"/>
<text transform="translate(1385.2 706.4) scale(0.94 1)" font-size="39.6" text-anchor="end" fill="#000">240</text>
<rect x="1394.4" y="781.9" width="8" height="8.6" fill="#000"/>
<text transform="translate(1385.2 797.6) scale(0.94 1)" font-size="39.6" text-anchor="end" fill="#000">180</text>
<rect x="1394.4" y="873.1" width="8" height="8.6" fill="#000"/>
<text transform="translate(1385.2 888.8) scale(0.94 1)" font-size="39.6" text-anchor="end" fill="#000">120</text>
<rect x="1394.4" y="964.2" width="8" height="8.6" fill="#000"/>
<text transform="translate(1385.2 979.9) scale(0.94 1)" font-size="39.6" text-anchor="end" fill="#000">60</text>
<text transform="translate(1385.2 1071.1) scale(0.94 1)" font-size="39.6" text-anchor="end" fill="#000">0</text>
<text transform="translate(1394.9 1100.2) scale(0.94 1)" font-size="39.6" text-anchor="middle" fill="#000">0</text>
<rect x="1488.2" y="1051.7" width="9" height="8" fill="#000"/>
<text transform="translate(1493.2 1100.2) scale(0.94 1)" font-size="39.6" text-anchor="middle" fill="#000">20</text>
<rect x="1586.5" y="1051.7" width="9" height="8" fill="#000"/>
<text transform="translate(1591.5 1100.2) scale(0.94 1)" font-size="39.6" text-anchor="middle" fill="#000">40</text>
<rect x="1684.7" y="1051.7" width="9" height="8" fill="#000"/>
<text transform="translate(1689.7 1100.2) scale(0.94 1)" font-size="39.6" text-anchor="middle" fill="#000">60</text>
<rect x="1783" y="1051.7" width="9" height="8" fill="#000"/>
<text transform="translate(1788 1100.2) scale(0.94 1)" font-size="39.6" text-anchor="middle" fill="#000">80</text>
<text transform="translate(1886.3 1100.2) scale(0.94 1)" font-size="39.6" text-anchor="middle" fill="#000">100</text>
<path d="M1885.8 660.1 V1064.2" fill="none" stroke="#6b6b6b" stroke-width="8.6"/>
<rect x="1877.8" y="1055.4" width="8" height="8.6" fill="#6b6b6b"/>
<text transform="translate(1894 1070.5) scale(0.94 1)" font-size="39.6" fill="#6b6b6b">80</text>
<rect x="1877.8" y="972.8" width="8" height="8.6" fill="#6b6b6b"/>
<text transform="translate(1894 988.2) scale(0.94 1)" font-size="39.6" fill="#6b6b6b">85</text>
<rect x="1877.8" y="890.2" width="8" height="8.6" fill="#6b6b6b"/>
<text transform="translate(1894 906) scale(0.94 1)" font-size="39.6" fill="#6b6b6b">90</text>
<rect x="1877.8" y="807.6" width="8" height="8.6" fill="#6b6b6b"/>
<text transform="translate(1894 823.7) scale(0.94 1)" font-size="39.6" fill="#6b6b6b">95</text>
<rect x="1877.8" y="725" width="8" height="8.6" fill="#6b6b6b"/>
<text transform="translate(1894 741.4) scale(0.94 1)" font-size="39.6" fill="#6b6b6b">100</text>
<text transform="translate(1410.7 706.8) scale(0.97 1)" font-size="38.5" fill="#000">60 mg cm<tspan font-size="24" dy="-14.5">-2</tspan></text>
<text transform="translate(1886.1 705.2) scale(0.94 1)" font-size="39.6" text-anchor="end" fill="#000">0.5 C</text>
<text transform="translate(1640 1140.6) scale(0.97 1)" font-size="38.5" text-anchor="middle" fill="#000" xml:space="preserve" style="white-space:pre">Cycle  Number</text>
<text transform="translate(1323 624.4) scale(1 1)" font-size="64.5" fill="#000">f</text>
</g>
<text transform="translate(34.4 296.6) rotate(-90) scale(0.97 1)" font-size="38.5" text-anchor="middle" fill="#000" xml:space="preserve" style="white-space:pre">Specific  Capicity (mAh g<tspan font-size="26" dy="-16">-1</tspan><tspan dy="16">)</tspan></text>
<text transform="translate(34.4 863) rotate(-90) scale(0.97 1)" font-size="38.5" text-anchor="middle" fill="#000" xml:space="preserve" style="white-space:pre">Specific  Capicity (mAh g<tspan font-size="26" dy="-16">-1</tspan><tspan dy="16">)</tspan></text>
<text transform="translate(1983.5 292) rotate(-90) scale(0.97 1)" font-size="38.5" text-anchor="middle" fill="#6b6b6b">Coulombic Efficiency (%)</text>
<text transform="translate(1979.4 858) rotate(-90) scale(0.97 1)" font-size="38.5" text-anchor="middle" fill="#6b6b6b">Coulombic Efficiency (%)</text>
<circle cx="1415.1" cy="988.3" r="8.6" fill="url(#gu)"/><circle cx="1415.1" cy="1024.7" r="8.6" fill="url(#gk)"/>
<text transform="translate(1430.6 998.7) scale(1 1)" font-size="25.7" fill="#000">Unstructured LFP</text>
<text transform="translate(1430.6 1033.8) scale(1 1)" font-size="25.7" fill="#000">Laser-structured LFP</text>
</svg></body></html>
